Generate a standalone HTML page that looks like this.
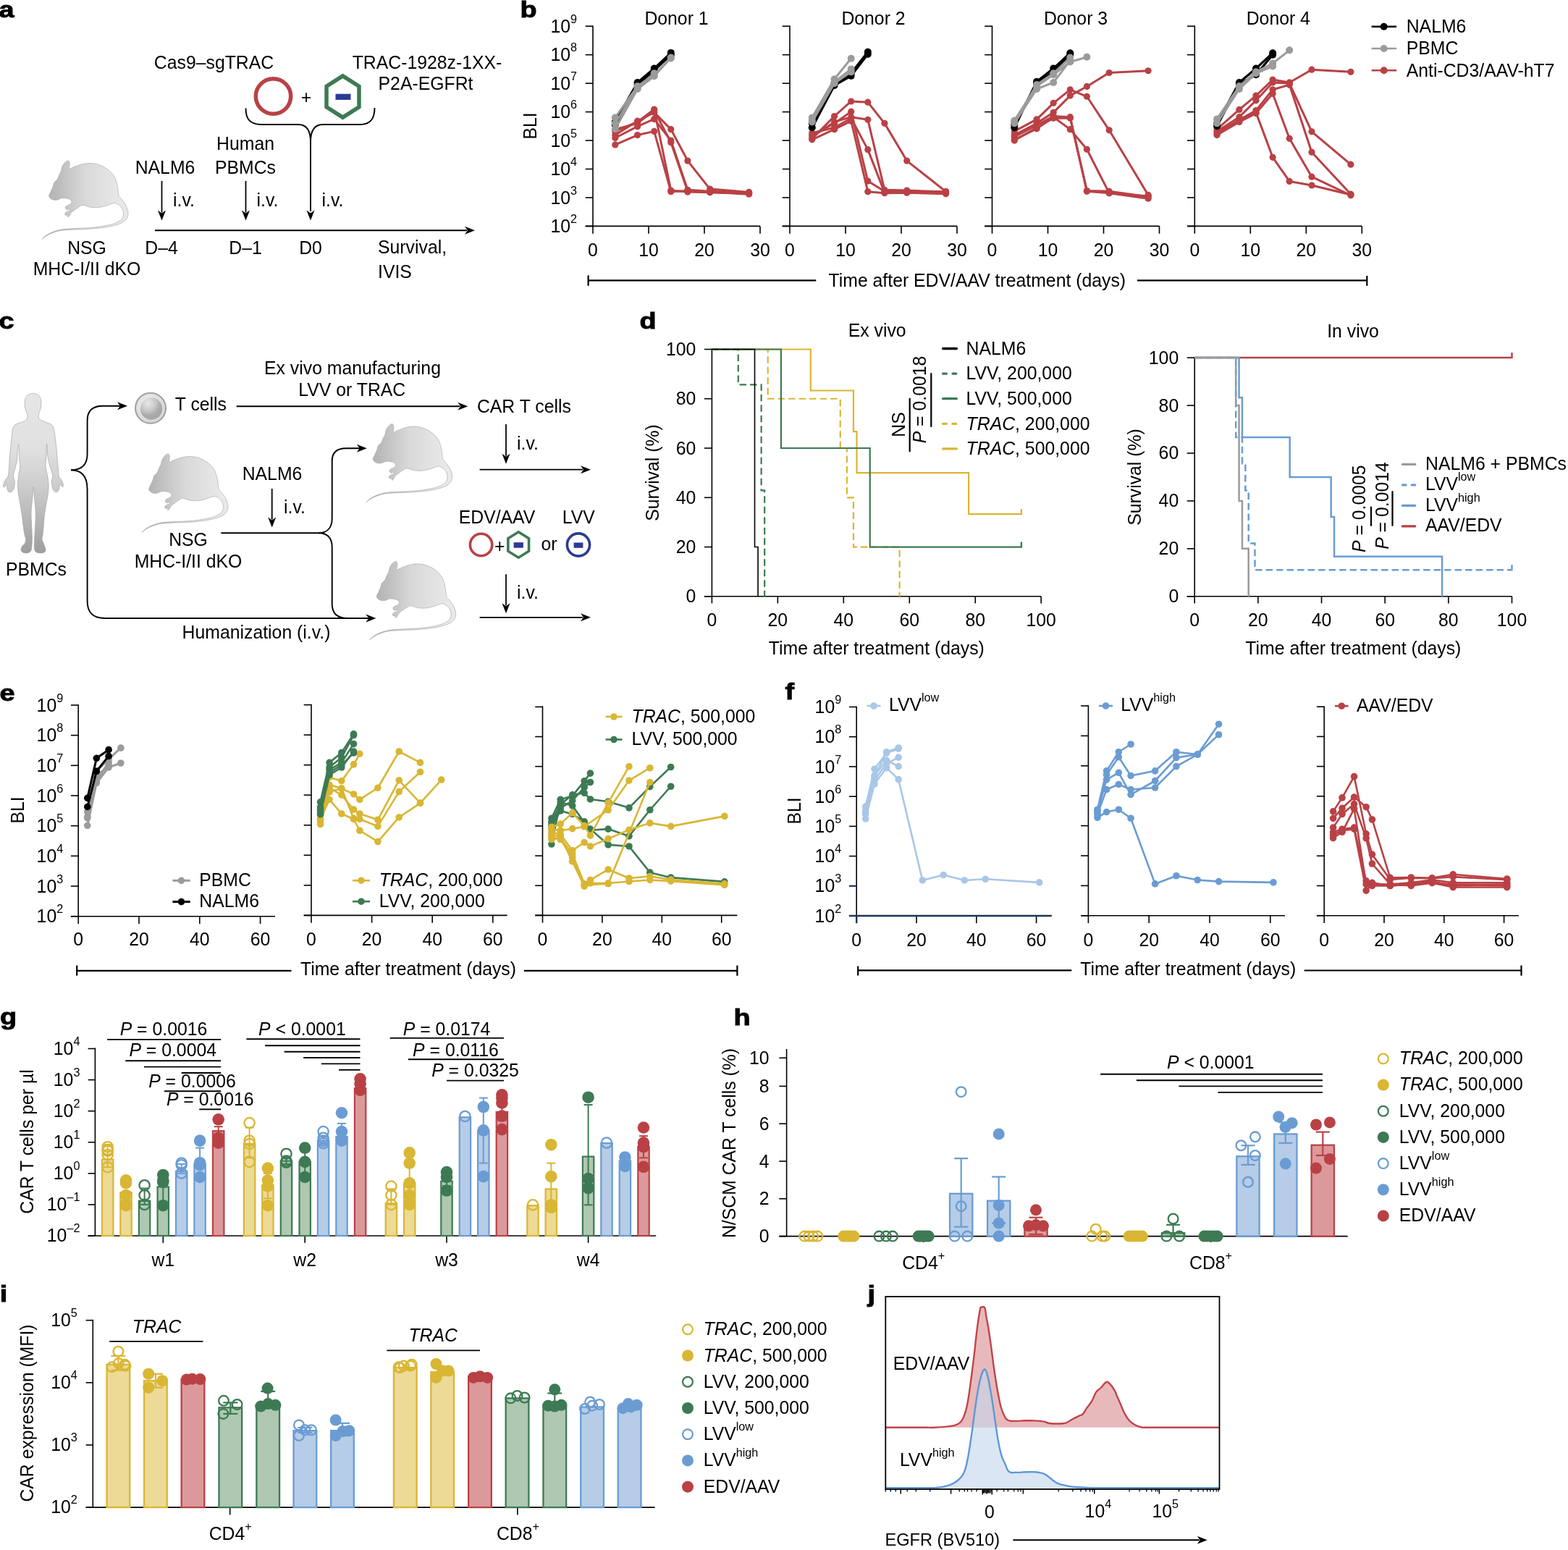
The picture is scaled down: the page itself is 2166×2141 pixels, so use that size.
<!DOCTYPE html><html><head><meta charset="utf-8"><title>Figure</title><style>html,body{margin:0;padding:0;background:#fff;}svg{display:block;}</style></head><body>
<svg width="2166" height="2141" viewBox="0 0 2166 2141" font-family='"Liberation Sans", Arial, Helvetica, sans-serif' font-size="25.84" fill="#000000">
<defs><linearGradient id="gm" x1="0" y1="0" x2="1" y2="0"><stop offset="0.1" stop-color="#b4b4b4"/><stop offset="0.5" stop-color="#d9d9d9"/><stop offset="0.9" stop-color="#e8e8e8"/></linearGradient><linearGradient id="gh" x1="0" y1="0" x2="0" y2="1"><stop offset="0" stop-color="#e6e6e6"/><stop offset="0.35" stop-color="#e0e0e0"/><stop offset="0.6" stop-color="#cbcbcb"/><stop offset="1" stop-color="#9e9e9e"/></linearGradient><radialGradient id="gt1" cx="0.45" cy="0.4" r="0.6"><stop offset="0" stop-color="#f4f4f4"/><stop offset="1" stop-color="#d6d6d6"/></radialGradient><radialGradient id="gt2" cx="0.35" cy="0.25" r="0.8"><stop offset="0" stop-color="#e8e8e8"/><stop offset="0.45" stop-color="#c6c6c6"/><stop offset="0.7" stop-color="#ababab"/><stop offset="1" stop-color="#a4a4a4"/></radialGradient></defs>
<rect x="0" y="0" width="2166" height="2141" fill="#ffffff"/>
<text x="0" y="0" font-size="31" font-weight="bold" stroke="#000" stroke-width="0.9" transform="translate(-1.5 24) scale(1.22 1)">a</text>
<text transform="translate(295.5 95) scale(0.96 1)" text-anchor="middle">Cas9–sgTRAC</text>
<text transform="translate(590 95) scale(0.96 1)" text-anchor="middle">TRAC-1928z-1XX-</text>
<text transform="translate(588 124) scale(0.96 1)" text-anchor="middle">P2A-EGFRt</text>
<circle cx="377.5" cy="133" r="24.2" fill="none" stroke="#b94145" stroke-width="5.5"/>
<text transform="translate(423 143) scale(0.96 1)" text-anchor="middle">+</text>
<polygon points="473.5,104.88 495.99,119.19 495.99,147.81 473.5,162.12 451.01,147.81 451.01,119.19" fill="none" stroke="#3d7a53" stroke-width="5.5" stroke-linejoin="miter"/>
<rect x="463.5" y="129.7" width="21" height="8.2" fill="#2c3b93"/>
<path d="M339.5,149.5 C339.5,164 345,172 361,172 L412,172 C424,172 429,180 429,196 L429,292" fill="none" stroke="#000000" stroke-width="1.9"/>
<path d="M517.5,149 C517.5,164 512,172 496,172 L446,172 C434,172 429,180 429,196" fill="none" stroke="#000000" stroke-width="1.9"/>
<path d="M423.5,290.5 L429,304.5 L434.5,290.5 L429,294.5 Z" fill="#000000"/>
<line x1="223.5" y1="250" x2="223.5" y2="293.5" stroke="#000000" stroke-width="1.8"/>
<path d="M218,290.5 L223.5,304.5 L229,290.5 L223.5,294.5 Z" fill="#000000"/>
<line x1="339.5" y1="250" x2="339.5" y2="293.5" stroke="#000000" stroke-width="1.8"/>
<path d="M334,290.5 L339.5,304.5 L345,290.5 L339.5,294.5 Z" fill="#000000"/>
<text transform="translate(239 285) scale(0.96 1)">i.v.</text>
<text transform="translate(354.5 285) scale(0.96 1)">i.v.</text>
<text transform="translate(444.5 285) scale(0.96 1)">i.v.</text>
<text transform="translate(228 240) scale(0.96 1)" text-anchor="middle">NALM6</text>
<text transform="translate(339 207) scale(0.96 1)" text-anchor="middle">Human</text>
<text transform="translate(339 240) scale(0.96 1)" text-anchor="middle">PBMCs</text>
<line x1="214" y1="318.2" x2="645" y2="318.2" stroke="#000000" stroke-width="1.9"/>
<path d="M642,312.7 L656,318.2 L642,323.7 L646,318.2 Z" fill="#000000"/>
<text transform="translate(223 351) scale(0.96 1)" text-anchor="middle">D–4</text>
<text transform="translate(339 351) scale(0.96 1)" text-anchor="middle">D–1</text>
<text transform="translate(429 351) scale(0.96 1)" text-anchor="middle">D0</text>
<text transform="translate(522 350) scale(0.96 1)">Survival,</text>
<text transform="translate(522 384) scale(0.96 1)">IVIS</text>
<text transform="translate(120 351) scale(0.96 1)" text-anchor="middle">NSG</text>
<text transform="translate(120 380) scale(0.96 1)" text-anchor="middle">MHC-I/II dKO</text>
<path d="M480,260 C484.17,244.17 490,220 500,200 C510,180 525,156.67 540,140 C555,123.33 575.83,105.83 590,100 C604.17,94.17 616.67,95 625,105 C633.33,115 638.83,135 640,160 C641.17,185 622,244.17 632,255 C642,265.83 663.67,239.17 700,225 C736.33,210.83 800,183.33 850,170 C900,156.67 950,146.67 1000,145 C1050,143.33 1100,147.5 1150,160 C1200,172.5 1255,195 1300,220 C1345,245 1386.67,276.67 1420,310 C1453.33,343.33 1480,381.67 1500,420 C1520,458.33 1529.67,500 1540,540 C1550.33,580 1556.67,623.33 1562,660 C1567.33,696.67 1562.33,733.33 1572,760 C1581.67,786.67 1598.67,791.67 1620,820 C1641.33,848.33 1679.17,893.33 1700,930 C1720.83,966.67 1736.33,1006.67 1745,1040 C1753.67,1073.33 1756.5,1101.67 1752,1130 C1747.5,1158.33 1736.67,1185.83 1718,1210 C1699.33,1234.17 1676.33,1255.33 1640,1275 C1603.67,1294.67 1556.67,1312.5 1500,1328 C1443.33,1343.5 1383.33,1356.33 1300,1368 C1216.67,1379.67 1100,1391 1000,1398 C900,1405 788.33,1405 700,1410 C611.67,1415 533.33,1418 470,1428 C406.67,1438 365,1453.83 320,1470 C275,1486.17 235,1504.17 200,1525 C165,1545.83 110,1597.17 110,1595 C110,1592.83 160,1537.5 200,1512 C240,1486.5 296.67,1460.33 350,1442 C403.33,1423.67 445,1411.5 520,1402 C595,1392.5 703.33,1390.67 800,1385 C896.67,1379.33 1000,1379.17 1100,1368 C1200,1356.83 1323.33,1336 1400,1318 C1476.67,1300 1520,1280.5 1560,1260 C1600,1239.5 1623,1221.67 1640,1195 C1657,1168.33 1662,1130.5 1662,1100 C1662,1069.5 1653.67,1038.33 1640,1012 C1626.33,985.67 1601.67,959.83 1580,942 C1558.33,924.17 1530,910.67 1510,905 C1490,899.33 1478.33,903.83 1460,908 C1441.67,912.17 1426.67,920.5 1400,930 C1373.33,939.5 1333.33,955.83 1300,965 C1266.67,974.17 1233.33,980.83 1200,985 C1166.67,989.17 1133.33,991.67 1100,990 C1066.67,988.33 1030,982 1000,975 C970,968 941.67,952.83 920,948 C898.33,943.17 888.33,940.67 870,946 C851.67,951.33 831.67,966 810,980 C788.33,994 763.33,1012.5 740,1030 C716.67,1047.5 689.17,1063.33 670,1085 C650.83,1106.67 636.67,1146.67 625,1160 C613.33,1173.33 602.83,1170 600,1165 C597.17,1160 613,1134.17 608,1130 C603,1125.83 580.5,1143.33 570,1140 C559.5,1136.67 544.67,1120.83 545,1110 C545.33,1099.17 557.83,1085 572,1075 C586.17,1065 617.83,1060 630,1050 C642.17,1040 650,1018.33 645,1015 C640,1011.67 612.5,1029.17 600,1030 C587.5,1030.83 577,1028.33 570,1020 C563,1011.67 553.83,991.67 558,980 C562.17,968.33 579.67,959.17 595,950 C610.33,940.83 637.17,934.17 650,925 C662.83,915.83 668.67,905.83 672,895 C675.33,884.17 677,871.17 670,860 C663,848.83 648.33,836 630,828 C611.67,820 585,814.67 560,812 C535,809.33 503.33,807.67 480,812 C456.67,816.33 440,832 420,838 C400,844 380.83,849.33 360,848 C339.17,846.67 313,839.33 295,830 C277,820.67 260.33,804.5 252,792 C243.67,779.5 241.17,772 245,755 C248.83,738 262.17,718.33 275,690 C287.83,661.67 310.83,614.67 322,585 C333.17,555.33 329.33,533.17 342,512 C354.67,490.83 381.67,483 398,458 C414.33,433 427.17,389.17 440,362 C452.83,334.83 468.33,312 475,295 C481.67,278 475.83,275.83 480,260 Z" transform="translate(50 215) scale(0.07246)" fill="url(#gm)" stroke="#a9a9a9" stroke-width="9"/>
<text x="0" y="0" font-size="31" font-weight="bold" stroke="#000" stroke-width="0.9" transform="translate(718.5 24) scale(1.22 1)">b</text>
<line x1="819" y1="35.4" x2="819" y2="313.22" stroke="#000000" stroke-width="1.6"/>
<line x1="808.7" y1="312.42" x2="1050" y2="312.42" stroke="#000000" stroke-width="1.6"/>
<line x1="808.7" y1="312.42" x2="819" y2="312.42" stroke="#000000" stroke-width="1.6"/>
<line x1="808.7" y1="272.96" x2="819" y2="272.96" stroke="#000000" stroke-width="1.6"/>
<line x1="808.7" y1="233.5" x2="819" y2="233.5" stroke="#000000" stroke-width="1.6"/>
<line x1="808.7" y1="194.04" x2="819" y2="194.04" stroke="#000000" stroke-width="1.6"/>
<line x1="808.7" y1="154.58" x2="819" y2="154.58" stroke="#000000" stroke-width="1.6"/>
<line x1="808.7" y1="115.12" x2="819" y2="115.12" stroke="#000000" stroke-width="1.6"/>
<line x1="808.7" y1="75.66" x2="819" y2="75.66" stroke="#000000" stroke-width="1.6"/>
<line x1="808.7" y1="36.2" x2="819" y2="36.2" stroke="#000000" stroke-width="1.6"/>
<line x1="819" y1="312.42" x2="819" y2="322.72" stroke="#000000" stroke-width="1.6"/>
<text transform="translate(819 354) scale(0.96 1)" text-anchor="middle">0</text>
<line x1="896" y1="312.42" x2="896" y2="322.72" stroke="#000000" stroke-width="1.6"/>
<text transform="translate(896 354) scale(0.96 1)" text-anchor="middle">10</text>
<line x1="973" y1="312.42" x2="973" y2="322.72" stroke="#000000" stroke-width="1.6"/>
<text transform="translate(973 354) scale(0.96 1)" text-anchor="middle">20</text>
<line x1="1050" y1="312.42" x2="1050" y2="322.72" stroke="#000000" stroke-width="1.6"/>
<text transform="translate(1050 354) scale(0.96 1)" text-anchor="middle">30</text>
<text transform="translate(934.5 33.6) scale(0.96 1)" text-anchor="middle">Donor 1</text>
<polyline points="849.8,199.96 880.6,186.54 903.7,181.41 926.8,264.67 949.9,263.49 980.7,265.46 1034.6,268.22" fill="none" stroke="#b94145" stroke-width="3" stroke-linejoin="round"/>
<circle cx="849.8" cy="199.96" r="4.6" fill="#b94145"/>
<circle cx="880.6" cy="186.54" r="4.6" fill="#b94145"/>
<circle cx="903.7" cy="181.41" r="4.6" fill="#b94145"/>
<circle cx="926.8" cy="264.67" r="4.6" fill="#b94145"/>
<circle cx="949.9" cy="263.49" r="4.6" fill="#b94145"/>
<circle cx="980.7" cy="265.46" r="4.6" fill="#b94145"/>
<circle cx="1034.6" cy="268.22" r="4.6" fill="#b94145"/>
<polyline points="849.8,190.49 880.6,174.7 903.7,164.44 926.8,194.04 949.9,262.31 980.7,264.28 1034.6,266.25" fill="none" stroke="#b94145" stroke-width="3" stroke-linejoin="round"/>
<circle cx="849.8" cy="190.49" r="4.6" fill="#b94145"/>
<circle cx="880.6" cy="174.7" r="4.6" fill="#b94145"/>
<circle cx="903.7" cy="164.44" r="4.6" fill="#b94145"/>
<circle cx="926.8" cy="194.04" r="4.6" fill="#b94145"/>
<circle cx="949.9" cy="262.31" r="4.6" fill="#b94145"/>
<circle cx="980.7" cy="264.28" r="4.6" fill="#b94145"/>
<circle cx="1034.6" cy="266.25" r="4.6" fill="#b94145"/>
<polyline points="849.8,186.54 880.6,167.21 903.7,155.37 926.8,178.65 949.9,222.06 980.7,261.12 1034.6,265.46" fill="none" stroke="#b94145" stroke-width="3" stroke-linejoin="round"/>
<circle cx="849.8" cy="186.54" r="4.6" fill="#b94145"/>
<circle cx="880.6" cy="167.21" r="4.6" fill="#b94145"/>
<circle cx="903.7" cy="155.37" r="4.6" fill="#b94145"/>
<circle cx="926.8" cy="178.65" r="4.6" fill="#b94145"/>
<circle cx="949.9" cy="222.06" r="4.6" fill="#b94145"/>
<circle cx="980.7" cy="261.12" r="4.6" fill="#b94145"/>
<circle cx="1034.6" cy="265.46" r="4.6" fill="#b94145"/>
<polyline points="849.8,181.41 880.6,168.39 903.7,151.03 926.8,263.1 949.9,265.07 980.7,265.86 1034.6,267.04" fill="none" stroke="#b94145" stroke-width="3" stroke-linejoin="round"/>
<circle cx="849.8" cy="181.41" r="4.6" fill="#b94145"/>
<circle cx="880.6" cy="168.39" r="4.6" fill="#b94145"/>
<circle cx="903.7" cy="151.03" r="4.6" fill="#b94145"/>
<circle cx="926.8" cy="263.1" r="4.6" fill="#b94145"/>
<circle cx="949.9" cy="265.07" r="4.6" fill="#b94145"/>
<circle cx="980.7" cy="265.86" r="4.6" fill="#b94145"/>
<circle cx="1034.6" cy="267.04" r="4.6" fill="#b94145"/>
<polyline points="849.8,178.65 880.6,170.36 903.7,152.61 926.8,196.8 949.9,264.28 980.7,265.07 1034.6,267.44" fill="none" stroke="#b94145" stroke-width="3" stroke-linejoin="round"/>
<circle cx="849.8" cy="178.65" r="4.6" fill="#b94145"/>
<circle cx="880.6" cy="170.36" r="4.6" fill="#b94145"/>
<circle cx="903.7" cy="152.61" r="4.6" fill="#b94145"/>
<circle cx="926.8" cy="196.8" r="4.6" fill="#b94145"/>
<circle cx="949.9" cy="264.28" r="4.6" fill="#b94145"/>
<circle cx="980.7" cy="265.07" r="4.6" fill="#b94145"/>
<circle cx="1034.6" cy="267.44" r="4.6" fill="#b94145"/>
<polyline points="849.8,168.39 880.6,113.94 903.7,94.6 926.8,72.9" fill="none" stroke="#000000" stroke-width="3.2" stroke-linejoin="round"/>
<circle cx="849.8" cy="168.39" r="5" fill="#000000"/>
<circle cx="880.6" cy="113.94" r="5" fill="#000000"/>
<circle cx="903.7" cy="94.6" r="5" fill="#000000"/>
<circle cx="926.8" cy="72.9" r="5" fill="#000000"/>
<polyline points="849.8,172.34 880.6,117.09 903.7,97.36 926.8,75.66" fill="none" stroke="#000000" stroke-width="3.2" stroke-linejoin="round"/>
<circle cx="849.8" cy="172.34" r="5" fill="#000000"/>
<circle cx="880.6" cy="117.09" r="5" fill="#000000"/>
<circle cx="903.7" cy="97.36" r="5" fill="#000000"/>
<circle cx="926.8" cy="75.66" r="5" fill="#000000"/>
<polyline points="849.8,162.47 880.6,119.07 903.7,103.28 926.8,80.4" fill="none" stroke="#9b9b9b" stroke-width="3" stroke-linejoin="round"/>
<circle cx="849.8" cy="162.47" r="5" fill="#9b9b9b"/>
<circle cx="880.6" cy="119.07" r="5" fill="#9b9b9b"/>
<circle cx="903.7" cy="103.28" r="5" fill="#9b9b9b"/>
<circle cx="926.8" cy="80.4" r="5" fill="#9b9b9b"/>
<polyline points="849.8,178.26 880.6,123.01 903.7,105.26 926.8,79.61" fill="none" stroke="#9b9b9b" stroke-width="3" stroke-linejoin="round"/>
<circle cx="849.8" cy="178.26" r="5" fill="#9b9b9b"/>
<circle cx="880.6" cy="123.01" r="5" fill="#9b9b9b"/>
<circle cx="903.7" cy="105.26" r="5" fill="#9b9b9b"/>
<circle cx="926.8" cy="79.61" r="5" fill="#9b9b9b"/>
<polyline points="849.8,170.36 880.6,121.04 903.7,101.31" fill="none" stroke="#9b9b9b" stroke-width="3" stroke-linejoin="round"/>
<circle cx="849.8" cy="170.36" r="5" fill="#9b9b9b"/>
<circle cx="880.6" cy="121.04" r="5" fill="#9b9b9b"/>
<circle cx="903.7" cy="101.31" r="5" fill="#9b9b9b"/>
<line x1="1091" y1="35.4" x2="1091" y2="313.22" stroke="#000000" stroke-width="1.6"/>
<line x1="1080.7" y1="312.42" x2="1322" y2="312.42" stroke="#000000" stroke-width="1.6"/>
<line x1="1080.7" y1="312.42" x2="1091" y2="312.42" stroke="#000000" stroke-width="1.6"/>
<line x1="1080.7" y1="272.96" x2="1091" y2="272.96" stroke="#000000" stroke-width="1.6"/>
<line x1="1080.7" y1="233.5" x2="1091" y2="233.5" stroke="#000000" stroke-width="1.6"/>
<line x1="1080.7" y1="194.04" x2="1091" y2="194.04" stroke="#000000" stroke-width="1.6"/>
<line x1="1080.7" y1="154.58" x2="1091" y2="154.58" stroke="#000000" stroke-width="1.6"/>
<line x1="1080.7" y1="115.12" x2="1091" y2="115.12" stroke="#000000" stroke-width="1.6"/>
<line x1="1080.7" y1="75.66" x2="1091" y2="75.66" stroke="#000000" stroke-width="1.6"/>
<line x1="1080.7" y1="36.2" x2="1091" y2="36.2" stroke="#000000" stroke-width="1.6"/>
<line x1="1091" y1="312.42" x2="1091" y2="322.72" stroke="#000000" stroke-width="1.6"/>
<text transform="translate(1091 354) scale(0.96 1)" text-anchor="middle">0</text>
<line x1="1168" y1="312.42" x2="1168" y2="322.72" stroke="#000000" stroke-width="1.6"/>
<text transform="translate(1168 354) scale(0.96 1)" text-anchor="middle">10</text>
<line x1="1245" y1="312.42" x2="1245" y2="322.72" stroke="#000000" stroke-width="1.6"/>
<text transform="translate(1245 354) scale(0.96 1)" text-anchor="middle">20</text>
<line x1="1322" y1="312.42" x2="1322" y2="322.72" stroke="#000000" stroke-width="1.6"/>
<text transform="translate(1322 354) scale(0.96 1)" text-anchor="middle">30</text>
<text transform="translate(1206.5 33.6) scale(0.96 1)" text-anchor="middle">Donor 2</text>
<polyline points="1121.8,191.67 1152.6,160.5 1175.7,139.98 1198.8,141.16 1221.9,170.36 1252.7,222.06 1306.6,264.67" fill="none" stroke="#b94145" stroke-width="3" stroke-linejoin="round"/>
<circle cx="1121.8" cy="191.67" r="4.6" fill="#b94145"/>
<circle cx="1152.6" cy="160.5" r="4.6" fill="#b94145"/>
<circle cx="1175.7" cy="139.98" r="4.6" fill="#b94145"/>
<circle cx="1198.8" cy="141.16" r="4.6" fill="#b94145"/>
<circle cx="1221.9" cy="170.36" r="4.6" fill="#b94145"/>
<circle cx="1252.7" cy="222.06" r="4.6" fill="#b94145"/>
<circle cx="1306.6" cy="264.67" r="4.6" fill="#b94145"/>
<polyline points="1121.8,186.54 1152.6,170.36 1175.7,154.19 1198.8,250.07 1221.9,264.28 1252.7,264.28 1306.6,266.65" fill="none" stroke="#b94145" stroke-width="3" stroke-linejoin="round"/>
<circle cx="1121.8" cy="186.54" r="4.6" fill="#b94145"/>
<circle cx="1152.6" cy="170.36" r="4.6" fill="#b94145"/>
<circle cx="1175.7" cy="154.19" r="4.6" fill="#b94145"/>
<circle cx="1198.8" cy="250.07" r="4.6" fill="#b94145"/>
<circle cx="1221.9" cy="264.28" r="4.6" fill="#b94145"/>
<circle cx="1252.7" cy="264.28" r="4.6" fill="#b94145"/>
<circle cx="1306.6" cy="266.65" r="4.6" fill="#b94145"/>
<polyline points="1121.8,188.91 1152.6,168.39 1175.7,161.68 1198.8,165.23 1221.9,262.31 1252.7,263.1 1306.6,265.07" fill="none" stroke="#b94145" stroke-width="3" stroke-linejoin="round"/>
<circle cx="1121.8" cy="188.91" r="4.6" fill="#b94145"/>
<circle cx="1152.6" cy="168.39" r="4.6" fill="#b94145"/>
<circle cx="1175.7" cy="161.68" r="4.6" fill="#b94145"/>
<circle cx="1198.8" cy="165.23" r="4.6" fill="#b94145"/>
<circle cx="1221.9" cy="262.31" r="4.6" fill="#b94145"/>
<circle cx="1252.7" cy="263.1" r="4.6" fill="#b94145"/>
<circle cx="1306.6" cy="265.07" r="4.6" fill="#b94145"/>
<polyline points="1121.8,192.86 1152.6,178.65 1175.7,167.21 1198.8,264.67 1221.9,266.65 1252.7,266.25 1306.6,267.83" fill="none" stroke="#b94145" stroke-width="3" stroke-linejoin="round"/>
<circle cx="1121.8" cy="192.86" r="4.6" fill="#b94145"/>
<circle cx="1152.6" cy="178.65" r="4.6" fill="#b94145"/>
<circle cx="1175.7" cy="167.21" r="4.6" fill="#b94145"/>
<circle cx="1198.8" cy="264.67" r="4.6" fill="#b94145"/>
<circle cx="1221.9" cy="266.65" r="4.6" fill="#b94145"/>
<circle cx="1252.7" cy="266.25" r="4.6" fill="#b94145"/>
<circle cx="1306.6" cy="267.83" r="4.6" fill="#b94145"/>
<polyline points="1121.8,183.78 1152.6,176.28 1175.7,163.26 1198.8,206.67 1221.9,265.86 1252.7,265.86 1306.6,264.67" fill="none" stroke="#b94145" stroke-width="3" stroke-linejoin="round"/>
<circle cx="1121.8" cy="183.78" r="4.6" fill="#b94145"/>
<circle cx="1152.6" cy="176.28" r="4.6" fill="#b94145"/>
<circle cx="1175.7" cy="163.26" r="4.6" fill="#b94145"/>
<circle cx="1198.8" cy="206.67" r="4.6" fill="#b94145"/>
<circle cx="1221.9" cy="265.86" r="4.6" fill="#b94145"/>
<circle cx="1252.7" cy="265.86" r="4.6" fill="#b94145"/>
<circle cx="1306.6" cy="264.67" r="4.6" fill="#b94145"/>
<polyline points="1121.8,176.28 1152.6,117.88 1175.7,104.86 1198.8,74.87" fill="none" stroke="#000000" stroke-width="3.2" stroke-linejoin="round"/>
<circle cx="1121.8" cy="176.28" r="5" fill="#000000"/>
<circle cx="1152.6" cy="117.88" r="5" fill="#000000"/>
<circle cx="1175.7" cy="104.86" r="5" fill="#000000"/>
<circle cx="1198.8" cy="74.87" r="5" fill="#000000"/>
<polyline points="1121.8,170.36 1152.6,115.12 1175.7,101.31 1198.8,71.71" fill="none" stroke="#000000" stroke-width="3.2" stroke-linejoin="round"/>
<circle cx="1121.8" cy="170.36" r="5" fill="#000000"/>
<circle cx="1152.6" cy="115.12" r="5" fill="#000000"/>
<circle cx="1175.7" cy="101.31" r="5" fill="#000000"/>
<circle cx="1198.8" cy="71.71" r="5" fill="#000000"/>
<polyline points="1121.8,162.47 1152.6,109.2 1175.7,80.79" fill="none" stroke="#9b9b9b" stroke-width="3" stroke-linejoin="round"/>
<circle cx="1121.8" cy="162.47" r="5" fill="#9b9b9b"/>
<circle cx="1152.6" cy="109.2" r="5" fill="#9b9b9b"/>
<circle cx="1175.7" cy="80.79" r="5" fill="#9b9b9b"/>
<polyline points="1121.8,166.42 1152.6,113.15 1175.7,95.39" fill="none" stroke="#9b9b9b" stroke-width="3" stroke-linejoin="round"/>
<circle cx="1121.8" cy="166.42" r="5" fill="#9b9b9b"/>
<circle cx="1152.6" cy="113.15" r="5" fill="#9b9b9b"/>
<circle cx="1175.7" cy="95.39" r="5" fill="#9b9b9b"/>
<polyline points="1121.8,168.39 1152.6,115.12 1175.7,99.34" fill="none" stroke="#9b9b9b" stroke-width="3" stroke-linejoin="round"/>
<circle cx="1121.8" cy="168.39" r="5" fill="#9b9b9b"/>
<circle cx="1152.6" cy="115.12" r="5" fill="#9b9b9b"/>
<circle cx="1175.7" cy="99.34" r="5" fill="#9b9b9b"/>
<line x1="1370.5" y1="35.4" x2="1370.5" y2="313.22" stroke="#000000" stroke-width="1.6"/>
<line x1="1360.2" y1="312.42" x2="1601.5" y2="312.42" stroke="#000000" stroke-width="1.6"/>
<line x1="1360.2" y1="312.42" x2="1370.5" y2="312.42" stroke="#000000" stroke-width="1.6"/>
<line x1="1360.2" y1="272.96" x2="1370.5" y2="272.96" stroke="#000000" stroke-width="1.6"/>
<line x1="1360.2" y1="233.5" x2="1370.5" y2="233.5" stroke="#000000" stroke-width="1.6"/>
<line x1="1360.2" y1="194.04" x2="1370.5" y2="194.04" stroke="#000000" stroke-width="1.6"/>
<line x1="1360.2" y1="154.58" x2="1370.5" y2="154.58" stroke="#000000" stroke-width="1.6"/>
<line x1="1360.2" y1="115.12" x2="1370.5" y2="115.12" stroke="#000000" stroke-width="1.6"/>
<line x1="1360.2" y1="75.66" x2="1370.5" y2="75.66" stroke="#000000" stroke-width="1.6"/>
<line x1="1360.2" y1="36.2" x2="1370.5" y2="36.2" stroke="#000000" stroke-width="1.6"/>
<line x1="1370.5" y1="312.42" x2="1370.5" y2="322.72" stroke="#000000" stroke-width="1.6"/>
<text transform="translate(1370.5 354) scale(0.96 1)" text-anchor="middle">0</text>
<line x1="1447.5" y1="312.42" x2="1447.5" y2="322.72" stroke="#000000" stroke-width="1.6"/>
<text transform="translate(1447.5 354) scale(0.96 1)" text-anchor="middle">10</text>
<line x1="1524.5" y1="312.42" x2="1524.5" y2="322.72" stroke="#000000" stroke-width="1.6"/>
<text transform="translate(1524.5 354) scale(0.96 1)" text-anchor="middle">20</text>
<line x1="1601.5" y1="312.42" x2="1601.5" y2="322.72" stroke="#000000" stroke-width="1.6"/>
<text transform="translate(1601.5 354) scale(0.96 1)" text-anchor="middle">30</text>
<text transform="translate(1486 33.6) scale(0.96 1)" text-anchor="middle">Donor 3</text>
<polyline points="1401.3,181.41 1432.1,164.84 1455.2,142.35 1478.3,123.8 1501.4,133.27 1532.2,179.83 1586.1,269.41" fill="none" stroke="#b94145" stroke-width="3" stroke-linejoin="round"/>
<circle cx="1401.3" cy="181.41" r="4.6" fill="#b94145"/>
<circle cx="1432.1" cy="164.84" r="4.6" fill="#b94145"/>
<circle cx="1455.2" cy="142.35" r="4.6" fill="#b94145"/>
<circle cx="1478.3" cy="123.8" r="4.6" fill="#b94145"/>
<circle cx="1501.4" cy="133.27" r="4.6" fill="#b94145"/>
<circle cx="1532.2" cy="179.83" r="4.6" fill="#b94145"/>
<circle cx="1586.1" cy="269.41" r="4.6" fill="#b94145"/>
<polyline points="1401.3,186.54 1432.1,170.36 1455.2,155.37 1478.3,132.09 1501.4,119.46 1532.2,100.52 1586.1,97.76" fill="none" stroke="#b94145" stroke-width="3" stroke-linejoin="round"/>
<circle cx="1401.3" cy="186.54" r="4.6" fill="#b94145"/>
<circle cx="1432.1" cy="170.36" r="4.6" fill="#b94145"/>
<circle cx="1455.2" cy="155.37" r="4.6" fill="#b94145"/>
<circle cx="1478.3" cy="132.09" r="4.6" fill="#b94145"/>
<circle cx="1501.4" cy="119.46" r="4.6" fill="#b94145"/>
<circle cx="1532.2" cy="100.52" r="4.6" fill="#b94145"/>
<circle cx="1586.1" cy="97.76" r="4.6" fill="#b94145"/>
<polyline points="1401.3,188.91 1432.1,173.13 1455.2,160.5 1478.3,161.68 1501.4,263.49 1532.2,264.28 1586.1,271.78" fill="none" stroke="#b94145" stroke-width="3" stroke-linejoin="round"/>
<circle cx="1401.3" cy="188.91" r="4.6" fill="#b94145"/>
<circle cx="1432.1" cy="173.13" r="4.6" fill="#b94145"/>
<circle cx="1455.2" cy="160.5" r="4.6" fill="#b94145"/>
<circle cx="1478.3" cy="161.68" r="4.6" fill="#b94145"/>
<circle cx="1501.4" cy="263.49" r="4.6" fill="#b94145"/>
<circle cx="1532.2" cy="264.28" r="4.6" fill="#b94145"/>
<circle cx="1586.1" cy="271.78" r="4.6" fill="#b94145"/>
<polyline points="1401.3,192.86 1432.1,177.86 1455.2,161.68 1478.3,178.65 1501.4,206.27 1532.2,266.65 1586.1,274.14" fill="none" stroke="#b94145" stroke-width="3" stroke-linejoin="round"/>
<circle cx="1401.3" cy="192.86" r="4.6" fill="#b94145"/>
<circle cx="1432.1" cy="177.86" r="4.6" fill="#b94145"/>
<circle cx="1455.2" cy="161.68" r="4.6" fill="#b94145"/>
<circle cx="1478.3" cy="178.65" r="4.6" fill="#b94145"/>
<circle cx="1501.4" cy="206.27" r="4.6" fill="#b94145"/>
<circle cx="1532.2" cy="266.65" r="4.6" fill="#b94145"/>
<circle cx="1586.1" cy="274.14" r="4.6" fill="#b94145"/>
<polyline points="1401.3,194.04 1432.1,176.28 1455.2,163.26 1478.3,163.26 1501.4,264.28 1532.2,266.65 1586.1,270.99" fill="none" stroke="#b94145" stroke-width="3" stroke-linejoin="round"/>
<circle cx="1401.3" cy="194.04" r="4.6" fill="#b94145"/>
<circle cx="1432.1" cy="176.28" r="4.6" fill="#b94145"/>
<circle cx="1455.2" cy="163.26" r="4.6" fill="#b94145"/>
<circle cx="1478.3" cy="163.26" r="4.6" fill="#b94145"/>
<circle cx="1501.4" cy="264.28" r="4.6" fill="#b94145"/>
<circle cx="1532.2" cy="266.65" r="4.6" fill="#b94145"/>
<circle cx="1586.1" cy="270.99" r="4.6" fill="#b94145"/>
<polyline points="1401.3,176.28 1432.1,112.75 1455.2,94.6 1478.3,73.29" fill="none" stroke="#000000" stroke-width="3.2" stroke-linejoin="round"/>
<circle cx="1401.3" cy="176.28" r="5" fill="#000000"/>
<circle cx="1432.1" cy="112.75" r="5" fill="#000000"/>
<circle cx="1455.2" cy="94.6" r="5" fill="#000000"/>
<circle cx="1478.3" cy="73.29" r="5" fill="#000000"/>
<polyline points="1401.3,172.34 1432.1,115.12 1455.2,99.34 1478.3,75.66" fill="none" stroke="#000000" stroke-width="3.2" stroke-linejoin="round"/>
<circle cx="1401.3" cy="172.34" r="5" fill="#000000"/>
<circle cx="1432.1" cy="115.12" r="5" fill="#000000"/>
<circle cx="1455.2" cy="99.34" r="5" fill="#000000"/>
<circle cx="1478.3" cy="75.66" r="5" fill="#000000"/>
<polyline points="1401.3,166.42 1432.1,119.07 1455.2,103.28 1478.3,85.53 1501.4,78.82" fill="none" stroke="#9b9b9b" stroke-width="3" stroke-linejoin="round"/>
<circle cx="1401.3" cy="166.42" r="5" fill="#9b9b9b"/>
<circle cx="1432.1" cy="119.07" r="5" fill="#9b9b9b"/>
<circle cx="1455.2" cy="103.28" r="5" fill="#9b9b9b"/>
<circle cx="1478.3" cy="85.53" r="5" fill="#9b9b9b"/>
<circle cx="1501.4" cy="78.82" r="5" fill="#9b9b9b"/>
<polyline points="1401.3,170.36 1432.1,123.01 1455.2,113.94 1478.3,83.55" fill="none" stroke="#9b9b9b" stroke-width="3" stroke-linejoin="round"/>
<circle cx="1401.3" cy="170.36" r="5" fill="#9b9b9b"/>
<circle cx="1432.1" cy="123.01" r="5" fill="#9b9b9b"/>
<circle cx="1455.2" cy="113.94" r="5" fill="#9b9b9b"/>
<circle cx="1478.3" cy="83.55" r="5" fill="#9b9b9b"/>
<polyline points="1401.3,168.39 1432.1,117.09 1455.2,101.31 1478.3,79.61" fill="none" stroke="#9b9b9b" stroke-width="3" stroke-linejoin="round"/>
<circle cx="1401.3" cy="168.39" r="5" fill="#9b9b9b"/>
<circle cx="1432.1" cy="117.09" r="5" fill="#9b9b9b"/>
<circle cx="1455.2" cy="101.31" r="5" fill="#9b9b9b"/>
<circle cx="1478.3" cy="79.61" r="5" fill="#9b9b9b"/>
<line x1="1650.3" y1="35.4" x2="1650.3" y2="313.22" stroke="#000000" stroke-width="1.6"/>
<line x1="1640" y1="312.42" x2="1881.3" y2="312.42" stroke="#000000" stroke-width="1.6"/>
<line x1="1640" y1="312.42" x2="1650.3" y2="312.42" stroke="#000000" stroke-width="1.6"/>
<line x1="1640" y1="272.96" x2="1650.3" y2="272.96" stroke="#000000" stroke-width="1.6"/>
<line x1="1640" y1="233.5" x2="1650.3" y2="233.5" stroke="#000000" stroke-width="1.6"/>
<line x1="1640" y1="194.04" x2="1650.3" y2="194.04" stroke="#000000" stroke-width="1.6"/>
<line x1="1640" y1="154.58" x2="1650.3" y2="154.58" stroke="#000000" stroke-width="1.6"/>
<line x1="1640" y1="115.12" x2="1650.3" y2="115.12" stroke="#000000" stroke-width="1.6"/>
<line x1="1640" y1="75.66" x2="1650.3" y2="75.66" stroke="#000000" stroke-width="1.6"/>
<line x1="1640" y1="36.2" x2="1650.3" y2="36.2" stroke="#000000" stroke-width="1.6"/>
<line x1="1650.3" y1="312.42" x2="1650.3" y2="322.72" stroke="#000000" stroke-width="1.6"/>
<text transform="translate(1650.3 354) scale(0.96 1)" text-anchor="middle">0</text>
<line x1="1727.3" y1="312.42" x2="1727.3" y2="322.72" stroke="#000000" stroke-width="1.6"/>
<text transform="translate(1727.3 354) scale(0.96 1)" text-anchor="middle">10</text>
<line x1="1804.3" y1="312.42" x2="1804.3" y2="322.72" stroke="#000000" stroke-width="1.6"/>
<text transform="translate(1804.3 354) scale(0.96 1)" text-anchor="middle">20</text>
<line x1="1881.3" y1="312.42" x2="1881.3" y2="322.72" stroke="#000000" stroke-width="1.6"/>
<text transform="translate(1881.3 354) scale(0.96 1)" text-anchor="middle">30</text>
<text transform="translate(1765.8 33.6) scale(0.96 1)" text-anchor="middle">Donor 4</text>
<polyline points="1681.1,178.65 1711.9,151.42 1735,132.09 1758.1,109.99 1781.2,113.94 1812,96.18 1865.9,99.34" fill="none" stroke="#b94145" stroke-width="3" stroke-linejoin="round"/>
<circle cx="1681.1" cy="178.65" r="4.6" fill="#b94145"/>
<circle cx="1711.9" cy="151.42" r="4.6" fill="#b94145"/>
<circle cx="1735" cy="132.09" r="4.6" fill="#b94145"/>
<circle cx="1758.1" cy="109.99" r="4.6" fill="#b94145"/>
<circle cx="1781.2" cy="113.94" r="4.6" fill="#b94145"/>
<circle cx="1812" cy="96.18" r="4.6" fill="#b94145"/>
<circle cx="1865.9" cy="99.34" r="4.6" fill="#b94145"/>
<polyline points="1681.1,181.41 1711.9,161.68 1735,138.8 1758.1,113.94 1781.2,115.12 1812,181.81 1865.9,227.19" fill="none" stroke="#b94145" stroke-width="3" stroke-linejoin="round"/>
<circle cx="1681.1" cy="181.41" r="4.6" fill="#b94145"/>
<circle cx="1711.9" cy="161.68" r="4.6" fill="#b94145"/>
<circle cx="1735" cy="138.8" r="4.6" fill="#b94145"/>
<circle cx="1758.1" cy="113.94" r="4.6" fill="#b94145"/>
<circle cx="1781.2" cy="115.12" r="4.6" fill="#b94145"/>
<circle cx="1812" cy="181.81" r="4.6" fill="#b94145"/>
<circle cx="1865.9" cy="227.19" r="4.6" fill="#b94145"/>
<polyline points="1681.1,183.78 1711.9,165.63 1735,152.61 1758.1,123.8 1781.2,117.09 1812,210.22 1865.9,268.22" fill="none" stroke="#b94145" stroke-width="3" stroke-linejoin="round"/>
<circle cx="1681.1" cy="183.78" r="4.6" fill="#b94145"/>
<circle cx="1711.9" cy="165.63" r="4.6" fill="#b94145"/>
<circle cx="1735" cy="152.61" r="4.6" fill="#b94145"/>
<circle cx="1758.1" cy="123.8" r="4.6" fill="#b94145"/>
<circle cx="1781.2" cy="117.09" r="4.6" fill="#b94145"/>
<circle cx="1812" cy="210.22" r="4.6" fill="#b94145"/>
<circle cx="1865.9" cy="268.22" r="4.6" fill="#b94145"/>
<polyline points="1681.1,186.54 1711.9,168.39 1735,156.55 1758.1,129.33 1781.2,191.28 1812,244.15 1865.9,269.8" fill="none" stroke="#b94145" stroke-width="3" stroke-linejoin="round"/>
<circle cx="1681.1" cy="186.54" r="4.6" fill="#b94145"/>
<circle cx="1711.9" cy="168.39" r="4.6" fill="#b94145"/>
<circle cx="1735" cy="156.55" r="4.6" fill="#b94145"/>
<circle cx="1758.1" cy="129.33" r="4.6" fill="#b94145"/>
<circle cx="1781.2" cy="191.28" r="4.6" fill="#b94145"/>
<circle cx="1812" cy="244.15" r="4.6" fill="#b94145"/>
<circle cx="1865.9" cy="269.8" r="4.6" fill="#b94145"/>
<polyline points="1681.1,185.36 1711.9,167.21 1735,155.37 1758.1,217.32 1781.2,250.47 1812,255.99 1865.9,269.01" fill="none" stroke="#b94145" stroke-width="3" stroke-linejoin="round"/>
<circle cx="1681.1" cy="185.36" r="4.6" fill="#b94145"/>
<circle cx="1711.9" cy="167.21" r="4.6" fill="#b94145"/>
<circle cx="1735" cy="155.37" r="4.6" fill="#b94145"/>
<circle cx="1758.1" cy="217.32" r="4.6" fill="#b94145"/>
<circle cx="1781.2" cy="250.47" r="4.6" fill="#b94145"/>
<circle cx="1812" cy="255.99" r="4.6" fill="#b94145"/>
<circle cx="1865.9" cy="269.01" r="4.6" fill="#b94145"/>
<polyline points="1681.1,170.36 1711.9,113.94 1735,94.6 1758.1,73.29" fill="none" stroke="#000000" stroke-width="3.2" stroke-linejoin="round"/>
<circle cx="1681.1" cy="170.36" r="5" fill="#000000"/>
<circle cx="1711.9" cy="113.94" r="5" fill="#000000"/>
<circle cx="1735" cy="94.6" r="5" fill="#000000"/>
<circle cx="1758.1" cy="73.29" r="5" fill="#000000"/>
<polyline points="1681.1,174.31 1711.9,115.91 1735,103.28 1758.1,75.66" fill="none" stroke="#000000" stroke-width="3.2" stroke-linejoin="round"/>
<circle cx="1681.1" cy="174.31" r="5" fill="#000000"/>
<circle cx="1711.9" cy="115.91" r="5" fill="#000000"/>
<circle cx="1735" cy="103.28" r="5" fill="#000000"/>
<circle cx="1758.1" cy="75.66" r="5" fill="#000000"/>
<polyline points="1681.1,164.44 1711.9,119.07 1735,99.34 1758.1,87.5 1781.2,69.35" fill="none" stroke="#9b9b9b" stroke-width="3" stroke-linejoin="round"/>
<circle cx="1681.1" cy="164.44" r="5" fill="#9b9b9b"/>
<circle cx="1711.9" cy="119.07" r="5" fill="#9b9b9b"/>
<circle cx="1735" cy="99.34" r="5" fill="#9b9b9b"/>
<circle cx="1758.1" cy="87.5" r="5" fill="#9b9b9b"/>
<circle cx="1781.2" cy="69.35" r="5" fill="#9b9b9b"/>
<polyline points="1681.1,170.36 1711.9,123.01 1735,101.31 1758.1,91.44" fill="none" stroke="#9b9b9b" stroke-width="3" stroke-linejoin="round"/>
<circle cx="1681.1" cy="170.36" r="5" fill="#9b9b9b"/>
<circle cx="1711.9" cy="123.01" r="5" fill="#9b9b9b"/>
<circle cx="1735" cy="101.31" r="5" fill="#9b9b9b"/>
<circle cx="1758.1" cy="91.44" r="5" fill="#9b9b9b"/>
<text transform="translate(797 321.22) scale(0.96 1)" text-anchor="end">10<tspan dy="-13" font-size="16.88">2</tspan></text>
<text transform="translate(797 281.76) scale(0.96 1)" text-anchor="end">10<tspan dy="-13" font-size="16.88">3</tspan></text>
<text transform="translate(797 242.3) scale(0.96 1)" text-anchor="end">10<tspan dy="-13" font-size="16.88">4</tspan></text>
<text transform="translate(797 202.84) scale(0.96 1)" text-anchor="end">10<tspan dy="-13" font-size="16.88">5</tspan></text>
<text transform="translate(797 163.38) scale(0.96 1)" text-anchor="end">10<tspan dy="-13" font-size="16.88">6</tspan></text>
<text transform="translate(797 123.92) scale(0.96 1)" text-anchor="end">10<tspan dy="-13" font-size="16.88">7</tspan></text>
<text transform="translate(797 84.46) scale(0.96 1)" text-anchor="end">10<tspan dy="-13" font-size="16.88">8</tspan></text>
<text transform="translate(797 45) scale(0.96 1)" text-anchor="end">10<tspan dy="-13" font-size="16.88">9</tspan></text>
<text transform="translate(741 174) rotate(-90) scale(0.96 1)" text-anchor="middle">BLI</text>
<line x1="812.6" y1="387.4" x2="1127.3" y2="387.4" stroke="#000000" stroke-width="2.2"/>
<line x1="812.6" y1="380.4" x2="812.6" y2="394.7" stroke="#000000" stroke-width="2.2"/>
<text transform="translate(1349.8 396) scale(0.96 1)" text-anchor="middle">Time after EDV/AAV treatment (days)</text>
<line x1="1571" y1="387.4" x2="1888.3" y2="387.4" stroke="#000000" stroke-width="2.2"/>
<line x1="1888.3" y1="381" x2="1888.3" y2="394.8" stroke="#000000" stroke-width="2.2"/>
<line x1="1894.6" y1="36.8" x2="1929.1" y2="36.8" stroke="#000000" stroke-width="2.6"/>
<circle cx="1911.7" cy="36.8" r="5" fill="#000000"/>
<text transform="translate(1942.7 45.1) scale(0.96 1)">NALM6</text>
<line x1="1894.6" y1="67" x2="1929.1" y2="67" stroke="#9b9b9b" stroke-width="2.6"/>
<circle cx="1911.7" cy="67" r="5" fill="#9b9b9b"/>
<text transform="translate(1942.7 75.3) scale(0.96 1)">PBMC</text>
<line x1="1894.6" y1="97.2" x2="1929.1" y2="97.2" stroke="#b94145" stroke-width="2.6"/>
<circle cx="1911.7" cy="97.2" r="5" fill="#b94145"/>
<text transform="translate(1942.7 105.5) scale(0.96 1)">Anti-CD3/AAV-hT7</text>
<text x="0" y="0" font-size="31" font-weight="bold" stroke="#000" stroke-width="0.9" transform="translate(-1.5 454) scale(1.22 1)">c</text>
<path d="M370,70 C390.33,70 417,78.33 432,90 C447,101.67 455,121.67 460,140 C465,158.33 463.67,181.67 462,200 C460.33,218.33 454.5,234.67 450,250 C445.5,265.33 437.17,277 435,292 C432.83,307 432.5,328.67 437,340 C441.5,351.33 448.17,352.5 462,360 C475.83,367.5 503.33,378.33 520,385 C536.67,391.67 550,393.33 562,400 C574,406.67 584,412.5 592,425 C600,437.5 605.33,452.5 610,475 C614.67,497.5 615.83,525.83 620,560 C624.17,594.17 630.83,640 635,680 C639.17,720 641.67,763.33 645,800 C648.33,836.67 652.5,872 655,900 C657.5,928 653.83,949.67 660,968 C666.17,986.33 683.67,995 692,1010 C700.33,1025 707.67,1046.33 710,1058 C712.33,1069.67 709.33,1077 706,1080 C702.67,1083 696,1080.17 690,1076 C684,1071.83 674.17,1051 670,1055 C665.83,1059 668.33,1087.5 665,1100 C661.67,1112.5 656.67,1123.33 650,1130 C643.33,1136.67 633.33,1141.67 625,1140 C616.67,1138.33 606.67,1130 600,1120 C593.33,1110 588.33,1096.67 585,1080 C581.67,1063.33 579.17,1039.67 580,1020 C580.83,1000.33 590.83,982 590,962 C589.17,942 582.5,927 575,900 C567.5,873 552.5,833.33 545,800 C537.5,766.67 533.33,729.67 530,700 C526.67,670.33 526.67,613.67 525,622 C523.33,630.33 522.17,710.33 520,750 C517.83,789.67 510.33,826.67 512,860 C513.67,893.33 524.5,918.33 530,950 C535.5,981.67 543.33,1016.67 545,1050 C546.67,1083.33 544.17,1114.67 540,1150 C535.83,1185.33 526.67,1223.67 520,1262 C513.33,1300.33 505,1340.33 500,1380 C495,1419.67 493.33,1463.33 490,1500 C486.67,1536.67 483,1575 480,1600 C477,1625 470,1633 472,1650 C474,1667 485.33,1683.67 492,1702 C498.67,1720.33 510.67,1745.33 512,1760 C513.33,1774.67 508.67,1783.33 500,1790 C491.33,1796.67 473.33,1799 460,1800 C446.67,1801 430.83,1799.33 420,1796 C409.17,1792.67 400.83,1789.33 395,1780 C389.17,1770.67 386.5,1756.67 385,1740 C383.5,1723.33 385.17,1703.33 386,1680 C386.83,1656.67 388.33,1630 390,1600 C391.67,1570 394.33,1541.67 396,1500 C397.67,1458.33 401.67,1400 400,1350 C398.33,1300 390.17,1245 386,1200 C381.83,1155 378.5,1080 375,1080 C371.5,1080 369.17,1155 365,1200 C360.83,1245 351.67,1300 350,1350 C348.33,1400 353.33,1458.33 355,1500 C356.67,1541.67 359.17,1570 360,1600 C360.83,1630 360.83,1656.67 360,1680 C359.17,1703.33 357.5,1723.33 355,1740 C352.5,1756.67 352.5,1770 345,1780 C337.5,1790 323.83,1797.33 310,1800 C296.17,1802.67 274.33,1800.67 262,1796 C249.67,1791.33 238.67,1783 236,1772 C233.33,1761 238.67,1743.33 246,1730 C253.33,1716.67 272.67,1705.33 280,1692 C287.33,1678.67 290.67,1665.33 290,1650 C289.33,1634.67 281,1625 276,1600 C271,1575 265.17,1536.67 260,1500 C254.83,1463.33 250.83,1419.67 245,1380 C239.17,1340.33 231.67,1300.33 225,1262 C218.33,1223.67 209.17,1185.33 205,1150 C200.83,1114.67 199.17,1083.33 200,1050 C200.83,1016.67 205.83,981.67 210,950 C214.17,918.33 224.17,893.33 225,860 C225.83,826.67 217.5,789.67 215,750 C212.5,710.33 213.17,630.33 210,622 C206.83,613.67 199.33,670.33 196,700 C192.67,729.67 194.33,770 190,800 C185.67,830 176.67,853 170,880 C163.33,907 150.83,938.67 150,962 C149.17,985.33 163.33,1000.33 165,1020 C166.67,1039.67 163.33,1063.33 160,1080 C156.67,1096.67 152.5,1110 145,1120 C137.5,1130 124.17,1138.33 115,1140 C105.83,1141.67 95.83,1136.67 90,1130 C84.17,1123.33 82.5,1112 80,1100 C77.5,1088 79.17,1061.33 75,1058 C70.83,1054.67 61.5,1076.33 55,1080 C48.5,1083.67 38.5,1084.67 36,1080 C33.5,1075.33 36,1063.67 40,1052 C44,1040.33 51.67,1024 60,1010 C68.33,996 83.33,986.33 90,968 C96.67,949.67 97.33,928 100,900 C102.67,872 103.33,836.67 106,800 C108.67,763.33 112,720 116,680 C120,640 125.67,596.33 130,560 C134.33,523.67 136.67,486 142,462 C147.33,438 153.67,426.33 162,416 C170.33,405.67 180.33,405.17 192,400 C203.67,394.83 217,391 232,385 C247,379 269.83,371.17 282,364 C294.17,356.83 301,354 305,342 C309,330 308.83,307.33 306,292 C303.17,276.67 292.67,265.33 288,250 C283.33,234.67 279.33,218.33 278,200 C276.67,181.67 274.67,158.33 280,140 C285.33,121.67 295,101.67 310,90 C325,78.33 349.67,70 370,70 Z" transform="translate(0 534.48) scale(0.12306 0.12746)" fill="url(#gh)" stroke="#a3a3a3" stroke-width="5.5"/>
<text transform="translate(50 794.5) scale(0.96 1)" text-anchor="middle">PBMCs</text>
<path d="M98,649.2 C113,649.2 120.6,642 120.6,627 L120.6,581 C120.6,567 128,560.8 142,560.8 L166,560.8" fill="none" stroke="#000000" stroke-width="1.9"/>
<path d="M162,555.3 L176,560.8 L162,566.3 L166,560.8 Z" fill="#000000"/>
<path d="M98,649.2 C113,649.2 120.6,658 120.6,676 L120.6,830 C120.6,846 128,854 145,854 L509,854" fill="none" stroke="#000000" stroke-width="1.9"/>
<path d="M505.4,848.5 L519.4,854 L505.4,859.5 L509.4,854 Z" fill="#000000"/>
<circle cx="208" cy="563.8" r="21" fill="url(#gt1)" stroke="#9d9fa3" stroke-width="2"/>
<circle cx="209" cy="564.5" r="15.2" fill="url(#gt2)"/>
<text transform="translate(241.8 567) scale(0.96 1)">T cells</text>
<text transform="translate(487 516.8) scale(0.96 1)" text-anchor="middle">Ex vivo manufacturing</text>
<text transform="translate(486.3 547) scale(0.96 1)" text-anchor="middle">LVV or TRAC</text>
<line x1="326.7" y1="561.2" x2="635.3" y2="561.2" stroke="#000000" stroke-width="1.9"/>
<path d="M632.3,555.7 L646.3,561.2 L632.3,566.7 L636.3,561.2 Z" fill="#000000"/>
<text transform="translate(658.9 569.5) scale(0.96 1)">CAR T cells</text>
<path d="M480,260 C484.17,244.17 490,220 500,200 C510,180 525,156.67 540,140 C555,123.33 575.83,105.83 590,100 C604.17,94.17 616.67,95 625,105 C633.33,115 638.83,135 640,160 C641.17,185 622,244.17 632,255 C642,265.83 663.67,239.17 700,225 C736.33,210.83 800,183.33 850,170 C900,156.67 950,146.67 1000,145 C1050,143.33 1100,147.5 1150,160 C1200,172.5 1255,195 1300,220 C1345,245 1386.67,276.67 1420,310 C1453.33,343.33 1480,381.67 1500,420 C1520,458.33 1529.67,500 1540,540 C1550.33,580 1556.67,623.33 1562,660 C1567.33,696.67 1562.33,733.33 1572,760 C1581.67,786.67 1598.67,791.67 1620,820 C1641.33,848.33 1679.17,893.33 1700,930 C1720.83,966.67 1736.33,1006.67 1745,1040 C1753.67,1073.33 1756.5,1101.67 1752,1130 C1747.5,1158.33 1736.67,1185.83 1718,1210 C1699.33,1234.17 1676.33,1255.33 1640,1275 C1603.67,1294.67 1556.67,1312.5 1500,1328 C1443.33,1343.5 1383.33,1356.33 1300,1368 C1216.67,1379.67 1100,1391 1000,1398 C900,1405 788.33,1405 700,1410 C611.67,1415 533.33,1418 470,1428 C406.67,1438 365,1453.83 320,1470 C275,1486.17 235,1504.17 200,1525 C165,1545.83 110,1597.17 110,1595 C110,1592.83 160,1537.5 200,1512 C240,1486.5 296.67,1460.33 350,1442 C403.33,1423.67 445,1411.5 520,1402 C595,1392.5 703.33,1390.67 800,1385 C896.67,1379.33 1000,1379.17 1100,1368 C1200,1356.83 1323.33,1336 1400,1318 C1476.67,1300 1520,1280.5 1560,1260 C1600,1239.5 1623,1221.67 1640,1195 C1657,1168.33 1662,1130.5 1662,1100 C1662,1069.5 1653.67,1038.33 1640,1012 C1626.33,985.67 1601.67,959.83 1580,942 C1558.33,924.17 1530,910.67 1510,905 C1490,899.33 1478.33,903.83 1460,908 C1441.67,912.17 1426.67,920.5 1400,930 C1373.33,939.5 1333.33,955.83 1300,965 C1266.67,974.17 1233.33,980.83 1200,985 C1166.67,989.17 1133.33,991.67 1100,990 C1066.67,988.33 1030,982 1000,975 C970,968 941.67,952.83 920,948 C898.33,943.17 888.33,940.67 870,946 C851.67,951.33 831.67,966 810,980 C788.33,994 763.33,1012.5 740,1030 C716.67,1047.5 689.17,1063.33 670,1085 C650.83,1106.67 636.67,1146.67 625,1160 C613.33,1173.33 602.83,1170 600,1165 C597.17,1160 613,1134.17 608,1130 C603,1125.83 580.5,1143.33 570,1140 C559.5,1136.67 544.67,1120.83 545,1110 C545.33,1099.17 557.83,1085 572,1075 C586.17,1065 617.83,1060 630,1050 C642.17,1040 650,1018.33 645,1015 C640,1011.67 612.5,1029.17 600,1030 C587.5,1030.83 577,1028.33 570,1020 C563,1011.67 553.83,991.67 558,980 C562.17,968.33 579.67,959.17 595,950 C610.33,940.83 637.17,934.17 650,925 C662.83,915.83 668.67,905.83 672,895 C675.33,884.17 677,871.17 670,860 C663,848.83 648.33,836 630,828 C611.67,820 585,814.67 560,812 C535,809.33 503.33,807.67 480,812 C456.67,816.33 440,832 420,838 C400,844 380.83,849.33 360,848 C339.17,846.67 313,839.33 295,830 C277,820.67 260.33,804.5 252,792 C243.67,779.5 241.17,772 245,755 C248.83,738 262.17,718.33 275,690 C287.83,661.67 310.83,614.67 322,585 C333.17,555.33 329.33,533.17 342,512 C354.67,490.83 381.67,483 398,458 C414.33,433 427.17,389.17 440,362 C452.83,334.83 468.33,312 475,295 C481.67,278 475.83,275.83 480,260 Z" transform="translate(188 620) scale(0.07246)" fill="url(#gm)" stroke="#a9a9a9" stroke-width="9"/>
<text transform="translate(260 754.3) scale(0.96 1)" text-anchor="middle">NSG</text>
<text transform="translate(260 784.4) scale(0.96 1)" text-anchor="middle">MHC-I/II dKO</text>
<text transform="translate(376 662.5) scale(0.96 1)" text-anchor="middle">NALM6</text>
<line x1="375.7" y1="675" x2="375.7" y2="717.6" stroke="#000000" stroke-width="1.8"/>
<path d="M370.2,714.6 L375.7,728.6 L381.2,714.6 L375.7,718.6 Z" fill="#000000"/>
<text transform="translate(392 709) scale(0.96 1)">i.v.</text>
<path d="M305.4,736.2 L440,736.2 C452,736.2 458.7,729 458.7,716 L458.7,637 C458.7,625 465,619.3 478,619.3 L497,619.3" fill="none" stroke="#000000" stroke-width="1.9"/>
<path d="M492.8,613.8 L506.8,619.3 L492.8,624.8 L496.8,619.3 Z" fill="#000000"/>
<path d="M440,736.2 C452,736.2 458.7,743 458.7,756 L458.7,834 C458.7,847 466,854 480,854" fill="none" stroke="#000000" stroke-width="1.9"/>
<text transform="translate(354 882.4) scale(0.96 1)" text-anchor="middle">Humanization (i.v.)</text>
<path d="M480,260 C484.17,244.17 490,220 500,200 C510,180 525,156.67 540,140 C555,123.33 575.83,105.83 590,100 C604.17,94.17 616.67,95 625,105 C633.33,115 638.83,135 640,160 C641.17,185 622,244.17 632,255 C642,265.83 663.67,239.17 700,225 C736.33,210.83 800,183.33 850,170 C900,156.67 950,146.67 1000,145 C1050,143.33 1100,147.5 1150,160 C1200,172.5 1255,195 1300,220 C1345,245 1386.67,276.67 1420,310 C1453.33,343.33 1480,381.67 1500,420 C1520,458.33 1529.67,500 1540,540 C1550.33,580 1556.67,623.33 1562,660 C1567.33,696.67 1562.33,733.33 1572,760 C1581.67,786.67 1598.67,791.67 1620,820 C1641.33,848.33 1679.17,893.33 1700,930 C1720.83,966.67 1736.33,1006.67 1745,1040 C1753.67,1073.33 1756.5,1101.67 1752,1130 C1747.5,1158.33 1736.67,1185.83 1718,1210 C1699.33,1234.17 1676.33,1255.33 1640,1275 C1603.67,1294.67 1556.67,1312.5 1500,1328 C1443.33,1343.5 1383.33,1356.33 1300,1368 C1216.67,1379.67 1100,1391 1000,1398 C900,1405 788.33,1405 700,1410 C611.67,1415 533.33,1418 470,1428 C406.67,1438 365,1453.83 320,1470 C275,1486.17 235,1504.17 200,1525 C165,1545.83 110,1597.17 110,1595 C110,1592.83 160,1537.5 200,1512 C240,1486.5 296.67,1460.33 350,1442 C403.33,1423.67 445,1411.5 520,1402 C595,1392.5 703.33,1390.67 800,1385 C896.67,1379.33 1000,1379.17 1100,1368 C1200,1356.83 1323.33,1336 1400,1318 C1476.67,1300 1520,1280.5 1560,1260 C1600,1239.5 1623,1221.67 1640,1195 C1657,1168.33 1662,1130.5 1662,1100 C1662,1069.5 1653.67,1038.33 1640,1012 C1626.33,985.67 1601.67,959.83 1580,942 C1558.33,924.17 1530,910.67 1510,905 C1490,899.33 1478.33,903.83 1460,908 C1441.67,912.17 1426.67,920.5 1400,930 C1373.33,939.5 1333.33,955.83 1300,965 C1266.67,974.17 1233.33,980.83 1200,985 C1166.67,989.17 1133.33,991.67 1100,990 C1066.67,988.33 1030,982 1000,975 C970,968 941.67,952.83 920,948 C898.33,943.17 888.33,940.67 870,946 C851.67,951.33 831.67,966 810,980 C788.33,994 763.33,1012.5 740,1030 C716.67,1047.5 689.17,1063.33 670,1085 C650.83,1106.67 636.67,1146.67 625,1160 C613.33,1173.33 602.83,1170 600,1165 C597.17,1160 613,1134.17 608,1130 C603,1125.83 580.5,1143.33 570,1140 C559.5,1136.67 544.67,1120.83 545,1110 C545.33,1099.17 557.83,1085 572,1075 C586.17,1065 617.83,1060 630,1050 C642.17,1040 650,1018.33 645,1015 C640,1011.67 612.5,1029.17 600,1030 C587.5,1030.83 577,1028.33 570,1020 C563,1011.67 553.83,991.67 558,980 C562.17,968.33 579.67,959.17 595,950 C610.33,940.83 637.17,934.17 650,925 C662.83,915.83 668.67,905.83 672,895 C675.33,884.17 677,871.17 670,860 C663,848.83 648.33,836 630,828 C611.67,820 585,814.67 560,812 C535,809.33 503.33,807.67 480,812 C456.67,816.33 440,832 420,838 C400,844 380.83,849.33 360,848 C339.17,846.67 313,839.33 295,830 C277,820.67 260.33,804.5 252,792 C243.67,779.5 241.17,772 245,755 C248.83,738 262.17,718.33 275,690 C287.83,661.67 310.83,614.67 322,585 C333.17,555.33 329.33,533.17 342,512 C354.67,490.83 381.67,483 398,458 C414.33,433 427.17,389.17 440,362 C452.83,334.83 468.33,312 475,295 C481.67,278 475.83,275.83 480,260 Z" transform="translate(497.6 578.6) scale(0.07246)" fill="url(#gm)" stroke="#a9a9a9" stroke-width="9"/>
<path d="M480,260 C484.17,244.17 490,220 500,200 C510,180 525,156.67 540,140 C555,123.33 575.83,105.83 590,100 C604.17,94.17 616.67,95 625,105 C633.33,115 638.83,135 640,160 C641.17,185 622,244.17 632,255 C642,265.83 663.67,239.17 700,225 C736.33,210.83 800,183.33 850,170 C900,156.67 950,146.67 1000,145 C1050,143.33 1100,147.5 1150,160 C1200,172.5 1255,195 1300,220 C1345,245 1386.67,276.67 1420,310 C1453.33,343.33 1480,381.67 1500,420 C1520,458.33 1529.67,500 1540,540 C1550.33,580 1556.67,623.33 1562,660 C1567.33,696.67 1562.33,733.33 1572,760 C1581.67,786.67 1598.67,791.67 1620,820 C1641.33,848.33 1679.17,893.33 1700,930 C1720.83,966.67 1736.33,1006.67 1745,1040 C1753.67,1073.33 1756.5,1101.67 1752,1130 C1747.5,1158.33 1736.67,1185.83 1718,1210 C1699.33,1234.17 1676.33,1255.33 1640,1275 C1603.67,1294.67 1556.67,1312.5 1500,1328 C1443.33,1343.5 1383.33,1356.33 1300,1368 C1216.67,1379.67 1100,1391 1000,1398 C900,1405 788.33,1405 700,1410 C611.67,1415 533.33,1418 470,1428 C406.67,1438 365,1453.83 320,1470 C275,1486.17 235,1504.17 200,1525 C165,1545.83 110,1597.17 110,1595 C110,1592.83 160,1537.5 200,1512 C240,1486.5 296.67,1460.33 350,1442 C403.33,1423.67 445,1411.5 520,1402 C595,1392.5 703.33,1390.67 800,1385 C896.67,1379.33 1000,1379.17 1100,1368 C1200,1356.83 1323.33,1336 1400,1318 C1476.67,1300 1520,1280.5 1560,1260 C1600,1239.5 1623,1221.67 1640,1195 C1657,1168.33 1662,1130.5 1662,1100 C1662,1069.5 1653.67,1038.33 1640,1012 C1626.33,985.67 1601.67,959.83 1580,942 C1558.33,924.17 1530,910.67 1510,905 C1490,899.33 1478.33,903.83 1460,908 C1441.67,912.17 1426.67,920.5 1400,930 C1373.33,939.5 1333.33,955.83 1300,965 C1266.67,974.17 1233.33,980.83 1200,985 C1166.67,989.17 1133.33,991.67 1100,990 C1066.67,988.33 1030,982 1000,975 C970,968 941.67,952.83 920,948 C898.33,943.17 888.33,940.67 870,946 C851.67,951.33 831.67,966 810,980 C788.33,994 763.33,1012.5 740,1030 C716.67,1047.5 689.17,1063.33 670,1085 C650.83,1106.67 636.67,1146.67 625,1160 C613.33,1173.33 602.83,1170 600,1165 C597.17,1160 613,1134.17 608,1130 C603,1125.83 580.5,1143.33 570,1140 C559.5,1136.67 544.67,1120.83 545,1110 C545.33,1099.17 557.83,1085 572,1075 C586.17,1065 617.83,1060 630,1050 C642.17,1040 650,1018.33 645,1015 C640,1011.67 612.5,1029.17 600,1030 C587.5,1030.83 577,1028.33 570,1020 C563,1011.67 553.83,991.67 558,980 C562.17,968.33 579.67,959.17 595,950 C610.33,940.83 637.17,934.17 650,925 C662.83,915.83 668.67,905.83 672,895 C675.33,884.17 677,871.17 670,860 C663,848.83 648.33,836 630,828 C611.67,820 585,814.67 560,812 C535,809.33 503.33,807.67 480,812 C456.67,816.33 440,832 420,838 C400,844 380.83,849.33 360,848 C339.17,846.67 313,839.33 295,830 C277,820.67 260.33,804.5 252,792 C243.67,779.5 241.17,772 245,755 C248.83,738 262.17,718.33 275,690 C287.83,661.67 310.83,614.67 322,585 C333.17,555.33 329.33,533.17 342,512 C354.67,490.83 381.67,483 398,458 C414.33,433 427.17,389.17 440,362 C452.83,334.83 468.33,312 475,295 C481.67,278 475.83,275.83 480,260 Z" transform="translate(502.6 768.4) scale(0.07246)" fill="url(#gm)" stroke="#a9a9a9" stroke-width="9"/>
<line x1="699" y1="585.9" x2="699" y2="629.7" stroke="#000000" stroke-width="1.8"/>
<path d="M693.5,626.7 L699,640.7 L704.5,626.7 L699,630.7 Z" fill="#000000"/>
<text transform="translate(714 621) scale(0.96 1)">i.v.</text>
<line x1="662.6" y1="648.7" x2="805" y2="648.7" stroke="#000000" stroke-width="1.8"/>
<path d="M802,643.2 L816,648.7 L802,654.2 L806,648.7 Z" fill="#000000"/>
<line x1="699" y1="793.2" x2="699" y2="836.2" stroke="#000000" stroke-width="1.8"/>
<path d="M693.5,833.2 L699,847.2 L704.5,833.2 L699,837.2 Z" fill="#000000"/>
<text transform="translate(714 827) scale(0.96 1)">i.v.</text>
<line x1="662.6" y1="852.8" x2="805" y2="852.8" stroke="#000000" stroke-width="1.8"/>
<path d="M802,847.3 L816,852.8 L802,858.3 L806,852.8 Z" fill="#000000"/>
<text transform="translate(686.5 722.8) scale(0.96 1)" text-anchor="middle">EDV/AAV</text>
<text transform="translate(799.2 722.8) scale(0.96 1)" text-anchor="middle">LVV</text>
<circle cx="664.6" cy="752.5" r="15.2" fill="none" stroke="#b94145" stroke-width="3.6"/>
<text transform="translate(690.3 762.5) scale(0.96 1)" text-anchor="middle">+</text>
<polygon points="716.2,734.75 730.54,743.63 730.54,761.37 716.2,770.25 701.86,761.37 701.86,743.63" fill="none" stroke="#3d7a53" stroke-width="3.6"/>
<rect x="709.6" y="749.2" width="13.3" height="7.5" fill="#2c3b93"/>
<text transform="translate(758.5 759.8) scale(0.96 1)" text-anchor="middle">or</text>
<circle cx="799" cy="752.5" r="15.6" fill="none" stroke="#2c3b93" stroke-width="3.6"/>
<rect x="792.6" y="749.5" width="12.8" height="7.3" fill="#2c3b93"/>
<text x="0" y="0" font-size="31" font-weight="bold" stroke="#000" stroke-width="0.9" transform="translate(883.5 454) scale(1.22 1)">d</text>
<text transform="translate(1211.7 465.4) scale(0.96 1)" text-anchor="middle">Ex vivo</text>
<line x1="983.4" y1="481.5" x2="983.4" y2="823.8" stroke="#000000" stroke-width="1.6"/>
<line x1="972.9" y1="823.8" x2="1438.2" y2="823.8" stroke="#000000" stroke-width="1.6"/>
<line x1="972.9" y1="823.8" x2="983.4" y2="823.8" stroke="#000000" stroke-width="1.6"/>
<text transform="translate(961.4 832.3) scale(0.96 1)" text-anchor="end">0</text>
<line x1="972.9" y1="755.54" x2="983.4" y2="755.54" stroke="#000000" stroke-width="1.6"/>
<text transform="translate(961.4 764.04) scale(0.96 1)" text-anchor="end">20</text>
<line x1="972.9" y1="687.28" x2="983.4" y2="687.28" stroke="#000000" stroke-width="1.6"/>
<text transform="translate(961.4 695.78) scale(0.96 1)" text-anchor="end">40</text>
<line x1="972.9" y1="619.02" x2="983.4" y2="619.02" stroke="#000000" stroke-width="1.6"/>
<text transform="translate(961.4 627.52) scale(0.96 1)" text-anchor="end">60</text>
<line x1="972.9" y1="550.76" x2="983.4" y2="550.76" stroke="#000000" stroke-width="1.6"/>
<text transform="translate(961.4 559.26) scale(0.96 1)" text-anchor="end">80</text>
<line x1="972.9" y1="482.5" x2="983.4" y2="482.5" stroke="#000000" stroke-width="1.6"/>
<text transform="translate(961.4 491) scale(0.96 1)" text-anchor="end">100</text>
<line x1="983.4" y1="823.8" x2="983.4" y2="833.4" stroke="#000000" stroke-width="1.6"/>
<text transform="translate(983.4 865.4) scale(0.96 1)" text-anchor="middle">0</text>
<line x1="1074.36" y1="823.8" x2="1074.36" y2="833.4" stroke="#000000" stroke-width="1.6"/>
<text transform="translate(1074.36 865.4) scale(0.96 1)" text-anchor="middle">20</text>
<line x1="1165.32" y1="823.8" x2="1165.32" y2="833.4" stroke="#000000" stroke-width="1.6"/>
<text transform="translate(1165.32 865.4) scale(0.96 1)" text-anchor="middle">40</text>
<line x1="1256.28" y1="823.8" x2="1256.28" y2="833.4" stroke="#000000" stroke-width="1.6"/>
<text transform="translate(1256.28 865.4) scale(0.96 1)" text-anchor="middle">60</text>
<line x1="1347.24" y1="823.8" x2="1347.24" y2="833.4" stroke="#000000" stroke-width="1.6"/>
<text transform="translate(1347.24 865.4) scale(0.96 1)" text-anchor="middle">80</text>
<line x1="1438.2" y1="823.8" x2="1438.2" y2="833.4" stroke="#000000" stroke-width="1.6"/>
<text transform="translate(1438.2 865.4) scale(0.96 1)" text-anchor="middle">100</text>
<text transform="translate(1210.8 904.3) scale(0.96 1)" text-anchor="middle">Time after treatment (days)</text>
<text transform="translate(909.5 653) rotate(-90) scale(0.96 1)" text-anchor="middle">Survival (%)</text>
<path d="M983.4,482.5 H1119.84 V539.5 H1178.96 V596.15 H1183.51 V653.15 H1338.14 V710.15 H1410.91 V710.15" fill="none" stroke="#d9b633" stroke-width="2.2"/>
<path d="M983.4,482.5 H1060.72 V550.76 H1160.77 V619.02 H1169.87 V687.28 H1178.96 V755.54 H1242.64 V823.8" fill="none" stroke="#d9b633" stroke-width="2.2" stroke-dasharray="9.5,5"/>
<path d="M983.4,482.5 H1078.91 V619.02 H1201.7 V755.54 H1410.91 V755.54" fill="none" stroke="#3d7a53" stroke-width="2.2"/>
<path d="M983.4,482.5 H1019.78 V531.31 H1051.62 V677.38 H1056.17 V823.8" fill="none" stroke="#3d7a53" stroke-width="2.2" stroke-dasharray="9.5,5"/>
<path d="M983.4,482.5 H1042.52 V755.54 H1047.07 V823.8" fill="none" stroke="#000000" stroke-width="1.6"/>
<line x1="1410.91" y1="711.15" x2="1410.91" y2="703.15" stroke="#d9b633" stroke-width="2.4"/>
<line x1="1410.91" y1="756.54" x2="1410.91" y2="748.54" stroke="#3d7a53" stroke-width="2.4"/>
<line x1="1302.6" y1="481.5" x2="1321.4" y2="481.5" stroke="#000000" stroke-width="3.3" stroke-linecap="round"/>
<text transform="translate(1334.6 489.7) scale(0.96 1)">NALM6</text>
<line x1="1302.6" y1="516.1" x2="1321.4" y2="516.1" stroke="#3d7a53" stroke-width="3.3" stroke-linecap="round" stroke-dasharray="4.8,8.6"/>
<text transform="translate(1334.6 524.3) scale(0.96 1)">LVV, 200,000</text>
<line x1="1302.6" y1="550.7" x2="1321.4" y2="550.7" stroke="#3d7a53" stroke-width="3.3" stroke-linecap="round"/>
<text transform="translate(1334.6 558.9) scale(0.96 1)">LVV, 500,000</text>
<line x1="1302.6" y1="585.3" x2="1321.4" y2="585.3" stroke="#d9b633" stroke-width="3.3" stroke-linecap="round" stroke-dasharray="4.8,8.6"/>
<text transform="translate(1334.6 593.5) scale(0.96 1)"><tspan font-style="italic">TRAC</tspan>, 200,000</text>
<line x1="1302.6" y1="619.9" x2="1321.4" y2="619.9" stroke="#d9b633" stroke-width="3.3" stroke-linecap="round"/>
<text transform="translate(1334.6 628.1) scale(0.96 1)"><tspan font-style="italic">TRAC</tspan>, 500,000</text>
<text transform="translate(1249.5 586.5) rotate(-90) scale(0.96 1)" text-anchor="middle">NS</text>
<line x1="1256.7" y1="550.8" x2="1256.7" y2="623.3" stroke="#000000" stroke-width="2.2" stroke-linecap="round"/>
<text transform="translate(1278.5 552) rotate(-90) scale(0.96 1)" text-anchor="middle"><tspan font-style="italic">P</tspan> = 0.0018</text>
<line x1="1286.3" y1="516" x2="1286.3" y2="589" stroke="#000000" stroke-width="2.2" stroke-linecap="round"/>
<text transform="translate(1869 466) scale(0.96 1)" text-anchor="middle">In vivo</text>
<line x1="1650.2" y1="493.1" x2="1650.2" y2="823.8" stroke="#000000" stroke-width="1.6"/>
<line x1="1639.7" y1="823.8" x2="2088.5" y2="823.8" stroke="#000000" stroke-width="1.6"/>
<line x1="1639.7" y1="823.8" x2="1650.2" y2="823.8" stroke="#000000" stroke-width="1.6"/>
<text transform="translate(1628.2 832.3) scale(0.96 1)" text-anchor="end">0</text>
<line x1="1639.7" y1="757.86" x2="1650.2" y2="757.86" stroke="#000000" stroke-width="1.6"/>
<text transform="translate(1628.2 766.36) scale(0.96 1)" text-anchor="end">20</text>
<line x1="1639.7" y1="691.92" x2="1650.2" y2="691.92" stroke="#000000" stroke-width="1.6"/>
<text transform="translate(1628.2 700.42) scale(0.96 1)" text-anchor="end">40</text>
<line x1="1639.7" y1="625.98" x2="1650.2" y2="625.98" stroke="#000000" stroke-width="1.6"/>
<text transform="translate(1628.2 634.48) scale(0.96 1)" text-anchor="end">60</text>
<line x1="1639.7" y1="560.04" x2="1650.2" y2="560.04" stroke="#000000" stroke-width="1.6"/>
<text transform="translate(1628.2 568.54) scale(0.96 1)" text-anchor="end">80</text>
<line x1="1639.7" y1="494.1" x2="1650.2" y2="494.1" stroke="#000000" stroke-width="1.6"/>
<text transform="translate(1628.2 502.6) scale(0.96 1)" text-anchor="end">100</text>
<line x1="1650.2" y1="823.8" x2="1650.2" y2="833.4" stroke="#000000" stroke-width="1.6"/>
<text transform="translate(1650.2 865.4) scale(0.96 1)" text-anchor="middle">0</text>
<line x1="1737.86" y1="823.8" x2="1737.86" y2="833.4" stroke="#000000" stroke-width="1.6"/>
<text transform="translate(1737.86 865.4) scale(0.96 1)" text-anchor="middle">20</text>
<line x1="1825.52" y1="823.8" x2="1825.52" y2="833.4" stroke="#000000" stroke-width="1.6"/>
<text transform="translate(1825.52 865.4) scale(0.96 1)" text-anchor="middle">40</text>
<line x1="1913.18" y1="823.8" x2="1913.18" y2="833.4" stroke="#000000" stroke-width="1.6"/>
<text transform="translate(1913.18 865.4) scale(0.96 1)" text-anchor="middle">60</text>
<line x1="2000.84" y1="823.8" x2="2000.84" y2="833.4" stroke="#000000" stroke-width="1.6"/>
<text transform="translate(2000.84 865.4) scale(0.96 1)" text-anchor="middle">80</text>
<line x1="2088.5" y1="823.8" x2="2088.5" y2="833.4" stroke="#000000" stroke-width="1.6"/>
<text transform="translate(2088.5 865.4) scale(0.96 1)" text-anchor="middle">100</text>
<text transform="translate(1869.35 904.3) scale(0.96 1)" text-anchor="middle">Time after treatment (days)</text>
<text transform="translate(1575.5 659) rotate(-90) scale(0.96 1)" text-anchor="middle">Survival (%)</text>
<path d="M1650.2,494.1 H2088.5 V494.1" fill="none" stroke="#b94145" stroke-width="2.5"/>
<path d="M1650.2,494.1 H1711.56 V549.16 H1715.94 V603.89 H1781.69 V658.95 H1838.67 V714.01 H1843.05 V768.74 H1992.07 V823.8" fill="none" stroke="#6a9cd3" stroke-width="2.5"/>
<path d="M1650.2,494.1 H1707.18 V603.89 H1715.94 V640.49 H1720.33 V677.41 H1724.71 V750.61 H1733.48 V787.2 H2088.5 V787.2" fill="none" stroke="#6a9cd3" stroke-width="2.5" stroke-dasharray="9.5,5"/>
<path d="M1650.2,494.1 H1707.18 V560.04 H1711.56 V691.92 H1715.94 V757.86 H1724.71 V823.8" fill="none" stroke="#9b9b9b" stroke-width="2.5"/>
<line x1="2088.5" y1="495.1" x2="2088.5" y2="487.1" stroke="#b94145" stroke-width="2.4"/>
<line x1="2088.5" y1="788.2" x2="2088.5" y2="780.2" stroke="#6a9cd3" stroke-width="2.4"/>
<line x1="1937.4" y1="641.4" x2="1954.7" y2="641.4" stroke="#9b9b9b" stroke-width="3.3" stroke-linecap="round"/>
<text transform="translate(1969 648.6) scale(0.96 1)">NALM6 + PBMCs</text>
<line x1="1937.4" y1="669.9" x2="1954.7" y2="669.9" stroke="#6a9cd3" stroke-width="3.3" stroke-linecap="round" stroke-dasharray="4.6,8.2"/>
<text transform="translate(1969 677.1) scale(0.96 1)">LVV<tspan dy="-13" font-size="16.88">low</tspan></text>
<line x1="1937.4" y1="698.4" x2="1954.7" y2="698.4" stroke="#6a9cd3" stroke-width="3.3" stroke-linecap="round"/>
<text transform="translate(1969 705.6) scale(0.96 1)">LVV<tspan dy="-13" font-size="16.88">high</tspan></text>
<line x1="1937.4" y1="726.9" x2="1954.7" y2="726.9" stroke="#b94145" stroke-width="3.3" stroke-linecap="round"/>
<text transform="translate(1969 734.1) scale(0.96 1)">AAV/EDV</text>
<text transform="translate(1886 702.7) rotate(-90) scale(0.96 1)" text-anchor="middle"><tspan font-style="italic">P</tspan> = 0.0005</text>
<line x1="1894" y1="700.5" x2="1894" y2="725.8" stroke="#000000" stroke-width="2.2" stroke-linecap="round"/>
<text transform="translate(1918 698.5) rotate(-90) scale(0.96 1)" text-anchor="middle"><tspan font-style="italic">P</tspan> = 0.0014</text>
<line x1="1923.5" y1="679" x2="1923.5" y2="725.8" stroke="#000000" stroke-width="2.2" stroke-linecap="round"/>
<text x="0" y="0" font-size="31" font-weight="bold" stroke="#000" stroke-width="0.9" transform="translate(-0.5 967.5) scale(1.22 1)">e</text>
<line x1="108.2" y1="973.2" x2="108.2" y2="1266.5" stroke="#000000" stroke-width="1.6"/>
<line x1="97.9" y1="1265.7" x2="380" y2="1265.7" stroke="#000000" stroke-width="1.6"/>
<line x1="97.9" y1="1265.7" x2="108.2" y2="1265.7" stroke="#000000" stroke-width="1.6"/>
<line x1="97.9" y1="1224.03" x2="108.2" y2="1224.03" stroke="#000000" stroke-width="1.6"/>
<line x1="97.9" y1="1182.36" x2="108.2" y2="1182.36" stroke="#000000" stroke-width="1.6"/>
<line x1="97.9" y1="1140.69" x2="108.2" y2="1140.69" stroke="#000000" stroke-width="1.6"/>
<line x1="97.9" y1="1099.01" x2="108.2" y2="1099.01" stroke="#000000" stroke-width="1.6"/>
<line x1="97.9" y1="1057.34" x2="108.2" y2="1057.34" stroke="#000000" stroke-width="1.6"/>
<line x1="97.9" y1="1015.67" x2="108.2" y2="1015.67" stroke="#000000" stroke-width="1.6"/>
<line x1="97.9" y1="974" x2="108.2" y2="974" stroke="#000000" stroke-width="1.6"/>
<line x1="108.2" y1="1265.7" x2="108.2" y2="1276" stroke="#000000" stroke-width="1.6"/>
<line x1="192" y1="1265.7" x2="192" y2="1276" stroke="#000000" stroke-width="1.6"/>
<line x1="275.8" y1="1265.7" x2="275.8" y2="1276" stroke="#000000" stroke-width="1.6"/>
<line x1="359.6" y1="1265.7" x2="359.6" y2="1276" stroke="#000000" stroke-width="1.6"/>
<text transform="translate(87.2 1274.4) scale(0.96 1)" text-anchor="end">10<tspan dy="-13" font-size="16.88">2</tspan></text>
<text transform="translate(87.2 1232.73) scale(0.96 1)" text-anchor="end">10<tspan dy="-13" font-size="16.88">3</tspan></text>
<text transform="translate(87.2 1191.06) scale(0.96 1)" text-anchor="end">10<tspan dy="-13" font-size="16.88">4</tspan></text>
<text transform="translate(87.2 1149.39) scale(0.96 1)" text-anchor="end">10<tspan dy="-13" font-size="16.88">5</tspan></text>
<text transform="translate(87.2 1107.71) scale(0.96 1)" text-anchor="end">10<tspan dy="-13" font-size="16.88">6</tspan></text>
<text transform="translate(87.2 1066.04) scale(0.96 1)" text-anchor="end">10<tspan dy="-13" font-size="16.88">7</tspan></text>
<text transform="translate(87.2 1024.37) scale(0.96 1)" text-anchor="end">10<tspan dy="-13" font-size="16.88">8</tspan></text>
<text transform="translate(87.2 982.7) scale(0.96 1)" text-anchor="end">10<tspan dy="-13" font-size="16.88">9</tspan></text>
<text transform="translate(108.2 1305.7) scale(0.96 1)" text-anchor="middle">0</text>
<text transform="translate(192 1305.7) scale(0.96 1)" text-anchor="middle">20</text>
<text transform="translate(275.8 1305.7) scale(0.96 1)" text-anchor="middle">40</text>
<text transform="translate(359.6 1305.7) scale(0.96 1)" text-anchor="middle">60</text>
<polyline points="120.77,1140.27 133.34,1081.51 150.1,1059.84 166.86,1054.01" fill="none" stroke="#9b9b9b" stroke-width="3" stroke-linejoin="round"/>
<circle cx="120.77" cy="1140.27" r="4.8" fill="#9b9b9b"/>
<circle cx="133.34" cy="1081.51" r="4.8" fill="#9b9b9b"/>
<circle cx="150.1" cy="1059.84" r="4.8" fill="#9b9b9b"/>
<circle cx="166.86" cy="1054.01" r="4.8" fill="#9b9b9b"/>
<polyline points="120.77,1129.85 133.34,1065.26 150.1,1048.59 166.86,1033.17" fill="none" stroke="#9b9b9b" stroke-width="3" stroke-linejoin="round"/>
<circle cx="120.77" cy="1129.85" r="4.8" fill="#9b9b9b"/>
<circle cx="133.34" cy="1065.26" r="4.8" fill="#9b9b9b"/>
<circle cx="150.1" cy="1048.59" r="4.8" fill="#9b9b9b"/>
<circle cx="166.86" cy="1033.17" r="4.8" fill="#9b9b9b"/>
<polyline points="120.77,1121.1 133.34,1072.34 150.1,1057.34" fill="none" stroke="#9b9b9b" stroke-width="3" stroke-linejoin="round"/>
<circle cx="120.77" cy="1121.1" r="4.8" fill="#9b9b9b"/>
<circle cx="133.34" cy="1072.34" r="4.8" fill="#9b9b9b"/>
<circle cx="150.1" cy="1057.34" r="4.8" fill="#9b9b9b"/>
<polyline points="120.77,1128.18 133.34,1078.18 150.1,1053.18" fill="none" stroke="#9b9b9b" stroke-width="3" stroke-linejoin="round"/>
<circle cx="120.77" cy="1128.18" r="4.8" fill="#9b9b9b"/>
<circle cx="133.34" cy="1078.18" r="4.8" fill="#9b9b9b"/>
<circle cx="150.1" cy="1053.18" r="4.8" fill="#9b9b9b"/>
<polyline points="120.77,1102.35 133.34,1047.34 150.1,1035.67" fill="none" stroke="#000000" stroke-width="3" stroke-linejoin="round"/>
<circle cx="120.77" cy="1102.35" r="4.8" fill="#000000"/>
<circle cx="133.34" cy="1047.34" r="4.8" fill="#000000"/>
<circle cx="150.1" cy="1035.67" r="4.8" fill="#000000"/>
<polyline points="120.77,1114.43 133.34,1065.26 150.1,1044.42" fill="none" stroke="#000000" stroke-width="3" stroke-linejoin="round"/>
<circle cx="120.77" cy="1114.43" r="4.8" fill="#000000"/>
<circle cx="133.34" cy="1065.26" r="4.8" fill="#000000"/>
<circle cx="150.1" cy="1044.42" r="4.8" fill="#000000"/>
<text transform="translate(33 1119) rotate(-90) scale(0.96 1)" text-anchor="middle">BLI</text>
<line x1="238.4" y1="1216.3" x2="262.7" y2="1216.3" stroke="#9b9b9b" stroke-width="3"/>
<circle cx="250.5" cy="1216.3" r="4.8" fill="#9b9b9b"/>
<text transform="translate(275.3 1223.8) scale(0.96 1)">PBMC</text>
<line x1="238.4" y1="1245.6" x2="262.7" y2="1245.6" stroke="#000000" stroke-width="3"/>
<circle cx="250.5" cy="1245.6" r="4.8" fill="#000000"/>
<text transform="translate(275.3 1253.1) scale(0.96 1)">NALM6</text>
<line x1="430" y1="972.8" x2="430" y2="1265.2" stroke="#000000" stroke-width="1.6"/>
<line x1="419.7" y1="1264.4" x2="700.6" y2="1264.4" stroke="#000000" stroke-width="1.6"/>
<line x1="419.7" y1="1264.4" x2="430" y2="1264.4" stroke="#000000" stroke-width="1.6"/>
<line x1="419.7" y1="1222.86" x2="430" y2="1222.86" stroke="#000000" stroke-width="1.6"/>
<line x1="419.7" y1="1181.31" x2="430" y2="1181.31" stroke="#000000" stroke-width="1.6"/>
<line x1="419.7" y1="1139.77" x2="430" y2="1139.77" stroke="#000000" stroke-width="1.6"/>
<line x1="419.7" y1="1098.23" x2="430" y2="1098.23" stroke="#000000" stroke-width="1.6"/>
<line x1="419.7" y1="1056.69" x2="430" y2="1056.69" stroke="#000000" stroke-width="1.6"/>
<line x1="419.7" y1="1015.14" x2="430" y2="1015.14" stroke="#000000" stroke-width="1.6"/>
<line x1="419.7" y1="973.6" x2="430" y2="973.6" stroke="#000000" stroke-width="1.6"/>
<line x1="430" y1="1264.4" x2="430" y2="1274.7" stroke="#000000" stroke-width="1.6"/>
<line x1="513.6" y1="1264.4" x2="513.6" y2="1274.7" stroke="#000000" stroke-width="1.6"/>
<line x1="597.2" y1="1264.4" x2="597.2" y2="1274.7" stroke="#000000" stroke-width="1.6"/>
<line x1="680.8" y1="1264.4" x2="680.8" y2="1274.7" stroke="#000000" stroke-width="1.6"/>
<text transform="translate(430 1305.7) scale(0.96 1)" text-anchor="middle">0</text>
<text transform="translate(513.6 1305.7) scale(0.96 1)" text-anchor="middle">20</text>
<text transform="translate(597.2 1305.7) scale(0.96 1)" text-anchor="middle">40</text>
<text transform="translate(680.8 1305.7) scale(0.96 1)" text-anchor="middle">60</text>
<polyline points="442.54,1124.82 455.08,1073.72 471.8,1078.7 488.52,1055.85 496.88,1041.31" fill="none" stroke="#d9b633" stroke-width="2.6" stroke-linejoin="round"/>
<circle cx="442.54" cy="1124.82" r="4.8" fill="#d9b633"/>
<circle cx="455.08" cy="1073.72" r="4.8" fill="#d9b633"/>
<circle cx="471.8" cy="1078.7" r="4.8" fill="#d9b633"/>
<circle cx="488.52" cy="1055.85" r="4.8" fill="#d9b633"/>
<circle cx="496.88" cy="1041.31" r="4.8" fill="#d9b633"/>
<polyline points="442.54,1131.46 455.08,1084.1 471.8,1089.09 488.52,1096.98 496.88,1104.46 521.96,1088.26 551.22,1037.99 580.48,1053.36" fill="none" stroke="#d9b633" stroke-width="2.6" stroke-linejoin="round"/>
<circle cx="442.54" cy="1131.46" r="4.8" fill="#d9b633"/>
<circle cx="455.08" cy="1084.1" r="4.8" fill="#d9b633"/>
<circle cx="471.8" cy="1089.09" r="4.8" fill="#d9b633"/>
<circle cx="488.52" cy="1096.98" r="4.8" fill="#d9b633"/>
<circle cx="496.88" cy="1104.46" r="4.8" fill="#d9b633"/>
<circle cx="521.96" cy="1088.26" r="4.8" fill="#d9b633"/>
<circle cx="551.22" cy="1037.99" r="4.8" fill="#d9b633"/>
<circle cx="580.48" cy="1053.36" r="4.8" fill="#d9b633"/>
<polyline points="442.54,1134.79 455.08,1087.84 471.8,1098.23 488.52,1118.17 496.88,1123.99 521.96,1132.29 551.22,1077.87 580.48,1109.03" fill="none" stroke="#d9b633" stroke-width="2.6" stroke-linejoin="round"/>
<circle cx="442.54" cy="1134.79" r="4.8" fill="#d9b633"/>
<circle cx="455.08" cy="1087.84" r="4.8" fill="#d9b633"/>
<circle cx="471.8" cy="1098.23" r="4.8" fill="#d9b633"/>
<circle cx="488.52" cy="1118.17" r="4.8" fill="#d9b633"/>
<circle cx="496.88" cy="1123.99" r="4.8" fill="#d9b633"/>
<circle cx="521.96" cy="1132.29" r="4.8" fill="#d9b633"/>
<circle cx="551.22" cy="1077.87" r="4.8" fill="#d9b633"/>
<circle cx="580.48" cy="1109.03" r="4.8" fill="#d9b633"/>
<polyline points="442.54,1138.53 455.08,1094.07 471.8,1089.09 488.52,1130.22 496.88,1131.46 521.96,1141.43 551.22,1093.66 580.48,1066.24" fill="none" stroke="#d9b633" stroke-width="2.6" stroke-linejoin="round"/>
<circle cx="442.54" cy="1138.53" r="4.8" fill="#d9b633"/>
<circle cx="455.08" cy="1094.07" r="4.8" fill="#d9b633"/>
<circle cx="471.8" cy="1089.09" r="4.8" fill="#d9b633"/>
<circle cx="488.52" cy="1130.22" r="4.8" fill="#d9b633"/>
<circle cx="496.88" cy="1131.46" r="4.8" fill="#d9b633"/>
<circle cx="521.96" cy="1141.43" r="4.8" fill="#d9b633"/>
<circle cx="551.22" cy="1093.66" r="4.8" fill="#d9b633"/>
<circle cx="580.48" cy="1066.24" r="4.8" fill="#d9b633"/>
<polyline points="442.54,1131.46 455.08,1104.46 471.8,1123.99 488.52,1131.46 496.88,1147.25 521.96,1162.62 551.22,1128.97 580.48,1109.45 609.74,1077.04" fill="none" stroke="#d9b633" stroke-width="2.6" stroke-linejoin="round"/>
<circle cx="442.54" cy="1131.46" r="4.8" fill="#d9b633"/>
<circle cx="455.08" cy="1104.46" r="4.8" fill="#d9b633"/>
<circle cx="471.8" cy="1123.99" r="4.8" fill="#d9b633"/>
<circle cx="488.52" cy="1131.46" r="4.8" fill="#d9b633"/>
<circle cx="496.88" cy="1147.25" r="4.8" fill="#d9b633"/>
<circle cx="521.96" cy="1162.62" r="4.8" fill="#d9b633"/>
<circle cx="551.22" cy="1128.97" r="4.8" fill="#d9b633"/>
<circle cx="580.48" cy="1109.45" r="4.8" fill="#d9b633"/>
<circle cx="609.74" cy="1077.04" r="4.8" fill="#d9b633"/>
<polyline points="442.54,1107.78 455.08,1053.36 471.8,1039.65 488.52,1013.9" fill="none" stroke="#3d7a53" stroke-width="2.6" stroke-linejoin="round"/>
<circle cx="442.54" cy="1107.78" r="4.8" fill="#3d7a53"/>
<circle cx="455.08" cy="1053.36" r="4.8" fill="#3d7a53"/>
<circle cx="471.8" cy="1039.65" r="4.8" fill="#3d7a53"/>
<circle cx="488.52" cy="1013.9" r="4.8" fill="#3d7a53"/>
<polyline points="442.54,1114.85 455.08,1060.01 471.8,1046.3 488.52,1015.56" fill="none" stroke="#3d7a53" stroke-width="2.6" stroke-linejoin="round"/>
<circle cx="442.54" cy="1114.85" r="4.8" fill="#3d7a53"/>
<circle cx="455.08" cy="1060.01" r="4.8" fill="#3d7a53"/>
<circle cx="471.8" cy="1046.3" r="4.8" fill="#3d7a53"/>
<circle cx="488.52" cy="1015.56" r="4.8" fill="#3d7a53"/>
<polyline points="442.54,1118.17 455.08,1063.33 471.8,1053.36 488.52,1027.61" fill="none" stroke="#3d7a53" stroke-width="2.6" stroke-linejoin="round"/>
<circle cx="442.54" cy="1118.17" r="4.8" fill="#3d7a53"/>
<circle cx="455.08" cy="1063.33" r="4.8" fill="#3d7a53"/>
<circle cx="471.8" cy="1053.36" r="4.8" fill="#3d7a53"/>
<circle cx="488.52" cy="1027.61" r="4.8" fill="#3d7a53"/>
<polyline points="442.54,1124.82 455.08,1070.39 471.8,1060.01 488.52,1037.99" fill="none" stroke="#3d7a53" stroke-width="2.6" stroke-linejoin="round"/>
<circle cx="442.54" cy="1124.82" r="4.8" fill="#3d7a53"/>
<circle cx="455.08" cy="1070.39" r="4.8" fill="#3d7a53"/>
<circle cx="471.8" cy="1060.01" r="4.8" fill="#3d7a53"/>
<circle cx="488.52" cy="1037.99" r="4.8" fill="#3d7a53"/>
<polyline points="442.54,1121.08 455.08,1067.07 471.8,1056.69 488.52,1040.07" fill="none" stroke="#3d7a53" stroke-width="2.6" stroke-linejoin="round"/>
<circle cx="442.54" cy="1121.08" r="4.8" fill="#3d7a53"/>
<circle cx="455.08" cy="1067.07" r="4.8" fill="#3d7a53"/>
<circle cx="471.8" cy="1056.69" r="4.8" fill="#3d7a53"/>
<circle cx="488.52" cy="1040.07" r="4.8" fill="#3d7a53"/>
<line x1="487" y1="1216.2" x2="511" y2="1216.2" stroke="#d9b633" stroke-width="2.6"/>
<circle cx="499" cy="1216.2" r="4.8" fill="#d9b633"/>
<text transform="translate(523.7 1223.5) scale(0.96 1)"><tspan font-style="italic">TRAC</tspan>, 200,000</text>
<line x1="487" y1="1245.2" x2="511" y2="1245.2" stroke="#3d7a53" stroke-width="2.6"/>
<circle cx="499" cy="1245.2" r="4.8" fill="#3d7a53"/>
<text transform="translate(523.7 1252.5) scale(0.96 1)">LVV, 200,000</text>
<line x1="749.5" y1="975.6" x2="749.5" y2="1265.2" stroke="#000000" stroke-width="1.6"/>
<line x1="739.2" y1="1264.4" x2="1018.4" y2="1264.4" stroke="#000000" stroke-width="1.6"/>
<line x1="739.2" y1="1264.4" x2="749.5" y2="1264.4" stroke="#000000" stroke-width="1.6"/>
<line x1="739.2" y1="1223.26" x2="749.5" y2="1223.26" stroke="#000000" stroke-width="1.6"/>
<line x1="739.2" y1="1182.11" x2="749.5" y2="1182.11" stroke="#000000" stroke-width="1.6"/>
<line x1="739.2" y1="1140.97" x2="749.5" y2="1140.97" stroke="#000000" stroke-width="1.6"/>
<line x1="739.2" y1="1099.83" x2="749.5" y2="1099.83" stroke="#000000" stroke-width="1.6"/>
<line x1="739.2" y1="1058.69" x2="749.5" y2="1058.69" stroke="#000000" stroke-width="1.6"/>
<line x1="739.2" y1="1017.54" x2="749.5" y2="1017.54" stroke="#000000" stroke-width="1.6"/>
<line x1="739.2" y1="976.4" x2="749.5" y2="976.4" stroke="#000000" stroke-width="1.6"/>
<line x1="749.5" y1="1264.4" x2="749.5" y2="1274.7" stroke="#000000" stroke-width="1.6"/>
<line x1="831.9" y1="1264.4" x2="831.9" y2="1274.7" stroke="#000000" stroke-width="1.6"/>
<line x1="914.3" y1="1264.4" x2="914.3" y2="1274.7" stroke="#000000" stroke-width="1.6"/>
<line x1="996.7" y1="1264.4" x2="996.7" y2="1274.7" stroke="#000000" stroke-width="1.6"/>
<text transform="translate(749.5 1305.7) scale(0.96 1)" text-anchor="middle">0</text>
<text transform="translate(831.9 1305.7) scale(0.96 1)" text-anchor="middle">20</text>
<text transform="translate(914.3 1305.7) scale(0.96 1)" text-anchor="middle">40</text>
<text transform="translate(996.7 1305.7) scale(0.96 1)" text-anchor="middle">60</text>
<polyline points="761.86,1130.27 774.22,1104.35 790.7,1099.42 807.18,1078.85 815.42,1068.15" fill="none" stroke="#3d7a53" stroke-width="2.6" stroke-linejoin="round"/>
<circle cx="761.86" cy="1130.27" r="4.8" fill="#3d7a53"/>
<circle cx="774.22" cy="1104.35" r="4.8" fill="#3d7a53"/>
<circle cx="790.7" cy="1099.42" r="4.8" fill="#3d7a53"/>
<circle cx="807.18" cy="1078.85" r="4.8" fill="#3d7a53"/>
<circle cx="815.42" cy="1068.15" r="4.8" fill="#3d7a53"/>
<polyline points="761.86,1135.21 774.22,1111.35 790.7,1097.77 807.18,1095.3 815.42,1103.94 840.14,1107.23 868.98,1115.87 897.82,1086.66 926.66,1059.51" fill="none" stroke="#3d7a53" stroke-width="2.6" stroke-linejoin="round"/>
<circle cx="761.86" cy="1135.21" r="4.8" fill="#3d7a53"/>
<circle cx="774.22" cy="1111.35" r="4.8" fill="#3d7a53"/>
<circle cx="790.7" cy="1097.77" r="4.8" fill="#3d7a53"/>
<circle cx="807.18" cy="1095.3" r="4.8" fill="#3d7a53"/>
<circle cx="815.42" cy="1103.94" r="4.8" fill="#3d7a53"/>
<circle cx="840.14" cy="1107.23" r="4.8" fill="#3d7a53"/>
<circle cx="868.98" cy="1115.87" r="4.8" fill="#3d7a53"/>
<circle cx="897.82" cy="1086.66" r="4.8" fill="#3d7a53"/>
<circle cx="926.66" cy="1059.51" r="4.8" fill="#3d7a53"/>
<polyline points="761.86,1138.91 774.22,1116.29 790.7,1106 807.18,1087.49 815.42,1080.49" fill="none" stroke="#3d7a53" stroke-width="2.6" stroke-linejoin="round"/>
<circle cx="761.86" cy="1138.91" r="4.8" fill="#3d7a53"/>
<circle cx="774.22" cy="1116.29" r="4.8" fill="#3d7a53"/>
<circle cx="790.7" cy="1106" r="4.8" fill="#3d7a53"/>
<circle cx="807.18" cy="1087.49" r="4.8" fill="#3d7a53"/>
<circle cx="815.42" cy="1080.49" r="4.8" fill="#3d7a53"/>
<polyline points="761.86,1142.21 774.22,1119.99 790.7,1124.51 807.18,1134.8 815.42,1146.73 840.14,1145.09 868.98,1154.96 897.82,1118.75 926.66,1086.25" fill="none" stroke="#3d7a53" stroke-width="2.6" stroke-linejoin="round"/>
<circle cx="761.86" cy="1142.21" r="4.8" fill="#3d7a53"/>
<circle cx="774.22" cy="1119.99" r="4.8" fill="#3d7a53"/>
<circle cx="790.7" cy="1124.51" r="4.8" fill="#3d7a53"/>
<circle cx="807.18" cy="1134.8" r="4.8" fill="#3d7a53"/>
<circle cx="815.42" cy="1146.73" r="4.8" fill="#3d7a53"/>
<circle cx="840.14" cy="1145.09" r="4.8" fill="#3d7a53"/>
<circle cx="868.98" cy="1154.96" r="4.8" fill="#3d7a53"/>
<circle cx="897.82" cy="1118.75" r="4.8" fill="#3d7a53"/>
<circle cx="926.66" cy="1086.25" r="4.8" fill="#3d7a53"/>
<polyline points="761.86,1166.07 774.22,1108.06 790.7,1112.99 807.18,1136.03 815.42,1145.09 840.14,1166.89 868.98,1168.95 897.82,1205.15 926.66,1212.15 1000.82,1217.91" fill="none" stroke="#3d7a53" stroke-width="2.6" stroke-linejoin="round"/>
<circle cx="761.86" cy="1166.07" r="4.8" fill="#3d7a53"/>
<circle cx="774.22" cy="1108.06" r="4.8" fill="#3d7a53"/>
<circle cx="790.7" cy="1112.99" r="4.8" fill="#3d7a53"/>
<circle cx="807.18" cy="1136.03" r="4.8" fill="#3d7a53"/>
<circle cx="815.42" cy="1145.09" r="4.8" fill="#3d7a53"/>
<circle cx="840.14" cy="1166.89" r="4.8" fill="#3d7a53"/>
<circle cx="868.98" cy="1168.95" r="4.8" fill="#3d7a53"/>
<circle cx="897.82" cy="1205.15" r="4.8" fill="#3d7a53"/>
<circle cx="926.66" cy="1212.15" r="4.8" fill="#3d7a53"/>
<circle cx="1000.82" cy="1217.91" r="4.8" fill="#3d7a53"/>
<polyline points="761.86,1142.21 774.22,1138.09 790.7,1122.87 807.18,1140.56 815.42,1154.14 840.14,1108.88 868.98,1058.69" fill="none" stroke="#d9b633" stroke-width="2.6" stroke-linejoin="round"/>
<circle cx="761.86" cy="1142.21" r="4.8" fill="#d9b633"/>
<circle cx="774.22" cy="1138.09" r="4.8" fill="#d9b633"/>
<circle cx="790.7" cy="1122.87" r="4.8" fill="#d9b633"/>
<circle cx="807.18" cy="1140.56" r="4.8" fill="#d9b633"/>
<circle cx="815.42" cy="1154.14" r="4.8" fill="#d9b633"/>
<circle cx="840.14" cy="1108.88" r="4.8" fill="#d9b633"/>
<circle cx="868.98" cy="1058.69" r="4.8" fill="#d9b633"/>
<polyline points="761.86,1145.5 774.22,1147.14 790.7,1144.67 807.18,1141.79 840.14,1118.75 868.98,1078.02 897.82,1060.74" fill="none" stroke="#d9b633" stroke-width="2.6" stroke-linejoin="round"/>
<circle cx="761.86" cy="1145.5" r="4.8" fill="#d9b633"/>
<circle cx="774.22" cy="1147.14" r="4.8" fill="#d9b633"/>
<circle cx="790.7" cy="1144.67" r="4.8" fill="#d9b633"/>
<circle cx="807.18" cy="1141.79" r="4.8" fill="#d9b633"/>
<circle cx="840.14" cy="1118.75" r="4.8" fill="#d9b633"/>
<circle cx="868.98" cy="1078.02" r="4.8" fill="#d9b633"/>
<circle cx="897.82" cy="1060.74" r="4.8" fill="#d9b633"/>
<polyline points="761.86,1149.2 774.22,1152.49 790.7,1174.71 807.18,1163.6 815.42,1168.95 840.14,1158.66 868.98,1146.32 897.82,1136.86 926.66,1141.38 1000.82,1127.39" fill="none" stroke="#d9b633" stroke-width="2.6" stroke-linejoin="round"/>
<circle cx="761.86" cy="1149.2" r="4.8" fill="#d9b633"/>
<circle cx="774.22" cy="1152.49" r="4.8" fill="#d9b633"/>
<circle cx="790.7" cy="1174.71" r="4.8" fill="#d9b633"/>
<circle cx="807.18" cy="1163.6" r="4.8" fill="#d9b633"/>
<circle cx="815.42" cy="1168.95" r="4.8" fill="#d9b633"/>
<circle cx="840.14" cy="1158.66" r="4.8" fill="#d9b633"/>
<circle cx="868.98" cy="1146.32" r="4.8" fill="#d9b633"/>
<circle cx="897.82" cy="1136.86" r="4.8" fill="#d9b633"/>
<circle cx="926.66" cy="1141.38" r="4.8" fill="#d9b633"/>
<circle cx="1000.82" cy="1127.39" r="4.8" fill="#d9b633"/>
<polyline points="761.86,1152.49 774.22,1155.78 790.7,1189.93 807.18,1224.08 815.42,1219.97 840.14,1219.97 868.98,1217.5 897.82,1215.44 926.66,1217.09 1000.82,1222.43" fill="none" stroke="#d9b633" stroke-width="2.6" stroke-linejoin="round"/>
<circle cx="761.86" cy="1152.49" r="4.8" fill="#d9b633"/>
<circle cx="774.22" cy="1155.78" r="4.8" fill="#d9b633"/>
<circle cx="790.7" cy="1189.93" r="4.8" fill="#d9b633"/>
<circle cx="807.18" cy="1224.08" r="4.8" fill="#d9b633"/>
<circle cx="815.42" cy="1219.97" r="4.8" fill="#d9b633"/>
<circle cx="840.14" cy="1219.97" r="4.8" fill="#d9b633"/>
<circle cx="868.98" cy="1217.5" r="4.8" fill="#d9b633"/>
<circle cx="897.82" cy="1215.44" r="4.8" fill="#d9b633"/>
<circle cx="926.66" cy="1217.09" r="4.8" fill="#d9b633"/>
<circle cx="1000.82" cy="1222.43" r="4.8" fill="#d9b633"/>
<polyline points="761.86,1159.49 774.22,1157.43 790.7,1179.65 807.18,1220.79 815.42,1215.44 840.14,1201.04 868.98,1212.97 897.82,1210.5 926.66,1215.03 1000.82,1220.79" fill="none" stroke="#d9b633" stroke-width="2.6" stroke-linejoin="round"/>
<circle cx="761.86" cy="1159.49" r="4.8" fill="#d9b633"/>
<circle cx="774.22" cy="1157.43" r="4.8" fill="#d9b633"/>
<circle cx="790.7" cy="1179.65" r="4.8" fill="#d9b633"/>
<circle cx="807.18" cy="1220.79" r="4.8" fill="#d9b633"/>
<circle cx="815.42" cy="1215.44" r="4.8" fill="#d9b633"/>
<circle cx="840.14" cy="1201.04" r="4.8" fill="#d9b633"/>
<circle cx="868.98" cy="1212.97" r="4.8" fill="#d9b633"/>
<circle cx="897.82" cy="1210.5" r="4.8" fill="#d9b633"/>
<circle cx="926.66" cy="1215.03" r="4.8" fill="#d9b633"/>
<circle cx="1000.82" cy="1220.79" r="4.8" fill="#d9b633"/>
<polyline points="761.86,1155.37 774.22,1159.49 790.7,1184.17 807.18,1222.43 840.14,1220.79 897.82,1080.49" fill="none" stroke="#d9b633" stroke-width="2.6" stroke-linejoin="round"/>
<circle cx="761.86" cy="1155.37" r="4.8" fill="#d9b633"/>
<circle cx="774.22" cy="1159.49" r="4.8" fill="#d9b633"/>
<circle cx="790.7" cy="1184.17" r="4.8" fill="#d9b633"/>
<circle cx="807.18" cy="1222.43" r="4.8" fill="#d9b633"/>
<circle cx="840.14" cy="1220.79" r="4.8" fill="#d9b633"/>
<circle cx="897.82" cy="1080.49" r="4.8" fill="#d9b633"/>
<line x1="836.6" y1="990" x2="859.5" y2="990" stroke="#d9b633" stroke-width="2.6"/>
<circle cx="848" cy="990" r="4.8" fill="#d9b633"/>
<text transform="translate(872.5 997.6) scale(0.96 1)"><tspan font-style="italic">TRAC</tspan>, 500,000</text>
<line x1="836.6" y1="1021.5" x2="859.5" y2="1021.5" stroke="#3d7a53" stroke-width="2.6"/>
<circle cx="848" cy="1021.5" r="4.8" fill="#3d7a53"/>
<text transform="translate(872.5 1029.1) scale(0.96 1)">LVV, 500,000</text>
<line x1="106.2" y1="1340.8" x2="402.5" y2="1340.8" stroke="#000000" stroke-width="2.2"/>
<line x1="106.2" y1="1333.6" x2="106.2" y2="1347.6" stroke="#000000" stroke-width="2.2"/>
<text transform="translate(564 1347) scale(0.96 1)" text-anchor="middle">Time after treatment (days)</text>
<line x1="723.9" y1="1340.8" x2="1018.4" y2="1340.8" stroke="#000000" stroke-width="2.2"/>
<line x1="1018.4" y1="1333.6" x2="1018.4" y2="1347.8" stroke="#000000" stroke-width="2.2"/>
<text x="0" y="0" font-size="31" font-weight="bold" stroke="#000" stroke-width="0.9" transform="translate(1084.5 966.4) scale(1.22 1)">f</text>
<line x1="1183.2" y1="975.7" x2="1183.2" y2="1265" stroke="#000000" stroke-width="1.6"/>
<line x1="1172.9" y1="1265" x2="1183.2" y2="1265" stroke="#000000" stroke-width="1.6"/>
<text transform="translate(1162.2 1273.7) scale(0.96 1)" text-anchor="end">10<tspan dy="-13" font-size="16.88">2</tspan></text>
<line x1="1172.9" y1="1223.79" x2="1183.2" y2="1223.79" stroke="#1c3557" stroke-width="2.2"/>
<text transform="translate(1162.2 1232.49) scale(0.96 1)" text-anchor="end">10<tspan dy="-13" font-size="16.88">3</tspan></text>
<line x1="1172.9" y1="1182.57" x2="1183.2" y2="1182.57" stroke="#000000" stroke-width="1.6"/>
<text transform="translate(1162.2 1191.27) scale(0.96 1)" text-anchor="end">10<tspan dy="-13" font-size="16.88">4</tspan></text>
<line x1="1172.9" y1="1141.36" x2="1183.2" y2="1141.36" stroke="#000000" stroke-width="1.6"/>
<text transform="translate(1162.2 1150.06) scale(0.96 1)" text-anchor="end">10<tspan dy="-13" font-size="16.88">5</tspan></text>
<line x1="1172.9" y1="1100.14" x2="1183.2" y2="1100.14" stroke="#000000" stroke-width="1.6"/>
<text transform="translate(1162.2 1108.84) scale(0.96 1)" text-anchor="end">10<tspan dy="-13" font-size="16.88">6</tspan></text>
<line x1="1172.9" y1="1058.93" x2="1183.2" y2="1058.93" stroke="#000000" stroke-width="1.6"/>
<text transform="translate(1162.2 1067.63) scale(0.96 1)" text-anchor="end">10<tspan dy="-13" font-size="16.88">7</tspan></text>
<line x1="1172.9" y1="1017.71" x2="1183.2" y2="1017.71" stroke="#000000" stroke-width="1.6"/>
<text transform="translate(1162.2 1026.41) scale(0.96 1)" text-anchor="end">10<tspan dy="-13" font-size="16.88">8</tspan></text>
<line x1="1172.9" y1="976.5" x2="1183.2" y2="976.5" stroke="#000000" stroke-width="1.6"/>
<text transform="translate(1162.2 985.2) scale(0.96 1)" text-anchor="end">10<tspan dy="-13" font-size="16.88">9</tspan></text>
<line x1="1183.2" y1="1265" x2="1183.2" y2="1275.3" stroke="#1c3557" stroke-width="2.4"/>
<text transform="translate(1183.2 1307) scale(0.96 1)" text-anchor="middle">0</text>
<line x1="1266" y1="1265" x2="1266" y2="1275.3" stroke="#000000" stroke-width="1.6"/>
<text transform="translate(1266 1307) scale(0.96 1)" text-anchor="middle">20</text>
<line x1="1348.8" y1="1265" x2="1348.8" y2="1275.3" stroke="#000000" stroke-width="1.6"/>
<text transform="translate(1348.8 1307) scale(0.96 1)" text-anchor="middle">40</text>
<line x1="1431.6" y1="1265" x2="1431.6" y2="1275.3" stroke="#000000" stroke-width="1.6"/>
<text transform="translate(1431.6 1307) scale(0.96 1)" text-anchor="middle">60</text>
<line x1="1172.9" y1="1265" x2="1452.8" y2="1265" stroke="#1c3557" stroke-width="2.6"/>
<polyline points="1195.62,1131.05 1208.04,1082.83 1224.6,1060.58 1241.16,1076.65 1274.28,1215.95 1303.26,1208.54 1332.24,1215.95 1361.22,1214.31 1435.74,1218.84" fill="none" stroke="#a9c7e6" stroke-width="2.6" stroke-linejoin="round"/>
<circle cx="1195.62" cy="1131.05" r="4.8" fill="#a9c7e6"/>
<circle cx="1208.04" cy="1082.83" r="4.8" fill="#a9c7e6"/>
<circle cx="1224.6" cy="1060.58" r="4.8" fill="#a9c7e6"/>
<circle cx="1241.16" cy="1076.65" r="4.8" fill="#a9c7e6"/>
<circle cx="1274.28" cy="1215.95" r="4.8" fill="#a9c7e6"/>
<circle cx="1303.26" cy="1208.54" r="4.8" fill="#a9c7e6"/>
<circle cx="1332.24" cy="1215.95" r="4.8" fill="#a9c7e6"/>
<circle cx="1361.22" cy="1214.31" r="4.8" fill="#a9c7e6"/>
<circle cx="1435.74" cy="1218.84" r="4.8" fill="#a9c7e6"/>
<polyline points="1195.62,1122.81 1208.04,1073.35 1224.6,1038.73 1241.16,1032.96" fill="none" stroke="#a9c7e6" stroke-width="2.6" stroke-linejoin="round"/>
<circle cx="1195.62" cy="1122.81" r="4.8" fill="#a9c7e6"/>
<circle cx="1208.04" cy="1073.35" r="4.8" fill="#a9c7e6"/>
<circle cx="1224.6" cy="1038.73" r="4.8" fill="#a9c7e6"/>
<circle cx="1241.16" cy="1032.96" r="4.8" fill="#a9c7e6"/>
<polyline points="1195.62,1114.16 1208.04,1062.23 1224.6,1040.38 1241.16,1034.2" fill="none" stroke="#a9c7e6" stroke-width="2.6" stroke-linejoin="round"/>
<circle cx="1195.62" cy="1114.16" r="4.8" fill="#a9c7e6"/>
<circle cx="1208.04" cy="1062.23" r="4.8" fill="#a9c7e6"/>
<circle cx="1224.6" cy="1040.38" r="4.8" fill="#a9c7e6"/>
<circle cx="1241.16" cy="1034.2" r="4.8" fill="#a9c7e6"/>
<polyline points="1195.62,1119.93 1208.04,1071.29 1224.6,1050.27 1241.16,1058.52" fill="none" stroke="#a9c7e6" stroke-width="2.6" stroke-linejoin="round"/>
<circle cx="1195.62" cy="1119.93" r="4.8" fill="#a9c7e6"/>
<circle cx="1208.04" cy="1071.29" r="4.8" fill="#a9c7e6"/>
<circle cx="1224.6" cy="1050.27" r="4.8" fill="#a9c7e6"/>
<circle cx="1241.16" cy="1058.52" r="4.8" fill="#a9c7e6"/>
<polyline points="1195.62,1124.87 1208.04,1077.47 1224.6,1054.81 1241.16,1046.15" fill="none" stroke="#a9c7e6" stroke-width="2.6" stroke-linejoin="round"/>
<circle cx="1195.62" cy="1124.87" r="4.8" fill="#a9c7e6"/>
<circle cx="1208.04" cy="1077.47" r="4.8" fill="#a9c7e6"/>
<circle cx="1224.6" cy="1054.81" r="4.8" fill="#a9c7e6"/>
<circle cx="1241.16" cy="1046.15" r="4.8" fill="#a9c7e6"/>
<text transform="translate(1105.5 1120) rotate(-90) scale(0.96 1)" text-anchor="middle">BLI</text>
<line x1="1197.7" y1="975" x2="1216.5" y2="975" stroke="#a9c7e6" stroke-width="2.6"/>
<circle cx="1207" cy="975" r="4.8" fill="#a9c7e6"/>
<text transform="translate(1228 982.3) scale(0.96 1)">LVV<tspan dy="-13" font-size="16.88">low</tspan></text>
<line x1="1503.4" y1="974.2" x2="1503.4" y2="1265.6" stroke="#000000" stroke-width="1.6"/>
<line x1="1493.1" y1="1264.8" x2="1775" y2="1264.8" stroke="#000000" stroke-width="1.6"/>
<line x1="1493.1" y1="1264.8" x2="1503.4" y2="1264.8" stroke="#000000" stroke-width="1.6"/>
<line x1="1493.1" y1="1223.4" x2="1503.4" y2="1223.4" stroke="#000000" stroke-width="1.6"/>
<line x1="1493.1" y1="1182" x2="1503.4" y2="1182" stroke="#000000" stroke-width="1.6"/>
<line x1="1493.1" y1="1140.6" x2="1503.4" y2="1140.6" stroke="#000000" stroke-width="1.6"/>
<line x1="1493.1" y1="1099.2" x2="1503.4" y2="1099.2" stroke="#000000" stroke-width="1.6"/>
<line x1="1493.1" y1="1057.8" x2="1503.4" y2="1057.8" stroke="#000000" stroke-width="1.6"/>
<line x1="1493.1" y1="1016.4" x2="1503.4" y2="1016.4" stroke="#000000" stroke-width="1.6"/>
<line x1="1493.1" y1="975" x2="1503.4" y2="975" stroke="#000000" stroke-width="1.6"/>
<line x1="1503.4" y1="1264.8" x2="1503.4" y2="1275.1" stroke="#000000" stroke-width="1.6"/>
<line x1="1587.2" y1="1264.8" x2="1587.2" y2="1275.1" stroke="#000000" stroke-width="1.6"/>
<line x1="1671" y1="1264.8" x2="1671" y2="1275.1" stroke="#000000" stroke-width="1.6"/>
<line x1="1754.8" y1="1264.8" x2="1754.8" y2="1275.1" stroke="#000000" stroke-width="1.6"/>
<text transform="translate(1503.4 1307) scale(0.96 1)" text-anchor="middle">0</text>
<text transform="translate(1587.2 1307) scale(0.96 1)" text-anchor="middle">20</text>
<text transform="translate(1671 1307) scale(0.96 1)" text-anchor="middle">40</text>
<text transform="translate(1754.8 1307) scale(0.96 1)" text-anchor="middle">60</text>
<polyline points="1515.97,1129.42 1528.54,1121.56 1545.3,1118.24 1562.06,1130.25 1595.58,1220.92 1624.91,1209.74 1654.24,1215.53 1683.57,1217.6 1758.99,1218.85" fill="none" stroke="#6a9cd3" stroke-width="2.6" stroke-linejoin="round"/>
<circle cx="1515.97" cy="1129.42" r="4.8" fill="#6a9cd3"/>
<circle cx="1528.54" cy="1121.56" r="4.8" fill="#6a9cd3"/>
<circle cx="1545.3" cy="1118.24" r="4.8" fill="#6a9cd3"/>
<circle cx="1562.06" cy="1130.25" r="4.8" fill="#6a9cd3"/>
<circle cx="1595.58" cy="1220.92" r="4.8" fill="#6a9cd3"/>
<circle cx="1624.91" cy="1209.74" r="4.8" fill="#6a9cd3"/>
<circle cx="1654.24" cy="1215.53" r="4.8" fill="#6a9cd3"/>
<circle cx="1683.57" cy="1217.6" r="4.8" fill="#6a9cd3"/>
<circle cx="1758.99" cy="1218.85" r="4.8" fill="#6a9cd3"/>
<polyline points="1515.97,1124.87 1528.54,1090.51 1545.3,1083.47 1562.06,1090.51 1595.58,1088.02 1624.91,1058.63 1654.24,1042.07 1683.57,1014.74" fill="none" stroke="#6a9cd3" stroke-width="2.6" stroke-linejoin="round"/>
<circle cx="1515.97" cy="1124.87" r="4.8" fill="#6a9cd3"/>
<circle cx="1528.54" cy="1090.51" r="4.8" fill="#6a9cd3"/>
<circle cx="1545.3" cy="1083.47" r="4.8" fill="#6a9cd3"/>
<circle cx="1562.06" cy="1090.51" r="4.8" fill="#6a9cd3"/>
<circle cx="1595.58" cy="1088.02" r="4.8" fill="#6a9cd3"/>
<circle cx="1624.91" cy="1058.63" r="4.8" fill="#6a9cd3"/>
<circle cx="1654.24" cy="1042.07" r="4.8" fill="#6a9cd3"/>
<circle cx="1683.57" cy="1014.74" r="4.8" fill="#6a9cd3"/>
<polyline points="1515.97,1121.56 1528.54,1076.84 1545.3,1067.32 1562.06,1097.54 1595.58,1078.5 1624.91,1046.62 1654.24,1042.07 1683.57,1000.25" fill="none" stroke="#6a9cd3" stroke-width="2.6" stroke-linejoin="round"/>
<circle cx="1515.97" cy="1121.56" r="4.8" fill="#6a9cd3"/>
<circle cx="1528.54" cy="1076.84" r="4.8" fill="#6a9cd3"/>
<circle cx="1545.3" cy="1067.32" r="4.8" fill="#6a9cd3"/>
<circle cx="1562.06" cy="1097.54" r="4.8" fill="#6a9cd3"/>
<circle cx="1595.58" cy="1078.5" r="4.8" fill="#6a9cd3"/>
<circle cx="1624.91" cy="1046.62" r="4.8" fill="#6a9cd3"/>
<circle cx="1654.24" cy="1042.07" r="4.8" fill="#6a9cd3"/>
<circle cx="1683.57" cy="1000.25" r="4.8" fill="#6a9cd3"/>
<polyline points="1515.97,1118.24 1528.54,1064.84 1545.3,1038.76 1562.06,1027.99" fill="none" stroke="#6a9cd3" stroke-width="2.6" stroke-linejoin="round"/>
<circle cx="1515.97" cy="1118.24" r="4.8" fill="#6a9cd3"/>
<circle cx="1528.54" cy="1064.84" r="4.8" fill="#6a9cd3"/>
<circle cx="1545.3" cy="1038.76" r="4.8" fill="#6a9cd3"/>
<circle cx="1562.06" cy="1027.99" r="4.8" fill="#6a9cd3"/>
<polyline points="1515.97,1119.9 1528.54,1070.22 1545.3,1045.79 1562.06,1071.46 1595.58,1064.84 1624.91,1038.76 1654.24,1042.07" fill="none" stroke="#6a9cd3" stroke-width="2.6" stroke-linejoin="round"/>
<circle cx="1515.97" cy="1119.9" r="4.8" fill="#6a9cd3"/>
<circle cx="1528.54" cy="1070.22" r="4.8" fill="#6a9cd3"/>
<circle cx="1545.3" cy="1045.79" r="4.8" fill="#6a9cd3"/>
<circle cx="1562.06" cy="1071.46" r="4.8" fill="#6a9cd3"/>
<circle cx="1595.58" cy="1064.84" r="4.8" fill="#6a9cd3"/>
<circle cx="1624.91" cy="1038.76" r="4.8" fill="#6a9cd3"/>
<circle cx="1654.24" cy="1042.07" r="4.8" fill="#6a9cd3"/>
<line x1="1518" y1="975" x2="1537" y2="975" stroke="#6a9cd3" stroke-width="2.6"/>
<circle cx="1527.5" cy="975" r="4.8" fill="#6a9cd3"/>
<text transform="translate(1548.3 982.3) scale(0.96 1)">LVV<tspan dy="-13" font-size="16.88">high</tspan></text>
<line x1="1829.2" y1="975.4" x2="1829.2" y2="1265.5" stroke="#000000" stroke-width="1.6"/>
<line x1="1818.9" y1="1264.7" x2="2098" y2="1264.7" stroke="#000000" stroke-width="1.6"/>
<line x1="1818.9" y1="1264.7" x2="1829.2" y2="1264.7" stroke="#000000" stroke-width="1.6"/>
<line x1="1818.9" y1="1223.49" x2="1829.2" y2="1223.49" stroke="#000000" stroke-width="1.6"/>
<line x1="1818.9" y1="1182.27" x2="1829.2" y2="1182.27" stroke="#000000" stroke-width="1.6"/>
<line x1="1818.9" y1="1141.06" x2="1829.2" y2="1141.06" stroke="#000000" stroke-width="1.6"/>
<line x1="1818.9" y1="1099.84" x2="1829.2" y2="1099.84" stroke="#000000" stroke-width="1.6"/>
<line x1="1818.9" y1="1058.63" x2="1829.2" y2="1058.63" stroke="#000000" stroke-width="1.6"/>
<line x1="1818.9" y1="1017.41" x2="1829.2" y2="1017.41" stroke="#000000" stroke-width="1.6"/>
<line x1="1818.9" y1="976.2" x2="1829.2" y2="976.2" stroke="#000000" stroke-width="1.6"/>
<line x1="1829.2" y1="1264.7" x2="1829.2" y2="1275" stroke="#000000" stroke-width="1.6"/>
<line x1="1912" y1="1264.7" x2="1912" y2="1275" stroke="#000000" stroke-width="1.6"/>
<line x1="1994.8" y1="1264.7" x2="1994.8" y2="1275" stroke="#000000" stroke-width="1.6"/>
<line x1="2077.6" y1="1264.7" x2="2077.6" y2="1275" stroke="#000000" stroke-width="1.6"/>
<text transform="translate(1829.2 1307) scale(0.96 1)" text-anchor="middle">0</text>
<text transform="translate(1912 1307) scale(0.96 1)" text-anchor="middle">20</text>
<text transform="translate(1994.8 1307) scale(0.96 1)" text-anchor="middle">40</text>
<text transform="translate(2077.6 1307) scale(0.96 1)" text-anchor="middle">60</text>
<polyline points="1841.62,1120.86 1854.04,1101.9 1870.6,1072.64 1887.16,1151.77 1895.44,1180.21 1920.28,1214.83 1949.26,1212.77 1978.24,1213.18 2007.22,1211.12 2081.74,1215.24" fill="none" stroke="#b94145" stroke-width="2.6" stroke-linejoin="round"/>
<circle cx="1841.62" cy="1120.86" r="4.8" fill="#b94145"/>
<circle cx="1854.04" cy="1101.9" r="4.8" fill="#b94145"/>
<circle cx="1870.6" cy="1072.64" r="4.8" fill="#b94145"/>
<circle cx="1887.16" cy="1151.77" r="4.8" fill="#b94145"/>
<circle cx="1895.44" cy="1180.21" r="4.8" fill="#b94145"/>
<circle cx="1920.28" cy="1214.83" r="4.8" fill="#b94145"/>
<circle cx="1949.26" cy="1212.77" r="4.8" fill="#b94145"/>
<circle cx="1978.24" cy="1213.18" r="4.8" fill="#b94145"/>
<circle cx="2007.22" cy="1211.12" r="4.8" fill="#b94145"/>
<circle cx="2081.74" cy="1215.24" r="4.8" fill="#b94145"/>
<polyline points="1841.62,1130.34 1854.04,1116.33 1870.6,1101.08 1887.16,1114.68 1895.44,1131.99 1920.28,1212.36 1949.26,1211.95 1978.24,1212.77 2007.22,1207.82 2081.74,1214.01" fill="none" stroke="#b94145" stroke-width="2.6" stroke-linejoin="round"/>
<circle cx="1841.62" cy="1130.34" r="4.8" fill="#b94145"/>
<circle cx="1854.04" cy="1116.33" r="4.8" fill="#b94145"/>
<circle cx="1870.6" cy="1101.08" r="4.8" fill="#b94145"/>
<circle cx="1887.16" cy="1114.68" r="4.8" fill="#b94145"/>
<circle cx="1895.44" cy="1131.99" r="4.8" fill="#b94145"/>
<circle cx="1920.28" cy="1212.36" r="4.8" fill="#b94145"/>
<circle cx="1949.26" cy="1211.95" r="4.8" fill="#b94145"/>
<circle cx="1978.24" cy="1212.77" r="4.8" fill="#b94145"/>
<circle cx="2007.22" cy="1207.82" r="4.8" fill="#b94145"/>
<circle cx="2081.74" cy="1214.01" r="4.8" fill="#b94145"/>
<polyline points="1841.62,1143.12 1854.04,1124.57 1870.6,1110.56 1887.16,1157.96 1895.44,1192.99 1920.28,1221.43 1949.26,1219.36 1978.24,1215.24 2007.22,1219.36 2081.74,1219.36" fill="none" stroke="#b94145" stroke-width="2.6" stroke-linejoin="round"/>
<circle cx="1841.62" cy="1143.12" r="4.8" fill="#b94145"/>
<circle cx="1854.04" cy="1124.57" r="4.8" fill="#b94145"/>
<circle cx="1870.6" cy="1110.56" r="4.8" fill="#b94145"/>
<circle cx="1887.16" cy="1157.96" r="4.8" fill="#b94145"/>
<circle cx="1895.44" cy="1192.99" r="4.8" fill="#b94145"/>
<circle cx="1920.28" cy="1221.43" r="4.8" fill="#b94145"/>
<circle cx="1949.26" cy="1219.36" r="4.8" fill="#b94145"/>
<circle cx="1978.24" cy="1215.24" r="4.8" fill="#b94145"/>
<circle cx="2007.22" cy="1219.36" r="4.8" fill="#b94145"/>
<circle cx="2081.74" cy="1219.36" r="4.8" fill="#b94145"/>
<polyline points="1841.62,1149.3 1854.04,1145.18 1870.6,1143.12 1887.16,1216.89 1895.44,1219.36 1920.28,1223.49 1949.26,1221.43 1978.24,1217.3 2007.22,1223.49 2081.74,1221.43" fill="none" stroke="#b94145" stroke-width="2.6" stroke-linejoin="round"/>
<circle cx="1841.62" cy="1149.3" r="4.8" fill="#b94145"/>
<circle cx="1854.04" cy="1145.18" r="4.8" fill="#b94145"/>
<circle cx="1870.6" cy="1143.12" r="4.8" fill="#b94145"/>
<circle cx="1887.16" cy="1216.89" r="4.8" fill="#b94145"/>
<circle cx="1895.44" cy="1219.36" r="4.8" fill="#b94145"/>
<circle cx="1920.28" cy="1223.49" r="4.8" fill="#b94145"/>
<circle cx="1949.26" cy="1221.43" r="4.8" fill="#b94145"/>
<circle cx="1978.24" cy="1217.3" r="4.8" fill="#b94145"/>
<circle cx="2007.22" cy="1223.49" r="4.8" fill="#b94145"/>
<circle cx="2081.74" cy="1221.43" r="4.8" fill="#b94145"/>
<polyline points="1841.62,1153.42 1854.04,1147.24 1870.6,1145.18 1887.16,1230.08 1895.44,1221.43 1920.28,1221.43 1949.26,1223.49 1978.24,1219.36 2007.22,1225.55 2081.74,1225.55" fill="none" stroke="#b94145" stroke-width="2.6" stroke-linejoin="round"/>
<circle cx="1841.62" cy="1153.42" r="4.8" fill="#b94145"/>
<circle cx="1854.04" cy="1147.24" r="4.8" fill="#b94145"/>
<circle cx="1870.6" cy="1145.18" r="4.8" fill="#b94145"/>
<circle cx="1887.16" cy="1230.08" r="4.8" fill="#b94145"/>
<circle cx="1895.44" cy="1221.43" r="4.8" fill="#b94145"/>
<circle cx="1920.28" cy="1221.43" r="4.8" fill="#b94145"/>
<circle cx="1949.26" cy="1223.49" r="4.8" fill="#b94145"/>
<circle cx="1978.24" cy="1219.36" r="4.8" fill="#b94145"/>
<circle cx="2007.22" cy="1225.55" r="4.8" fill="#b94145"/>
<circle cx="2081.74" cy="1225.55" r="4.8" fill="#b94145"/>
<polyline points="1841.62,1157.54 1854.04,1149.3 1870.6,1117.15 1887.16,1221.43 1895.44,1223.49 1920.28,1223.49 1949.26,1221.43 1978.24,1219.36 2007.22,1221.43 2081.74,1223.49" fill="none" stroke="#b94145" stroke-width="2.6" stroke-linejoin="round"/>
<circle cx="1841.62" cy="1157.54" r="4.8" fill="#b94145"/>
<circle cx="1854.04" cy="1149.3" r="4.8" fill="#b94145"/>
<circle cx="1870.6" cy="1117.15" r="4.8" fill="#b94145"/>
<circle cx="1887.16" cy="1221.43" r="4.8" fill="#b94145"/>
<circle cx="1895.44" cy="1223.49" r="4.8" fill="#b94145"/>
<circle cx="1920.28" cy="1223.49" r="4.8" fill="#b94145"/>
<circle cx="1949.26" cy="1221.43" r="4.8" fill="#b94145"/>
<circle cx="1978.24" cy="1219.36" r="4.8" fill="#b94145"/>
<circle cx="2007.22" cy="1221.43" r="4.8" fill="#b94145"/>
<circle cx="2081.74" cy="1223.49" r="4.8" fill="#b94145"/>
<line x1="1844" y1="975.2" x2="1862.6" y2="975.2" stroke="#b94145" stroke-width="2.6"/>
<circle cx="1853.3" cy="975.2" r="4.8" fill="#b94145"/>
<text transform="translate(1874 982.7) scale(0.96 1)">AAV/EDV</text>
<line x1="1185.2" y1="1340.4" x2="1480.3" y2="1340.4" stroke="#000000" stroke-width="2.2"/>
<line x1="1185.2" y1="1334.5" x2="1185.2" y2="1347.5" stroke="#000000" stroke-width="2.2"/>
<text transform="translate(1641.2 1347) scale(0.96 1)" text-anchor="middle">Time after treatment (days)</text>
<line x1="1801.6" y1="1340.5" x2="2101.5" y2="1340.5" stroke="#000000" stroke-width="2.2"/>
<line x1="2101.5" y1="1333.6" x2="2101.5" y2="1347.6" stroke="#000000" stroke-width="2.2"/>
<text x="0" y="0" font-size="31" font-weight="bold" stroke="#000" stroke-width="0.9" transform="translate(0 1415) scale(1.22 1)">g</text>
<line x1="131.4" y1="1447.5" x2="131.4" y2="1707" stroke="#000000" stroke-width="1.6"/>
<line x1="121.6" y1="1707" x2="906.2" y2="1707" stroke="#000000" stroke-width="1.6"/>
<line x1="121.6" y1="1707" x2="131.4" y2="1707" stroke="#000000" stroke-width="1.6"/>
<text transform="translate(110.4 1715.2) scale(0.96 1)" text-anchor="end">10<tspan dy="-13" font-size="16.88">–2</tspan></text>
<line x1="121.6" y1="1663.92" x2="131.4" y2="1663.92" stroke="#000000" stroke-width="1.6"/>
<text transform="translate(110.4 1672.12) scale(0.96 1)" text-anchor="end">10<tspan dy="-13" font-size="16.88">–1</tspan></text>
<line x1="121.6" y1="1620.83" x2="131.4" y2="1620.83" stroke="#000000" stroke-width="1.6"/>
<text transform="translate(110.4 1629.03) scale(0.96 1)" text-anchor="end">10<tspan dy="-13" font-size="16.88">0</tspan></text>
<line x1="121.6" y1="1577.75" x2="131.4" y2="1577.75" stroke="#000000" stroke-width="1.6"/>
<text transform="translate(110.4 1585.95) scale(0.96 1)" text-anchor="end">10<tspan dy="-13" font-size="16.88">1</tspan></text>
<line x1="121.6" y1="1534.67" x2="131.4" y2="1534.67" stroke="#000000" stroke-width="1.6"/>
<text transform="translate(110.4 1542.87) scale(0.96 1)" text-anchor="end">10<tspan dy="-13" font-size="16.88">2</tspan></text>
<line x1="121.6" y1="1491.58" x2="131.4" y2="1491.58" stroke="#000000" stroke-width="1.6"/>
<text transform="translate(110.4 1499.78) scale(0.96 1)" text-anchor="end">10<tspan dy="-13" font-size="16.88">3</tspan></text>
<line x1="121.6" y1="1448.5" x2="131.4" y2="1448.5" stroke="#000000" stroke-width="1.6"/>
<text transform="translate(110.4 1456.7) scale(0.96 1)" text-anchor="end">10<tspan dy="-13" font-size="16.88">4</tspan></text>
<text transform="translate(45.5 1577) rotate(-90) scale(0.96 1)" text-anchor="middle">CAR T cells per µl</text>
<line x1="225.3" y1="1707" x2="225.3" y2="1716.8" stroke="#000000" stroke-width="1.6"/>
<text transform="translate(225.3 1749) scale(0.96 1)" text-anchor="middle">w1</text>
<rect x="141" y="1601.45" width="15.4" height="105.55" fill="#ecda96" stroke="#d9b633" stroke-width="2.2"/>
<rect x="166.3" y="1647.11" width="15.4" height="59.89" fill="#ecda96" stroke="#d9b633" stroke-width="2.2"/>
<rect x="191.9" y="1658.75" width="15.4" height="48.25" fill="#aec8b1" stroke="#3d7a53" stroke-width="2.2"/>
<rect x="217.6" y="1639.36" width="15.4" height="67.64" fill="#aec8b1" stroke="#3d7a53" stroke-width="2.2"/>
<rect x="243" y="1617.82" width="15.4" height="89.18" fill="#b6cce7" stroke="#6a9cd3" stroke-width="2.2"/>
<rect x="268.4" y="1607.91" width="15.4" height="99.09" fill="#b6cce7" stroke="#6a9cd3" stroke-width="2.2"/>
<rect x="294" y="1562.24" width="15.4" height="144.76" fill="#dc999b" stroke="#b94145" stroke-width="2.2"/>
<line x1="148.7" y1="1581.2" x2="148.7" y2="1612.22" stroke="#d9b633" stroke-width="2"/>
<line x1="142.7" y1="1581.2" x2="154.7" y2="1581.2" stroke="#d9b633" stroke-width="2"/>
<line x1="142.7" y1="1612.22" x2="154.7" y2="1612.22" stroke="#d9b633" stroke-width="2"/>
<circle cx="148.7" cy="1584.21" r="7.15" fill="none" stroke="#d9b633" stroke-width="2.3"/>
<circle cx="148.7" cy="1588.09" r="7.15" fill="none" stroke="#d9b633" stroke-width="2.3"/>
<circle cx="148.7" cy="1589.81" r="7.15" fill="none" stroke="#d9b633" stroke-width="2.3"/>
<circle cx="148.7" cy="1594.98" r="7.15" fill="none" stroke="#d9b633" stroke-width="2.3"/>
<circle cx="148.7" cy="1612.22" r="7.15" fill="none" stroke="#d9b633" stroke-width="2.3"/>
<line x1="174" y1="1646.68" x2="174" y2="1663.92" stroke="#d9b633" stroke-width="2"/>
<line x1="168" y1="1646.68" x2="180" y2="1646.68" stroke="#d9b633" stroke-width="2"/>
<line x1="168" y1="1663.92" x2="180" y2="1663.92" stroke="#d9b633" stroke-width="2"/>
<circle cx="174" cy="1630.31" r="8.3" fill="#d9b633"/>
<circle cx="174" cy="1634.19" r="8.3" fill="#d9b633"/>
<circle cx="174" cy="1650.99" r="8.3" fill="#d9b633"/>
<circle cx="174" cy="1663.92" r="8.3" fill="#d9b633"/>
<circle cx="174" cy="1665.21" r="8.3" fill="#d9b633"/>
<line x1="199.6" y1="1641.51" x2="199.6" y2="1663.92" stroke="#3d7a53" stroke-width="2"/>
<line x1="193.6" y1="1641.51" x2="205.6" y2="1641.51" stroke="#3d7a53" stroke-width="2"/>
<line x1="193.6" y1="1663.92" x2="205.6" y2="1663.92" stroke="#3d7a53" stroke-width="2"/>
<circle cx="199.6" cy="1637.2" r="7.15" fill="none" stroke="#3d7a53" stroke-width="2.3"/>
<circle cx="199.6" cy="1650.99" r="7.15" fill="none" stroke="#3d7a53" stroke-width="2.3"/>
<circle cx="199.6" cy="1663.92" r="7.15" fill="none" stroke="#3d7a53" stroke-width="2.3"/>
<line x1="225.3" y1="1622.99" x2="225.3" y2="1659.61" stroke="#3d7a53" stroke-width="2"/>
<line x1="219.3" y1="1622.99" x2="231.3" y2="1622.99" stroke="#3d7a53" stroke-width="2"/>
<line x1="219.3" y1="1659.61" x2="231.3" y2="1659.61" stroke="#3d7a53" stroke-width="2"/>
<circle cx="225.3" cy="1622.99" r="8.3" fill="#3d7a53"/>
<circle cx="225.3" cy="1630.31" r="8.3" fill="#3d7a53"/>
<circle cx="225.3" cy="1632.9" r="8.3" fill="#3d7a53"/>
<circle cx="225.3" cy="1665.21" r="8.3" fill="#3d7a53"/>
<line x1="250.7" y1="1607.91" x2="250.7" y2="1620.83" stroke="#6a9cd3" stroke-width="2"/>
<line x1="244.7" y1="1607.91" x2="256.7" y2="1607.91" stroke="#6a9cd3" stroke-width="2"/>
<line x1="244.7" y1="1620.83" x2="256.7" y2="1620.83" stroke="#6a9cd3" stroke-width="2"/>
<circle cx="250.7" cy="1606.62" r="7.15" fill="none" stroke="#6a9cd3" stroke-width="2.3"/>
<circle cx="250.7" cy="1609.2" r="7.15" fill="none" stroke="#6a9cd3" stroke-width="2.3"/>
<circle cx="250.7" cy="1620.4" r="7.15" fill="none" stroke="#6a9cd3" stroke-width="2.3"/>
<line x1="276.1" y1="1585.51" x2="276.1" y2="1625.14" stroke="#6a9cd3" stroke-width="2"/>
<line x1="270.1" y1="1585.51" x2="282.1" y2="1585.51" stroke="#6a9cd3" stroke-width="2"/>
<line x1="270.1" y1="1625.14" x2="282.1" y2="1625.14" stroke="#6a9cd3" stroke-width="2"/>
<circle cx="276.1" cy="1575.6" r="8.3" fill="#6a9cd3"/>
<circle cx="276.1" cy="1606.18" r="8.3" fill="#6a9cd3"/>
<circle cx="276.1" cy="1609.2" r="8.3" fill="#6a9cd3"/>
<circle cx="276.1" cy="1626" r="8.3" fill="#6a9cd3"/>
<line x1="301.7" y1="1556.21" x2="301.7" y2="1577.75" stroke="#b94145" stroke-width="2"/>
<line x1="295.7" y1="1556.21" x2="307.7" y2="1556.21" stroke="#b94145" stroke-width="2"/>
<line x1="295.7" y1="1577.75" x2="307.7" y2="1577.75" stroke="#b94145" stroke-width="2"/>
<circle cx="301.7" cy="1546.3" r="8.3" fill="#b94145"/>
<circle cx="301.7" cy="1571.72" r="8.3" fill="#b94145"/>
<circle cx="301.7" cy="1578.61" r="8.3" fill="#b94145"/>
<line x1="421.2" y1="1707" x2="421.2" y2="1716.8" stroke="#000000" stroke-width="1.6"/>
<text transform="translate(421.2 1749) scale(0.96 1)" text-anchor="middle">w2</text>
<rect x="336.9" y="1579.9" width="15.4" height="127.1" fill="#ecda96" stroke="#d9b633" stroke-width="2.2"/>
<rect x="362.2" y="1637.2" width="15.4" height="69.8" fill="#ecda96" stroke="#d9b633" stroke-width="2.2"/>
<rect x="387.8" y="1603.6" width="15.4" height="103.4" fill="#aec8b1" stroke="#3d7a53" stroke-width="2.2"/>
<rect x="413.5" y="1604.89" width="15.4" height="102.11" fill="#aec8b1" stroke="#3d7a53" stroke-width="2.2"/>
<rect x="438.9" y="1575.6" width="15.4" height="131.4" fill="#b6cce7" stroke="#6a9cd3" stroke-width="2.2"/>
<rect x="464.3" y="1570" width="15.4" height="137" fill="#b6cce7" stroke="#6a9cd3" stroke-width="2.2"/>
<rect x="489.9" y="1503.22" width="15.4" height="203.78" fill="#dc999b" stroke="#b94145" stroke-width="2.2"/>
<line x1="344.6" y1="1557.5" x2="344.6" y2="1599.29" stroke="#d9b633" stroke-width="2"/>
<line x1="338.6" y1="1557.5" x2="350.6" y2="1557.5" stroke="#d9b633" stroke-width="2"/>
<line x1="338.6" y1="1599.29" x2="350.6" y2="1599.29" stroke="#d9b633" stroke-width="2"/>
<circle cx="344.6" cy="1551.04" r="7.15" fill="none" stroke="#d9b633" stroke-width="2.3"/>
<circle cx="344.6" cy="1575.6" r="7.15" fill="none" stroke="#d9b633" stroke-width="2.3"/>
<circle cx="344.6" cy="1579.9" r="7.15" fill="none" stroke="#d9b633" stroke-width="2.3"/>
<circle cx="344.6" cy="1604.89" r="7.15" fill="none" stroke="#d9b633" stroke-width="2.3"/>
<line x1="369.9" y1="1620.83" x2="369.9" y2="1655.3" stroke="#d9b633" stroke-width="2"/>
<line x1="363.9" y1="1620.83" x2="375.9" y2="1620.83" stroke="#d9b633" stroke-width="2"/>
<line x1="363.9" y1="1655.3" x2="375.9" y2="1655.3" stroke="#d9b633" stroke-width="2"/>
<circle cx="369.9" cy="1613.51" r="8.3" fill="#d9b633"/>
<circle cx="369.9" cy="1630.31" r="8.3" fill="#d9b633"/>
<circle cx="369.9" cy="1638.5" r="8.3" fill="#d9b633"/>
<circle cx="369.9" cy="1665.21" r="8.3" fill="#d9b633"/>
<line x1="395.5" y1="1598.43" x2="395.5" y2="1607.91" stroke="#3d7a53" stroke-width="2"/>
<line x1="389.5" y1="1598.43" x2="401.5" y2="1598.43" stroke="#3d7a53" stroke-width="2"/>
<line x1="389.5" y1="1607.91" x2="401.5" y2="1607.91" stroke="#3d7a53" stroke-width="2"/>
<circle cx="395.5" cy="1593.69" r="7.15" fill="none" stroke="#3d7a53" stroke-width="2.3"/>
<circle cx="395.5" cy="1603.6" r="7.15" fill="none" stroke="#3d7a53" stroke-width="2.3"/>
<circle cx="395.5" cy="1605.75" r="7.15" fill="none" stroke="#3d7a53" stroke-width="2.3"/>
<line x1="421.2" y1="1590.67" x2="421.2" y2="1620.83" stroke="#3d7a53" stroke-width="2"/>
<line x1="415.2" y1="1590.67" x2="427.2" y2="1590.67" stroke="#3d7a53" stroke-width="2"/>
<line x1="415.2" y1="1620.83" x2="427.2" y2="1620.83" stroke="#3d7a53" stroke-width="2"/>
<circle cx="421.2" cy="1585.51" r="8.3" fill="#3d7a53"/>
<circle cx="421.2" cy="1604.89" r="8.3" fill="#3d7a53"/>
<circle cx="421.2" cy="1626" r="8.3" fill="#3d7a53"/>
<line x1="446.6" y1="1569.13" x2="446.6" y2="1579.9" stroke="#6a9cd3" stroke-width="2"/>
<line x1="440.6" y1="1569.13" x2="452.6" y2="1569.13" stroke="#6a9cd3" stroke-width="2"/>
<line x1="440.6" y1="1579.9" x2="452.6" y2="1579.9" stroke="#6a9cd3" stroke-width="2"/>
<circle cx="446.6" cy="1563.1" r="7.15" fill="none" stroke="#6a9cd3" stroke-width="2.3"/>
<circle cx="446.6" cy="1571.72" r="7.15" fill="none" stroke="#6a9cd3" stroke-width="2.3"/>
<circle cx="446.6" cy="1575.6" r="7.15" fill="none" stroke="#6a9cd3" stroke-width="2.3"/>
<circle cx="446.6" cy="1579.04" r="7.15" fill="none" stroke="#6a9cd3" stroke-width="2.3"/>
<line x1="472" y1="1551.9" x2="472" y2="1577.75" stroke="#6a9cd3" stroke-width="2"/>
<line x1="466" y1="1551.9" x2="478" y2="1551.9" stroke="#6a9cd3" stroke-width="2"/>
<line x1="466" y1="1577.75" x2="478" y2="1577.75" stroke="#6a9cd3" stroke-width="2"/>
<circle cx="472" cy="1537.25" r="8.3" fill="#6a9cd3"/>
<circle cx="472" cy="1563.1" r="8.3" fill="#6a9cd3"/>
<circle cx="472" cy="1574.3" r="8.3" fill="#6a9cd3"/>
<circle cx="472" cy="1575.6" r="8.3" fill="#6a9cd3"/>
<line x1="497.6" y1="1495.89" x2="497.6" y2="1506.66" stroke="#b94145" stroke-width="2"/>
<line x1="491.6" y1="1495.89" x2="503.6" y2="1495.89" stroke="#b94145" stroke-width="2"/>
<line x1="491.6" y1="1506.66" x2="503.6" y2="1506.66" stroke="#b94145" stroke-width="2"/>
<circle cx="497.6" cy="1490.29" r="8.3" fill="#b94145"/>
<circle cx="497.6" cy="1497.18" r="8.3" fill="#b94145"/>
<circle cx="497.6" cy="1505.8" r="8.3" fill="#b94145"/>
<line x1="617" y1="1707" x2="617" y2="1716.8" stroke="#000000" stroke-width="1.6"/>
<text transform="translate(617 1749) scale(0.96 1)" text-anchor="middle">w3</text>
<rect x="532.7" y="1662.19" width="15.4" height="44.81" fill="#ecda96" stroke="#d9b633" stroke-width="2.2"/>
<rect x="558" y="1634.19" width="15.4" height="72.81" fill="#ecda96" stroke="#d9b633" stroke-width="2.2"/>
<rect x="609.3" y="1631.6" width="15.4" height="75.4" fill="#aec8b1" stroke="#3d7a53" stroke-width="2.2"/>
<rect x="634.7" y="1543.28" width="15.4" height="163.72" fill="#b6cce7" stroke="#6a9cd3" stroke-width="2.2"/>
<rect x="660.1" y="1561.38" width="15.4" height="145.62" fill="#b6cce7" stroke="#6a9cd3" stroke-width="2.2"/>
<rect x="685.7" y="1535.96" width="15.4" height="171.04" fill="#dc999b" stroke="#b94145" stroke-width="2.2"/>
<line x1="540.4" y1="1642.38" x2="540.4" y2="1663.92" stroke="#d9b633" stroke-width="2"/>
<line x1="534.4" y1="1642.38" x2="546.4" y2="1642.38" stroke="#d9b633" stroke-width="2"/>
<line x1="534.4" y1="1663.92" x2="546.4" y2="1663.92" stroke="#d9b633" stroke-width="2"/>
<circle cx="540.4" cy="1638.5" r="7.15" fill="none" stroke="#d9b633" stroke-width="2.3"/>
<circle cx="540.4" cy="1650.99" r="7.15" fill="none" stroke="#d9b633" stroke-width="2.3"/>
<circle cx="540.4" cy="1663.92" r="7.15" fill="none" stroke="#d9b633" stroke-width="2.3"/>
<line x1="565.7" y1="1606.62" x2="565.7" y2="1650.99" stroke="#d9b633" stroke-width="2"/>
<line x1="559.7" y1="1606.62" x2="571.7" y2="1606.62" stroke="#d9b633" stroke-width="2"/>
<line x1="559.7" y1="1650.99" x2="571.7" y2="1650.99" stroke="#d9b633" stroke-width="2"/>
<circle cx="565.7" cy="1592.4" r="8.3" fill="#d9b633"/>
<circle cx="565.7" cy="1606.62" r="8.3" fill="#d9b633"/>
<circle cx="565.7" cy="1634.19" r="8.3" fill="#d9b633"/>
<circle cx="565.7" cy="1650.99" r="8.3" fill="#d9b633"/>
<circle cx="565.7" cy="1663.92" r="8.3" fill="#d9b633"/>
<line x1="617" y1="1620.83" x2="617" y2="1638.07" stroke="#3d7a53" stroke-width="2"/>
<line x1="611" y1="1620.83" x2="623" y2="1620.83" stroke="#3d7a53" stroke-width="2"/>
<line x1="611" y1="1638.07" x2="623" y2="1638.07" stroke="#3d7a53" stroke-width="2"/>
<circle cx="617" cy="1619.11" r="8.3" fill="#3d7a53"/>
<circle cx="617" cy="1626" r="8.3" fill="#3d7a53"/>
<circle cx="617" cy="1644.53" r="8.3" fill="#3d7a53"/>
<circle cx="642.4" cy="1541.99" r="7.15" fill="none" stroke="#6a9cd3" stroke-width="2.3"/>
<line x1="667.8" y1="1516.57" x2="667.8" y2="1606.62" stroke="#6a9cd3" stroke-width="2"/>
<line x1="661.8" y1="1516.57" x2="673.8" y2="1516.57" stroke="#6a9cd3" stroke-width="2"/>
<line x1="661.8" y1="1606.62" x2="673.8" y2="1606.62" stroke="#6a9cd3" stroke-width="2"/>
<circle cx="667.8" cy="1529.07" r="8.3" fill="#6a9cd3"/>
<circle cx="667.8" cy="1561.38" r="8.3" fill="#6a9cd3"/>
<circle cx="667.8" cy="1625.14" r="8.3" fill="#6a9cd3"/>
<line x1="693.4" y1="1526.05" x2="693.4" y2="1547.59" stroke="#b94145" stroke-width="2"/>
<line x1="687.4" y1="1526.05" x2="699.4" y2="1526.05" stroke="#b94145" stroke-width="2"/>
<line x1="687.4" y1="1547.59" x2="699.4" y2="1547.59" stroke="#b94145" stroke-width="2"/>
<circle cx="693.4" cy="1512.26" r="8.3" fill="#b94145"/>
<circle cx="693.4" cy="1516.57" r="8.3" fill="#b94145"/>
<circle cx="693.4" cy="1523.46" r="8.3" fill="#b94145"/>
<circle cx="693.4" cy="1541.56" r="8.3" fill="#b94145"/>
<circle cx="693.4" cy="1560.09" r="8.3" fill="#b94145"/>
<line x1="812.6" y1="1707" x2="812.6" y2="1716.8" stroke="#000000" stroke-width="1.6"/>
<text transform="translate(812.6 1749) scale(0.96 1)" text-anchor="middle">w4</text>
<rect x="728.3" y="1665.21" width="15.4" height="41.79" fill="#ecda96" stroke="#d9b633" stroke-width="2.2"/>
<rect x="753.6" y="1642.38" width="15.4" height="64.62" fill="#ecda96" stroke="#d9b633" stroke-width="2.2"/>
<rect x="804.9" y="1597.57" width="15.4" height="109.43" fill="#aec8b1" stroke="#3d7a53" stroke-width="2.2"/>
<rect x="830.3" y="1579.04" width="15.4" height="127.96" fill="#b6cce7" stroke="#6a9cd3" stroke-width="2.2"/>
<rect x="855.7" y="1603.6" width="15.4" height="103.4" fill="#b6cce7" stroke="#6a9cd3" stroke-width="2.2"/>
<rect x="881.3" y="1584.21" width="15.4" height="122.79" fill="#dc999b" stroke="#b94145" stroke-width="2.2"/>
<circle cx="736" cy="1664.35" r="7.15" fill="none" stroke="#d9b633" stroke-width="2.3"/>
<line x1="761.3" y1="1606.62" x2="761.3" y2="1672.53" stroke="#d9b633" stroke-width="2"/>
<line x1="755.3" y1="1606.62" x2="767.3" y2="1606.62" stroke="#d9b633" stroke-width="2"/>
<line x1="755.3" y1="1672.53" x2="767.3" y2="1672.53" stroke="#d9b633" stroke-width="2"/>
<circle cx="761.3" cy="1581.2" r="8.3" fill="#d9b633"/>
<circle cx="761.3" cy="1625.14" r="8.3" fill="#d9b633"/>
<circle cx="761.3" cy="1664.35" r="8.3" fill="#d9b633"/>
<circle cx="761.3" cy="1667.79" r="8.3" fill="#d9b633"/>
<line x1="812.6" y1="1526.05" x2="812.6" y2="1664.35" stroke="#3d7a53" stroke-width="2"/>
<line x1="806.6" y1="1526.05" x2="818.6" y2="1526.05" stroke="#3d7a53" stroke-width="2"/>
<line x1="806.6" y1="1664.35" x2="818.6" y2="1664.35" stroke="#3d7a53" stroke-width="2"/>
<circle cx="812.6" cy="1515.71" r="8.3" fill="#3d7a53"/>
<circle cx="812.6" cy="1628.16" r="8.3" fill="#3d7a53"/>
<circle cx="812.6" cy="1641.08" r="8.3" fill="#3d7a53"/>
<circle cx="838" cy="1578.61" r="7.15" fill="none" stroke="#6a9cd3" stroke-width="2.3"/>
<line x1="863.4" y1="1599.29" x2="863.4" y2="1607.91" stroke="#6a9cd3" stroke-width="2"/>
<line x1="857.4" y1="1599.29" x2="869.4" y2="1599.29" stroke="#6a9cd3" stroke-width="2"/>
<line x1="857.4" y1="1607.91" x2="869.4" y2="1607.91" stroke="#6a9cd3" stroke-width="2"/>
<circle cx="863.4" cy="1598.43" r="8.3" fill="#6a9cd3"/>
<circle cx="863.4" cy="1610.92" r="8.3" fill="#6a9cd3"/>
<line x1="889" y1="1569.13" x2="889" y2="1599.29" stroke="#b94145" stroke-width="2"/>
<line x1="883" y1="1569.13" x2="895" y2="1569.13" stroke="#b94145" stroke-width="2"/>
<line x1="883" y1="1599.29" x2="895" y2="1599.29" stroke="#b94145" stroke-width="2"/>
<circle cx="889" cy="1557.5" r="8.3" fill="#b94145"/>
<circle cx="889" cy="1578.61" r="8.3" fill="#b94145"/>
<circle cx="889" cy="1584.21" r="8.3" fill="#b94145"/>
<circle cx="889" cy="1611.79" r="8.3" fill="#b94145"/>
<text transform="translate(226 1429.7) scale(0.96 1)" text-anchor="middle"><tspan font-style="italic">P</tspan> = 0.0016</text>
<line x1="148.1" y1="1435.9" x2="305.2" y2="1435.9" stroke="#000000" stroke-width="1.9"/>
<text transform="translate(238.7 1459.1) scale(0.96 1)" text-anchor="middle"><tspan font-style="italic">P</tspan> = 0.0004</text>
<line x1="173.3" y1="1465.2" x2="305.2" y2="1465.2" stroke="#000000" stroke-width="1.9"/>
<line x1="199" y1="1473.6" x2="305.2" y2="1473.6" stroke="#000000" stroke-width="1.9"/>
<line x1="250.7" y1="1482" x2="305.2" y2="1482" stroke="#000000" stroke-width="1.9"/>
<text transform="translate(265.5 1502.4) scale(0.96 1)" text-anchor="middle"><tspan font-style="italic">P</tspan> = 0.0006</text>
<line x1="227" y1="1507.2" x2="305.2" y2="1507.2" stroke="#000000" stroke-width="1.9"/>
<text transform="translate(290.2 1526.7) scale(0.96 1)" text-anchor="middle"><tspan font-style="italic">P</tspan> = 0.0016</text>
<line x1="275.3" y1="1532.3" x2="305.2" y2="1532.3" stroke="#000000" stroke-width="1.9"/>
<text transform="translate(417.4 1429.7) scale(0.96 1)" text-anchor="middle"><tspan font-style="italic">P</tspan> &lt; 0.0001</text>
<line x1="340.4" y1="1435.3" x2="497.5" y2="1435.3" stroke="#000000" stroke-width="1.9"/>
<line x1="366.1" y1="1444.3" x2="497.5" y2="1444.3" stroke="#000000" stroke-width="1.9"/>
<line x1="392.7" y1="1452.7" x2="497.5" y2="1452.7" stroke="#000000" stroke-width="1.9"/>
<line x1="419.2" y1="1461" x2="497.5" y2="1461" stroke="#000000" stroke-width="1.9"/>
<line x1="443.8" y1="1469.4" x2="497.5" y2="1469.4" stroke="#000000" stroke-width="1.9"/>
<line x1="468.1" y1="1477.8" x2="497.5" y2="1477.8" stroke="#000000" stroke-width="1.9"/>
<text transform="translate(617.1 1430.3) scale(0.96 1)" text-anchor="middle"><tspan font-style="italic">P</tspan> = 0.0174</text>
<line x1="538.7" y1="1433.9" x2="696" y2="1433.9" stroke="#000000" stroke-width="1.9"/>
<text transform="translate(629.5 1459.1) scale(0.96 1)" text-anchor="middle"><tspan font-style="italic">P</tspan> = 0.0116</text>
<line x1="563.8" y1="1463.3" x2="696" y2="1463.3" stroke="#000000" stroke-width="1.9"/>
<text transform="translate(656.5 1487) scale(0.96 1)" text-anchor="middle"><tspan font-style="italic">P</tspan> = 0.0325</text>
<line x1="617" y1="1492.6" x2="696" y2="1492.6" stroke="#000000" stroke-width="1.9"/>
<text x="0" y="0" font-size="31" font-weight="bold" stroke="#000" stroke-width="0.9" transform="translate(1013.5 1415.8) scale(1.22 1)">h</text>
<line x1="1086.6" y1="1449.1" x2="1086.6" y2="1707.6" stroke="#000000" stroke-width="1.6"/>
<line x1="1076.3" y1="1707.6" x2="1861.7" y2="1707.6" stroke="#000000" stroke-width="1.6"/>
<line x1="1076.3" y1="1707.6" x2="1086.6" y2="1707.6" stroke="#000000" stroke-width="1.6"/>
<text transform="translate(1062.6 1716.2) scale(0.96 1)" text-anchor="end">0</text>
<line x1="1076.3" y1="1655.8" x2="1086.6" y2="1655.8" stroke="#000000" stroke-width="1.6"/>
<text transform="translate(1062.6 1664.4) scale(0.96 1)" text-anchor="end">2</text>
<line x1="1076.3" y1="1604" x2="1086.6" y2="1604" stroke="#000000" stroke-width="1.6"/>
<text transform="translate(1062.6 1612.6) scale(0.96 1)" text-anchor="end">4</text>
<line x1="1076.3" y1="1552.2" x2="1086.6" y2="1552.2" stroke="#000000" stroke-width="1.6"/>
<text transform="translate(1062.6 1560.8) scale(0.96 1)" text-anchor="end">6</text>
<line x1="1076.3" y1="1500.4" x2="1086.6" y2="1500.4" stroke="#000000" stroke-width="1.6"/>
<text transform="translate(1062.6 1509) scale(0.96 1)" text-anchor="end">8</text>
<line x1="1076.3" y1="1461.3" x2="1086.6" y2="1461.3" stroke="#000000" stroke-width="1.6"/>
<text transform="translate(1062.6 1469.9) scale(0.96 1)" text-anchor="end">10</text>
<text transform="translate(1016 1579) rotate(-90) scale(0.96 1)" text-anchor="middle">N/SCM CAR T cells (%)</text>
<line x1="1275.7" y1="1707.6" x2="1275.7" y2="1716" stroke="#000000" stroke-width="1.6"/>
<text transform="translate(1275.7 1753.3) scale(0.96 1)" text-anchor="middle">CD4<tspan dy="-13" font-size="16.88">+</tspan></text>
<line x1="1672.5" y1="1707.6" x2="1672.5" y2="1716" stroke="#000000" stroke-width="1.6"/>
<text transform="translate(1672.5 1753.3) scale(0.96 1)" text-anchor="middle">CD8<tspan dy="-13" font-size="16.88">+</tspan></text>
<rect x="1312.05" y="1648.81" width="31.3" height="58.79" fill="#b6cce7" stroke="#6a9cd3" stroke-width="2.3"/>
<rect x="1364.05" y="1658.65" width="31.3" height="48.95" fill="#b6cce7" stroke="#6a9cd3" stroke-width="2.3"/>
<rect x="1415.35" y="1694.65" width="31.3" height="12.95" fill="#dc999b" stroke="#b94145" stroke-width="2.3"/>
<circle cx="1111.3" cy="1707.6" r="6.85" fill="none" stroke="#d9b633" stroke-width="2.3"/>
<circle cx="1117.3" cy="1707.6" r="6.85" fill="none" stroke="#d9b633" stroke-width="2.3"/>
<circle cx="1123.3" cy="1707.6" r="6.85" fill="none" stroke="#d9b633" stroke-width="2.3"/>
<circle cx="1129.3" cy="1707.6" r="6.85" fill="none" stroke="#d9b633" stroke-width="2.3"/>
<circle cx="1165.3" cy="1707.6" r="8" fill="#d9b633"/>
<circle cx="1168.8" cy="1707.6" r="8" fill="#d9b633"/>
<circle cx="1172.3" cy="1707.6" r="8" fill="#d9b633"/>
<circle cx="1175.8" cy="1707.6" r="8" fill="#d9b633"/>
<circle cx="1179.3" cy="1707.6" r="8" fill="#d9b633"/>
<circle cx="1214.5" cy="1707.6" r="6.85" fill="none" stroke="#3d7a53" stroke-width="2.3"/>
<circle cx="1224" cy="1707.6" r="6.85" fill="none" stroke="#3d7a53" stroke-width="2.3"/>
<circle cx="1233" cy="1707.6" r="6.85" fill="none" stroke="#3d7a53" stroke-width="2.3"/>
<circle cx="1268.7" cy="1707.6" r="8" fill="#3d7a53"/>
<circle cx="1272.2" cy="1707.6" r="8" fill="#3d7a53"/>
<circle cx="1275.7" cy="1707.6" r="8" fill="#3d7a53"/>
<circle cx="1279.2" cy="1707.6" r="8" fill="#3d7a53"/>
<circle cx="1282.7" cy="1707.6" r="8" fill="#3d7a53"/>
<line x1="1327.7" y1="1600.12" x2="1327.7" y2="1694.65" stroke="#6a9cd3" stroke-width="2.2"/>
<line x1="1318.2" y1="1600.12" x2="1337.2" y2="1600.12" stroke="#6a9cd3" stroke-width="2.2"/>
<line x1="1318.2" y1="1694.65" x2="1337.2" y2="1694.65" stroke="#6a9cd3" stroke-width="2.2"/>
<circle cx="1327.7" cy="1508.17" r="6.85" fill="none" stroke="#6a9cd3" stroke-width="2.3"/>
<circle cx="1327.7" cy="1666.16" r="6.85" fill="none" stroke="#6a9cd3" stroke-width="2.3"/>
<circle cx="1318.7" cy="1707.6" r="6.85" fill="none" stroke="#6a9cd3" stroke-width="2.3"/>
<circle cx="1336.3" cy="1707.6" r="6.85" fill="none" stroke="#6a9cd3" stroke-width="2.3"/>
<line x1="1379.7" y1="1625.5" x2="1379.7" y2="1689.47" stroke="#6a9cd3" stroke-width="2.2"/>
<line x1="1370.2" y1="1625.5" x2="1389.2" y2="1625.5" stroke="#6a9cd3" stroke-width="2.2"/>
<line x1="1370.2" y1="1689.47" x2="1389.2" y2="1689.47" stroke="#6a9cd3" stroke-width="2.2"/>
<circle cx="1379.7" cy="1566.44" r="8" fill="#6a9cd3"/>
<circle cx="1379.7" cy="1664.87" r="8" fill="#6a9cd3"/>
<circle cx="1379.7" cy="1689.47" r="8" fill="#6a9cd3"/>
<circle cx="1379.7" cy="1707.6" r="8" fill="#6a9cd3"/>
<line x1="1431" y1="1681.7" x2="1431" y2="1705.01" stroke="#b94145" stroke-width="2.2"/>
<line x1="1421.5" y1="1681.7" x2="1440.5" y2="1681.7" stroke="#b94145" stroke-width="2.2"/>
<line x1="1421.5" y1="1705.01" x2="1440.5" y2="1705.01" stroke="#b94145" stroke-width="2.2"/>
<circle cx="1431" cy="1671.34" r="8" fill="#b94145"/>
<circle cx="1421" cy="1693.36" r="8" fill="#b94145"/>
<circle cx="1441" cy="1693.36" r="8" fill="#b94145"/>
<circle cx="1431" cy="1692.06" r="8" fill="#b94145"/>
<rect x="1604.95" y="1703.2" width="31.3" height="4.4" fill="#aec8b1" stroke="#3d7a53" stroke-width="2.3"/>
<rect x="1708.35" y="1597.27" width="31.3" height="110.33" fill="#b6cce7" stroke="#6a9cd3" stroke-width="2.3"/>
<rect x="1760.15" y="1566.44" width="31.3" height="141.15" fill="#b6cce7" stroke="#6a9cd3" stroke-width="2.3"/>
<rect x="1811.65" y="1581.73" width="31.3" height="125.87" fill="#dc999b" stroke="#b94145" stroke-width="2.3"/>
<circle cx="1508.3" cy="1707.6" r="6.85" fill="none" stroke="#d9b633" stroke-width="2.3"/>
<circle cx="1513.7" cy="1697.76" r="6.85" fill="none" stroke="#d9b633" stroke-width="2.3"/>
<circle cx="1522.6" cy="1707.6" r="6.85" fill="none" stroke="#d9b633" stroke-width="2.3"/>
<circle cx="1526.2" cy="1707.6" r="6.85" fill="none" stroke="#d9b633" stroke-width="2.3"/>
<circle cx="1559.8" cy="1707.6" r="8" fill="#d9b633"/>
<circle cx="1564.3" cy="1707.6" r="8" fill="#d9b633"/>
<circle cx="1568.8" cy="1707.6" r="8" fill="#d9b633"/>
<circle cx="1573.3" cy="1707.6" r="8" fill="#d9b633"/>
<circle cx="1577.8" cy="1707.6" r="8" fill="#d9b633"/>
<line x1="1620.6" y1="1691.8" x2="1620.6" y2="1707.6" stroke="#3d7a53" stroke-width="2.2"/>
<line x1="1611.1" y1="1691.8" x2="1630.1" y2="1691.8" stroke="#3d7a53" stroke-width="2.2"/>
<line x1="1611.1" y1="1707.6" x2="1630.1" y2="1707.6" stroke="#3d7a53" stroke-width="2.2"/>
<circle cx="1611.4" cy="1707.6" r="6.85" fill="none" stroke="#3d7a53" stroke-width="2.3"/>
<circle cx="1620.6" cy="1683.51" r="6.85" fill="none" stroke="#3d7a53" stroke-width="2.3"/>
<circle cx="1629.1" cy="1707.6" r="6.85" fill="none" stroke="#3d7a53" stroke-width="2.3"/>
<circle cx="1663.5" cy="1707.6" r="8" fill="#3d7a53"/>
<circle cx="1668" cy="1707.6" r="8" fill="#3d7a53"/>
<circle cx="1672.5" cy="1707.6" r="8" fill="#3d7a53"/>
<circle cx="1677" cy="1707.6" r="8" fill="#3d7a53"/>
<circle cx="1681.5" cy="1707.6" r="8" fill="#3d7a53"/>
<line x1="1724" y1="1582.24" x2="1724" y2="1608.92" stroke="#6a9cd3" stroke-width="2.2"/>
<line x1="1714.5" y1="1582.24" x2="1733.5" y2="1582.24" stroke="#6a9cd3" stroke-width="2.2"/>
<line x1="1714.5" y1="1608.92" x2="1733.5" y2="1608.92" stroke="#6a9cd3" stroke-width="2.2"/>
<circle cx="1733.9" cy="1570.33" r="6.85" fill="none" stroke="#6a9cd3" stroke-width="2.3"/>
<circle cx="1714.4" cy="1582.24" r="6.85" fill="none" stroke="#6a9cd3" stroke-width="2.3"/>
<circle cx="1733.9" cy="1595.97" r="6.85" fill="none" stroke="#6a9cd3" stroke-width="2.3"/>
<circle cx="1724" cy="1632.75" r="6.85" fill="none" stroke="#6a9cd3" stroke-width="2.3"/>
<line x1="1775.8" y1="1550.39" x2="1775.8" y2="1578.88" stroke="#6a9cd3" stroke-width="2.2"/>
<line x1="1766.3" y1="1550.39" x2="1785.3" y2="1550.39" stroke="#6a9cd3" stroke-width="2.2"/>
<line x1="1766.3" y1="1578.88" x2="1785.3" y2="1578.88" stroke="#6a9cd3" stroke-width="2.2"/>
<circle cx="1766.2" cy="1542.62" r="8" fill="#6a9cd3"/>
<circle cx="1784.7" cy="1551.16" r="8" fill="#6a9cd3"/>
<circle cx="1775.5" cy="1556.86" r="8" fill="#6a9cd3"/>
<circle cx="1775.8" cy="1607.37" r="8" fill="#6a9cd3"/>
<line x1="1827.3" y1="1563.6" x2="1827.3" y2="1595.97" stroke="#b94145" stroke-width="2.2"/>
<line x1="1817.8" y1="1563.6" x2="1836.8" y2="1563.6" stroke="#b94145" stroke-width="2.2"/>
<line x1="1817.8" y1="1595.97" x2="1836.8" y2="1595.97" stroke="#b94145" stroke-width="2.2"/>
<circle cx="1818" cy="1553.49" r="8" fill="#b94145"/>
<circle cx="1836.9" cy="1550.39" r="8" fill="#b94145"/>
<circle cx="1836.9" cy="1600.89" r="8" fill="#b94145"/>
<circle cx="1818" cy="1613.58" r="8" fill="#b94145"/>
<text transform="translate(1672.3 1475.9) scale(0.96 1)" text-anchor="middle"><tspan font-style="italic">P</tspan> &lt; 0.0001</text>
<line x1="1520.1" y1="1483.7" x2="1827" y2="1483.7" stroke="#000000" stroke-width="1.9"/>
<line x1="1569.8" y1="1492.2" x2="1827" y2="1492.2" stroke="#000000" stroke-width="1.9"/>
<line x1="1628.4" y1="1500.4" x2="1827" y2="1500.4" stroke="#000000" stroke-width="1.9"/>
<line x1="1682.4" y1="1508.9" x2="1827" y2="1508.9" stroke="#000000" stroke-width="1.9"/>
<circle cx="1910.8" cy="1462.4" r="6.9" fill="none" stroke="#d9b633" stroke-width="2.2"/>
<text transform="translate(1932.8 1470.2) scale(0.96 1)"><tspan font-style="italic">TRAC</tspan>, 200,000</text>
<circle cx="1910.8" cy="1498.57" r="8" fill="#d9b633"/>
<text transform="translate(1932.8 1506.37) scale(0.96 1)"><tspan font-style="italic">TRAC</tspan>, 500,000</text>
<circle cx="1910.8" cy="1534.74" r="6.9" fill="none" stroke="#3d7a53" stroke-width="2.2"/>
<text transform="translate(1932.8 1542.54) scale(0.96 1)">LVV, 200,000</text>
<circle cx="1910.8" cy="1570.91" r="8" fill="#3d7a53"/>
<text transform="translate(1932.8 1578.71) scale(0.96 1)">LVV, 500,000</text>
<circle cx="1910.8" cy="1607.08" r="6.9" fill="none" stroke="#6a9cd3" stroke-width="2.2"/>
<text transform="translate(1932.8 1614.88) scale(0.96 1)">LVV<tspan dy="-13" font-size="16.88">low</tspan></text>
<circle cx="1910.8" cy="1643.25" r="8" fill="#6a9cd3"/>
<text transform="translate(1932.8 1651.05) scale(0.96 1)">LVV<tspan dy="-13" font-size="16.88">high</tspan></text>
<circle cx="1910.8" cy="1679.42" r="8" fill="#b94145"/>
<text transform="translate(1932.8 1687.22) scale(0.96 1)">EDV/AAV</text>
<text x="0" y="0" font-size="31" font-weight="bold" stroke="#000" stroke-width="0.9" transform="translate(-0.2 1798) scale(1.22 1)">i</text>
<line x1="128.3" y1="1822.7" x2="128.3" y2="2082.1" stroke="#000000" stroke-width="1.6"/>
<line x1="118.6" y1="2082.1" x2="904.7" y2="2082.1" stroke="#000000" stroke-width="1.6"/>
<line x1="118.6" y1="2082.1" x2="128.3" y2="2082.1" stroke="#000000" stroke-width="1.6"/>
<text transform="translate(106.8 2090.4) scale(0.96 1)" text-anchor="end">10<tspan dy="-13" font-size="16.88">2</tspan></text>
<line x1="118.6" y1="1995.97" x2="128.3" y2="1995.97" stroke="#000000" stroke-width="1.6"/>
<text transform="translate(106.8 2004.27) scale(0.96 1)" text-anchor="end">10<tspan dy="-13" font-size="16.88">3</tspan></text>
<line x1="118.6" y1="1909.83" x2="128.3" y2="1909.83" stroke="#000000" stroke-width="1.6"/>
<text transform="translate(106.8 1918.13) scale(0.96 1)" text-anchor="end">10<tspan dy="-13" font-size="16.88">4</tspan></text>
<line x1="118.6" y1="1823.7" x2="128.3" y2="1823.7" stroke="#000000" stroke-width="1.6"/>
<text transform="translate(106.8 1832) scale(0.96 1)" text-anchor="end">10<tspan dy="-13" font-size="16.88">5</tspan></text>
<text transform="translate(45.5 1952) rotate(-90) scale(0.96 1)" text-anchor="middle">CAR expression (MFI)</text>
<line x1="317.7" y1="2082.1" x2="317.7" y2="2092.4" stroke="#000000" stroke-width="1.6"/>
<text transform="translate(318.2 2126.6) scale(0.96 1)" text-anchor="middle">CD4<tspan dy="-13" font-size="16.88">+</tspan></text>
<line x1="714.9" y1="2082.1" x2="714.9" y2="2092.4" stroke="#000000" stroke-width="1.6"/>
<text transform="translate(715.4 2126.6) scale(0.96 1)" text-anchor="middle">CD8<tspan dy="-13" font-size="16.88">+</tspan></text>
<rect x="147.55" y="1884.85" width="31.7" height="197.25" fill="#ecda96" stroke="#d9b633" stroke-width="2.3"/>
<rect x="199.05" y="1907.25" width="31.7" height="174.85" fill="#ecda96" stroke="#d9b633" stroke-width="2.3"/>
<rect x="250.65" y="1905.53" width="31.7" height="176.57" fill="#dc999b" stroke="#b94145" stroke-width="2.3"/>
<rect x="302.45" y="1944.29" width="31.7" height="137.81" fill="#aec8b1" stroke="#3d7a53" stroke-width="2.3"/>
<rect x="354.35" y="1940.84" width="31.7" height="141.26" fill="#aec8b1" stroke="#3d7a53" stroke-width="2.3"/>
<rect x="405.55" y="1976.16" width="31.7" height="105.94" fill="#b6cce7" stroke="#6a9cd3" stroke-width="2.3"/>
<rect x="457.15" y="1976.16" width="31.7" height="105.94" fill="#b6cce7" stroke="#6a9cd3" stroke-width="2.3"/>
<line x1="163.4" y1="1872.8" x2="163.4" y2="1892.61" stroke="#d9b633" stroke-width="2.2"/>
<line x1="153.4" y1="1872.8" x2="173.4" y2="1872.8" stroke="#d9b633" stroke-width="2.2"/>
<line x1="153.4" y1="1892.61" x2="173.4" y2="1892.61" stroke="#d9b633" stroke-width="2.2"/>
<circle cx="154.7" cy="1888.3" r="6.85" fill="none" stroke="#d9b633" stroke-width="2.3"/>
<circle cx="163.4" cy="1866.77" r="6.85" fill="none" stroke="#d9b633" stroke-width="2.3"/>
<circle cx="163.9" cy="1883.13" r="6.85" fill="none" stroke="#d9b633" stroke-width="2.3"/>
<circle cx="172.4" cy="1884.85" r="6.85" fill="none" stroke="#d9b633" stroke-width="2.3"/>
<circle cx="173.4" cy="1886.58" r="6.85" fill="none" stroke="#d9b633" stroke-width="2.3"/>
<line x1="214.9" y1="1897.77" x2="214.9" y2="1916.72" stroke="#d9b633" stroke-width="2.2"/>
<line x1="204.9" y1="1897.77" x2="224.9" y2="1897.77" stroke="#d9b633" stroke-width="2.2"/>
<line x1="204.9" y1="1916.72" x2="224.9" y2="1916.72" stroke="#d9b633" stroke-width="2.2"/>
<circle cx="205.2" cy="1897.77" r="8" fill="#d9b633"/>
<circle cx="224.2" cy="1907.25" r="8" fill="#d9b633"/>
<circle cx="205.2" cy="1916.72" r="8" fill="#d9b633"/>
<circle cx="257.8" cy="1905.53" r="8" fill="#b94145"/>
<circle cx="265.5" cy="1904.67" r="8" fill="#b94145"/>
<circle cx="276.4" cy="1905.1" r="8" fill="#b94145"/>
<line x1="318.3" y1="1937.4" x2="318.3" y2="1952.9" stroke="#3d7a53" stroke-width="2.2"/>
<line x1="308.3" y1="1937.4" x2="328.3" y2="1937.4" stroke="#3d7a53" stroke-width="2.2"/>
<line x1="308.3" y1="1952.9" x2="328.3" y2="1952.9" stroke="#3d7a53" stroke-width="2.2"/>
<circle cx="309" cy="1934.81" r="6.85" fill="none" stroke="#3d7a53" stroke-width="2.3"/>
<circle cx="327.6" cy="1939.98" r="6.85" fill="none" stroke="#3d7a53" stroke-width="2.3"/>
<circle cx="308.4" cy="1952.9" r="6.85" fill="none" stroke="#3d7a53" stroke-width="2.3"/>
<line x1="370.2" y1="1921.89" x2="370.2" y2="1944.29" stroke="#3d7a53" stroke-width="2.2"/>
<line x1="360.2" y1="1921.89" x2="380.2" y2="1921.89" stroke="#3d7a53" stroke-width="2.2"/>
<line x1="360.2" y1="1944.29" x2="380.2" y2="1944.29" stroke="#3d7a53" stroke-width="2.2"/>
<circle cx="369.6" cy="1917.59" r="8" fill="#3d7a53"/>
<circle cx="360.2" cy="1942.56" r="8" fill="#3d7a53"/>
<circle cx="380.4" cy="1940.84" r="8" fill="#3d7a53"/>
<circle cx="370.2" cy="1939.12" r="8" fill="#3d7a53"/>
<line x1="421.4" y1="1971.85" x2="421.4" y2="1978.74" stroke="#6a9cd3" stroke-width="2.2"/>
<line x1="411.4" y1="1971.85" x2="431.4" y2="1971.85" stroke="#6a9cd3" stroke-width="2.2"/>
<line x1="411.4" y1="1978.74" x2="431.4" y2="1978.74" stroke="#6a9cd3" stroke-width="2.2"/>
<circle cx="413" cy="1968.4" r="6.85" fill="none" stroke="#6a9cd3" stroke-width="2.3"/>
<circle cx="413" cy="1983.05" r="6.85" fill="none" stroke="#6a9cd3" stroke-width="2.3"/>
<circle cx="430" cy="1975.29" r="6.85" fill="none" stroke="#6a9cd3" stroke-width="2.3"/>
<circle cx="421.4" cy="1975.29" r="6.85" fill="none" stroke="#6a9cd3" stroke-width="2.3"/>
<line x1="473" y1="1965.82" x2="473" y2="1983.05" stroke="#6a9cd3" stroke-width="2.2"/>
<line x1="463" y1="1965.82" x2="483" y2="1965.82" stroke="#6a9cd3" stroke-width="2.2"/>
<line x1="463" y1="1983.05" x2="483" y2="1983.05" stroke="#6a9cd3" stroke-width="2.2"/>
<circle cx="463.7" cy="1961.51" r="8" fill="#6a9cd3"/>
<circle cx="463.7" cy="1983.05" r="8" fill="#6a9cd3"/>
<circle cx="482.3" cy="1976.16" r="8" fill="#6a9cd3"/>
<circle cx="473.5" cy="1977.02" r="8" fill="#6a9cd3"/>
<rect x="543.95" y="1889.16" width="31.7" height="192.94" fill="#ecda96" stroke="#d9b633" stroke-width="2.3"/>
<rect x="595.35" y="1895.19" width="31.7" height="186.91" fill="#ecda96" stroke="#d9b633" stroke-width="2.3"/>
<rect x="647.15" y="1902.08" width="31.7" height="180.02" fill="#dc999b" stroke="#b94145" stroke-width="2.3"/>
<rect x="698.65" y="1931.37" width="31.7" height="150.73" fill="#aec8b1" stroke="#3d7a53" stroke-width="2.3"/>
<rect x="750.45" y="1941.7" width="31.7" height="140.4" fill="#aec8b1" stroke="#3d7a53" stroke-width="2.3"/>
<rect x="802.25" y="1943.43" width="31.7" height="138.67" fill="#b6cce7" stroke="#6a9cd3" stroke-width="2.3"/>
<rect x="853.75" y="1945.15" width="31.7" height="136.95" fill="#b6cce7" stroke="#6a9cd3" stroke-width="2.3"/>
<circle cx="550.7" cy="1888.3" r="6.85" fill="none" stroke="#d9b633" stroke-width="2.3"/>
<circle cx="558" cy="1886.58" r="6.85" fill="none" stroke="#d9b633" stroke-width="2.3"/>
<circle cx="567" cy="1886.58" r="6.85" fill="none" stroke="#d9b633" stroke-width="2.3"/>
<circle cx="552.5" cy="1889.16" r="6.85" fill="none" stroke="#d9b633" stroke-width="2.3"/>
<circle cx="568.8" cy="1884.85" r="6.85" fill="none" stroke="#d9b633" stroke-width="2.3"/>
<circle cx="602.5" cy="1883.99" r="8" fill="#d9b633"/>
<circle cx="602.5" cy="1902.94" r="8" fill="#d9b633"/>
<circle cx="619.6" cy="1893.47" r="8" fill="#d9b633"/>
<circle cx="611.2" cy="1893.47" r="8" fill="#d9b633"/>
<circle cx="654" cy="1902.94" r="8" fill="#b94145"/>
<circle cx="663" cy="1901.22" r="8" fill="#b94145"/>
<circle cx="673.2" cy="1902.94" r="8" fill="#b94145"/>
<circle cx="705.4" cy="1931.37" r="6.85" fill="none" stroke="#3d7a53" stroke-width="2.3"/>
<circle cx="714.5" cy="1927.92" r="6.85" fill="none" stroke="#3d7a53" stroke-width="2.3"/>
<circle cx="724.6" cy="1930.51" r="6.85" fill="none" stroke="#3d7a53" stroke-width="2.3"/>
<line x1="766.3" y1="1924.48" x2="766.3" y2="1944.29" stroke="#3d7a53" stroke-width="2.2"/>
<line x1="756.3" y1="1924.48" x2="776.3" y2="1924.48" stroke="#3d7a53" stroke-width="2.2"/>
<line x1="756.3" y1="1944.29" x2="776.3" y2="1944.29" stroke="#3d7a53" stroke-width="2.2"/>
<circle cx="766.3" cy="1919.31" r="8" fill="#3d7a53"/>
<circle cx="757.2" cy="1941.7" r="8" fill="#3d7a53"/>
<circle cx="775.4" cy="1940.84" r="8" fill="#3d7a53"/>
<circle cx="766.3" cy="1942.56" r="8" fill="#3d7a53"/>
<circle cx="808" cy="1946.01" r="6.85" fill="none" stroke="#6a9cd3" stroke-width="2.3"/>
<circle cx="815.2" cy="1936.53" r="6.85" fill="none" stroke="#6a9cd3" stroke-width="2.3"/>
<circle cx="827.9" cy="1939.98" r="6.85" fill="none" stroke="#6a9cd3" stroke-width="2.3"/>
<circle cx="818.1" cy="1941.7" r="6.85" fill="none" stroke="#6a9cd3" stroke-width="2.3"/>
<circle cx="860.5" cy="1945.15" r="8" fill="#6a9cd3"/>
<circle cx="867.8" cy="1939.12" r="8" fill="#6a9cd3"/>
<circle cx="879.7" cy="1940.84" r="8" fill="#6a9cd3"/>
<circle cx="871.6" cy="1943.43" r="8" fill="#6a9cd3"/>
<text transform="translate(216.6 1841.4) scale(0.96 1)" text-anchor="middle" font-style="italic">TRAC</text>
<line x1="151.2" y1="1852.9" x2="280.4" y2="1852.9" stroke="#000000" stroke-width="1.7"/>
<text transform="translate(598.2 1853.3) scale(0.96 1)" text-anchor="middle" font-style="italic">TRAC</text>
<line x1="534.4" y1="1865.3" x2="663" y2="1865.3" stroke="#000000" stroke-width="1.7"/>
<circle cx="950" cy="1836.3" r="6.9" fill="none" stroke="#d9b633" stroke-width="2.2"/>
<text transform="translate(971.7 1844.3) scale(0.96 1)"><tspan font-style="italic">TRAC</tspan>, 200,000</text>
<circle cx="950" cy="1872.53" r="8" fill="#d9b633"/>
<text transform="translate(971.7 1880.53) scale(0.96 1)"><tspan font-style="italic">TRAC</tspan>, 500,000</text>
<circle cx="950" cy="1908.76" r="6.9" fill="none" stroke="#3d7a53" stroke-width="2.2"/>
<text transform="translate(971.7 1916.76) scale(0.96 1)">LVV, 200,000</text>
<circle cx="950" cy="1944.99" r="8" fill="#3d7a53"/>
<text transform="translate(971.7 1952.99) scale(0.96 1)">LVV, 500,000</text>
<circle cx="950" cy="1981.22" r="6.9" fill="none" stroke="#6a9cd3" stroke-width="2.2"/>
<text transform="translate(971.7 1989.22) scale(0.96 1)">LVV<tspan dy="-13" font-size="16.88">low</tspan></text>
<circle cx="950" cy="2017.45" r="8" fill="#6a9cd3"/>
<text transform="translate(971.7 2025.45) scale(0.96 1)">LVV<tspan dy="-13" font-size="16.88">high</tspan></text>
<circle cx="950" cy="2053.68" r="8" fill="#b94145"/>
<text transform="translate(971.7 2061.68) scale(0.96 1)">EDV/AAV</text>
<text x="0" y="0" font-size="31" font-weight="bold" stroke="#000" stroke-width="0.9" transform="translate(1198.5 1798) scale(1.22 1)">j</text>
<path d="M1223.32,1971.79 C1225.98,1971.79 1229.41,1971.79 1234.73,1971.79 C1240.06,1971.79 1240.82,1971.79 1246.14,1971.79 C1251.47,1971.79 1252.23,1971.79 1257.56,1971.79 C1262.88,1971.79 1263.64,1971.79 1268.97,1971.79 C1274.3,1971.79 1275.06,1971.79 1280.38,1971.79 C1285.71,1971.79 1284.57,1972.18 1291.79,1971.79 C1299.02,1971.4 1304.51,1971.02 1311.36,1970.11 C1318.21,1969.2 1317.23,1969.57 1321.14,1967.88 C1325.05,1966.18 1325.32,1966.63 1328.13,1962.85 C1330.93,1959.06 1331.07,1958.19 1333.16,1951.67 C1335.25,1945.14 1335.11,1945.98 1337.07,1934.9 C1339.03,1923.81 1339.59,1918.5 1341.54,1904.15 C1343.5,1889.81 1343.83,1887.1 1345.46,1873.41 C1347.09,1859.71 1347.23,1856.55 1348.53,1845.46 C1349.83,1834.37 1349.81,1834.37 1351.05,1825.9 C1352.28,1817.42 1352.8,1813.82 1353.84,1809.13 C1354.88,1804.43 1354.02,1806.43 1355.52,1805.77 C1357.02,1805.12 1358.7,1803.59 1360.27,1806.33 C1361.83,1809.07 1361.05,1810.99 1362.22,1817.51 C1363.4,1824.03 1363.8,1825.15 1365.3,1834.28 C1366.8,1843.41 1367.02,1844.9 1368.65,1856.64 C1370.28,1868.38 1370.66,1872.85 1372.29,1884.59 C1373.92,1896.33 1374.07,1897.17 1375.64,1906.95 C1377.21,1916.73 1377.36,1918.03 1378.99,1926.51 C1380.62,1934.99 1380.8,1936.76 1382.63,1943.28 C1384.45,1949.8 1384.54,1950.16 1386.82,1954.46 C1389.1,1958.76 1388.5,1959.77 1392.41,1961.73 C1396.32,1963.68 1398.37,1962.71 1403.59,1962.85 C1408.81,1962.98 1409.55,1962.42 1414.77,1962.29 C1419.99,1962.16 1420.73,1962.16 1425.95,1962.29 C1431.16,1962.42 1432.89,1962.39 1437.13,1962.85 C1441.37,1963.3 1440.85,1963.46 1444.11,1964.24 C1447.37,1965.03 1445.56,1965.74 1451.1,1966.2 C1456.64,1966.66 1462.33,1966.66 1467.87,1966.2 C1473.41,1965.74 1471.6,1965.68 1474.86,1964.24 C1478.12,1962.81 1478.26,1962.01 1481.84,1960.05 C1485.43,1958.09 1486.97,1957.49 1490.23,1955.86 C1493.49,1954.23 1493.21,1955.67 1495.82,1953.06 C1498.43,1950.45 1498.47,1948.92 1501.41,1944.68 C1504.34,1940.44 1505.46,1939.92 1508.4,1934.9 C1511.33,1929.88 1511.05,1927.4 1513.99,1923.16 C1516.92,1918.92 1517.71,1919.99 1520.97,1916.73 C1524.23,1913.47 1525.22,1910.49 1527.96,1909.18 C1530.7,1907.88 1530.1,1908.73 1532.71,1911.14 C1535.32,1913.55 1536.66,1915.29 1539.14,1919.52 C1541.62,1923.76 1541.18,1924.42 1543.33,1929.31 C1545.48,1934.2 1546.08,1935.27 1548.36,1940.49 C1550.64,1945.7 1550.37,1946.58 1553.11,1951.67 C1555.85,1956.75 1556.51,1958.37 1560.1,1962.29 C1563.69,1966.2 1564.57,1966.28 1568.49,1968.43 C1572.4,1970.59 1573.61,1970.73 1576.87,1971.51 C1580.13,1972.29 1578.51,1971.72 1582.46,1971.79 C1586.41,1971.85 1588.5,1971.79 1593.79,1971.79 C1599.08,1971.79 1599.84,1971.79 1605.13,1971.79 C1610.42,1971.79 1611.17,1971.79 1616.46,1971.79 C1621.75,1971.79 1622.51,1971.79 1627.8,1971.79 C1633.09,1971.79 1633.84,1971.79 1639.13,1971.79 C1644.42,1971.79 1645.18,1971.79 1650.47,1971.79 C1655.76,1971.79 1656.51,1971.79 1661.8,1971.79 C1667.09,1971.79 1667.85,1971.79 1673.14,1971.79 C1678.43,1971.79 1681.83,1971.79 1684.47,1971.79 L1684.47,1971.79 L1223.32,1971.79 Z" fill="#e8b9bb"/>
<path d="M1223.32,2055.08 C1225.98,2055.08 1229.41,2055.08 1234.73,2055.08 C1240.06,2055.08 1240.82,2055.08 1246.14,2055.08 C1251.47,2055.08 1252.23,2055.08 1257.56,2055.08 C1262.88,2055.08 1263.64,2055.08 1268.97,2055.08 C1274.3,2055.08 1275.06,2055.08 1280.38,2055.08 C1285.71,2055.08 1286.52,2055.4 1291.79,2055.08 C1297.07,2054.75 1297.76,2054.79 1302.97,2053.68 C1308.19,2052.57 1309.59,2052.28 1314.15,2050.32 C1318.72,2048.37 1319.15,2047.97 1322.54,2045.29 C1325.93,2042.62 1326.21,2042.45 1328.69,2038.87 C1331.16,2035.28 1331.2,2035.92 1333.16,2029.92 C1335.11,2023.92 1335.31,2022.28 1337.07,2013.15 C1338.83,2004.02 1339.01,2001.88 1340.7,1990.79 C1342.4,1979.71 1342.71,1977.38 1344.34,1965.64 C1345.97,1953.9 1345.93,1952.22 1347.69,1940.49 C1349.45,1928.75 1350.06,1924.79 1351.88,1915.33 C1353.71,1905.88 1353.89,1905.37 1355.52,1899.96 C1357.15,1894.55 1357.44,1893.77 1358.87,1892.14 C1360.31,1890.5 1360.36,1890.82 1361.67,1892.97 C1362.97,1895.13 1363.03,1895.49 1364.46,1901.36 C1365.9,1907.23 1366.18,1909 1367.81,1918.13 C1369.44,1927.26 1369.75,1929.4 1371.45,1940.49 C1373.14,1951.57 1373.32,1953.9 1375.08,1965.64 C1376.84,1977.38 1377.04,1980.36 1378.99,1990.79 C1380.95,2001.23 1381.31,2003.18 1383.47,2010.36 C1385.62,2017.53 1385.8,2016.32 1388.22,2021.54 C1390.63,2026.75 1390.22,2029.85 1393.81,2032.72 C1397.39,2035.59 1398.05,2033.7 1403.59,2033.83 C1409.13,2033.96 1411.69,2033.41 1417.56,2033.28 C1423.43,2033.15 1424.18,2033.01 1428.74,2033.28 C1433.31,2033.54 1433.87,2033.74 1437.13,2034.39 C1440.39,2035.05 1440.11,2034.83 1442.72,2036.07 C1445.33,2037.31 1445.37,2037.55 1448.31,2039.7 C1451.24,2041.86 1452.03,2043.01 1455.29,2045.29 C1458.55,2047.58 1457.39,2047.72 1462.28,2049.49 C1467.17,2051.25 1469.73,2051.73 1476.25,2052.84 C1482.78,2053.95 1483.06,2053.72 1490.23,2054.24 C1497.4,2054.76 1500.32,2054.88 1507,2055.08 C1513.67,2055.27 1513.31,2055.08 1518.83,2055.08 C1524.35,2055.08 1525.14,2055.08 1530.66,2055.08 C1536.18,2055.08 1536.97,2055.08 1542.49,2055.08 C1548.01,2055.08 1548.8,2055.08 1554.32,2055.08 C1559.85,2055.08 1560.63,2055.08 1566.16,2055.08 C1571.68,2055.08 1572.47,2055.08 1577.99,2055.08 C1583.51,2055.08 1584.3,2055.08 1589.82,2055.08 C1595.34,2055.08 1596.13,2055.08 1601.65,2055.08 C1607.17,2055.08 1607.96,2055.08 1613.48,2055.08 C1619,2055.08 1619.79,2055.08 1625.31,2055.08 C1630.84,2055.08 1631.62,2055.08 1637.15,2055.08 C1642.67,2055.08 1643.46,2055.08 1648.98,2055.08 C1654.5,2055.08 1655.29,2055.08 1660.81,2055.08 C1666.33,2055.08 1667.12,2055.08 1672.64,2055.08 C1678.16,2055.08 1681.71,2055.08 1684.47,2055.08 L1684.47,2055.63 L1223.32,2055.63 Z" fill="#c3d6ee" fill-opacity="0.62"/>
<path d="M1223.32,1971.79 C1225.98,1971.79 1229.41,1971.79 1234.73,1971.79 C1240.06,1971.79 1240.82,1971.79 1246.14,1971.79 C1251.47,1971.79 1252.23,1971.79 1257.56,1971.79 C1262.88,1971.79 1263.64,1971.79 1268.97,1971.79 C1274.3,1971.79 1275.06,1971.79 1280.38,1971.79 C1285.71,1971.79 1284.57,1972.18 1291.79,1971.79 C1299.02,1971.4 1304.51,1971.02 1311.36,1970.11 C1318.21,1969.2 1317.23,1969.57 1321.14,1967.88 C1325.05,1966.18 1325.32,1966.63 1328.13,1962.85 C1330.93,1959.06 1331.07,1958.19 1333.16,1951.67 C1335.25,1945.14 1335.11,1945.98 1337.07,1934.9 C1339.03,1923.81 1339.59,1918.5 1341.54,1904.15 C1343.5,1889.81 1343.83,1887.1 1345.46,1873.41 C1347.09,1859.71 1347.23,1856.55 1348.53,1845.46 C1349.83,1834.37 1349.81,1834.37 1351.05,1825.9 C1352.28,1817.42 1352.8,1813.82 1353.84,1809.13 C1354.88,1804.43 1354.02,1806.43 1355.52,1805.77 C1357.02,1805.12 1358.7,1803.59 1360.27,1806.33 C1361.83,1809.07 1361.05,1810.99 1362.22,1817.51 C1363.4,1824.03 1363.8,1825.15 1365.3,1834.28 C1366.8,1843.41 1367.02,1844.9 1368.65,1856.64 C1370.28,1868.38 1370.66,1872.85 1372.29,1884.59 C1373.92,1896.33 1374.07,1897.17 1375.64,1906.95 C1377.21,1916.73 1377.36,1918.03 1378.99,1926.51 C1380.62,1934.99 1380.8,1936.76 1382.63,1943.28 C1384.45,1949.8 1384.54,1950.16 1386.82,1954.46 C1389.1,1958.76 1388.5,1959.77 1392.41,1961.73 C1396.32,1963.68 1398.37,1962.71 1403.59,1962.85 C1408.81,1962.98 1409.55,1962.42 1414.77,1962.29 C1419.99,1962.16 1420.73,1962.16 1425.95,1962.29 C1431.16,1962.42 1432.89,1962.39 1437.13,1962.85 C1441.37,1963.3 1440.85,1963.46 1444.11,1964.24 C1447.37,1965.03 1445.56,1965.74 1451.1,1966.2 C1456.64,1966.66 1462.33,1966.66 1467.87,1966.2 C1473.41,1965.74 1471.6,1965.68 1474.86,1964.24 C1478.12,1962.81 1478.26,1962.01 1481.84,1960.05 C1485.43,1958.09 1486.97,1957.49 1490.23,1955.86 C1493.49,1954.23 1493.21,1955.67 1495.82,1953.06 C1498.43,1950.45 1498.47,1948.92 1501.41,1944.68 C1504.34,1940.44 1505.46,1939.92 1508.4,1934.9 C1511.33,1929.88 1511.05,1927.4 1513.99,1923.16 C1516.92,1918.92 1517.71,1919.99 1520.97,1916.73 C1524.23,1913.47 1525.22,1910.49 1527.96,1909.18 C1530.7,1907.88 1530.1,1908.73 1532.71,1911.14 C1535.32,1913.55 1536.66,1915.29 1539.14,1919.52 C1541.62,1923.76 1541.18,1924.42 1543.33,1929.31 C1545.48,1934.2 1546.08,1935.27 1548.36,1940.49 C1550.64,1945.7 1550.37,1946.58 1553.11,1951.67 C1555.85,1956.75 1556.51,1958.37 1560.1,1962.29 C1563.69,1966.2 1564.57,1966.28 1568.49,1968.43 C1572.4,1970.59 1573.61,1970.73 1576.87,1971.51 C1580.13,1972.29 1578.51,1971.72 1582.46,1971.79 C1586.41,1971.85 1588.5,1971.79 1593.79,1971.79 C1599.08,1971.79 1599.84,1971.79 1605.13,1971.79 C1610.42,1971.79 1611.17,1971.79 1616.46,1971.79 C1621.75,1971.79 1622.51,1971.79 1627.8,1971.79 C1633.09,1971.79 1633.84,1971.79 1639.13,1971.79 C1644.42,1971.79 1645.18,1971.79 1650.47,1971.79 C1655.76,1971.79 1656.51,1971.79 1661.8,1971.79 C1667.09,1971.79 1667.85,1971.79 1673.14,1971.79 C1678.43,1971.79 1681.83,1971.79 1684.47,1971.79" fill="none" stroke="#c1444a" stroke-width="2.4"/>
<path d="M1223.32,2055.08 C1225.98,2055.08 1229.41,2055.08 1234.73,2055.08 C1240.06,2055.08 1240.82,2055.08 1246.14,2055.08 C1251.47,2055.08 1252.23,2055.08 1257.56,2055.08 C1262.88,2055.08 1263.64,2055.08 1268.97,2055.08 C1274.3,2055.08 1275.06,2055.08 1280.38,2055.08 C1285.71,2055.08 1286.52,2055.4 1291.79,2055.08 C1297.07,2054.75 1297.76,2054.79 1302.97,2053.68 C1308.19,2052.57 1309.59,2052.28 1314.15,2050.32 C1318.72,2048.37 1319.15,2047.97 1322.54,2045.29 C1325.93,2042.62 1326.21,2042.45 1328.69,2038.87 C1331.16,2035.28 1331.2,2035.92 1333.16,2029.92 C1335.11,2023.92 1335.31,2022.28 1337.07,2013.15 C1338.83,2004.02 1339.01,2001.88 1340.7,1990.79 C1342.4,1979.71 1342.71,1977.38 1344.34,1965.64 C1345.97,1953.9 1345.93,1952.22 1347.69,1940.49 C1349.45,1928.75 1350.06,1924.79 1351.88,1915.33 C1353.71,1905.88 1353.89,1905.37 1355.52,1899.96 C1357.15,1894.55 1357.44,1893.77 1358.87,1892.14 C1360.31,1890.5 1360.36,1890.82 1361.67,1892.97 C1362.97,1895.13 1363.03,1895.49 1364.46,1901.36 C1365.9,1907.23 1366.18,1909 1367.81,1918.13 C1369.44,1927.26 1369.75,1929.4 1371.45,1940.49 C1373.14,1951.57 1373.32,1953.9 1375.08,1965.64 C1376.84,1977.38 1377.04,1980.36 1378.99,1990.79 C1380.95,2001.23 1381.31,2003.18 1383.47,2010.36 C1385.62,2017.53 1385.8,2016.32 1388.22,2021.54 C1390.63,2026.75 1390.22,2029.85 1393.81,2032.72 C1397.39,2035.59 1398.05,2033.7 1403.59,2033.83 C1409.13,2033.96 1411.69,2033.41 1417.56,2033.28 C1423.43,2033.15 1424.18,2033.01 1428.74,2033.28 C1433.31,2033.54 1433.87,2033.74 1437.13,2034.39 C1440.39,2035.05 1440.11,2034.83 1442.72,2036.07 C1445.33,2037.31 1445.37,2037.55 1448.31,2039.7 C1451.24,2041.86 1452.03,2043.01 1455.29,2045.29 C1458.55,2047.58 1457.39,2047.72 1462.28,2049.49 C1467.17,2051.25 1469.73,2051.73 1476.25,2052.84 C1482.78,2053.95 1483.06,2053.72 1490.23,2054.24 C1497.4,2054.76 1500.32,2054.88 1507,2055.08 C1513.67,2055.27 1513.31,2055.08 1518.83,2055.08 C1524.35,2055.08 1525.14,2055.08 1530.66,2055.08 C1536.18,2055.08 1536.97,2055.08 1542.49,2055.08 C1548.01,2055.08 1548.8,2055.08 1554.32,2055.08 C1559.85,2055.08 1560.63,2055.08 1566.16,2055.08 C1571.68,2055.08 1572.47,2055.08 1577.99,2055.08 C1583.51,2055.08 1584.3,2055.08 1589.82,2055.08 C1595.34,2055.08 1596.13,2055.08 1601.65,2055.08 C1607.17,2055.08 1607.96,2055.08 1613.48,2055.08 C1619,2055.08 1619.79,2055.08 1625.31,2055.08 C1630.84,2055.08 1631.62,2055.08 1637.15,2055.08 C1642.67,2055.08 1643.46,2055.08 1648.98,2055.08 C1654.5,2055.08 1655.29,2055.08 1660.81,2055.08 C1666.33,2055.08 1667.12,2055.08 1672.64,2055.08 C1678.16,2055.08 1681.71,2055.08 1684.47,2055.08" fill="none" stroke="#5f98d6" stroke-width="2.4"/>
<rect x="1223.3" y="1791" width="461.2" height="266" fill="none" stroke="#000000" stroke-width="1.8"/>
<text transform="translate(1233.7 1891.6) scale(0.96 1)">EDV/AAV</text>
<text transform="translate(1242.9 2024.9) scale(0.96 1)">LVV<tspan dy="-13" font-size="16.88">high</tspan></text>
<line x1="1244.28" y1="2056.5" x2="1244.28" y2="2063.5" stroke="#000000" stroke-width="1.5"/>
<line x1="1313.59" y1="2056.5" x2="1313.59" y2="2063.5" stroke="#000000" stroke-width="1.5"/>
<line x1="1363.06" y1="2056.5" x2="1363.06" y2="2063.5" stroke="#000000" stroke-width="1.5"/>
<line x1="1413.37" y1="2056.5" x2="1413.37" y2="2063.5" stroke="#000000" stroke-width="1.5"/>
<line x1="1511.75" y1="2056.5" x2="1511.75" y2="2063.5" stroke="#000000" stroke-width="1.5"/>
<line x1="1601.46" y1="2056.5" x2="1601.46" y2="2063.5" stroke="#000000" stroke-width="1.5"/>
<line x1="1223.32" y1="2056.5" x2="1223.32" y2="2060.5" stroke="#000000" stroke-width="1.3"/>
<line x1="1230.31" y1="2056.5" x2="1230.31" y2="2060.5" stroke="#000000" stroke-width="1.3"/>
<line x1="1237.29" y1="2056.5" x2="1237.29" y2="2060.5" stroke="#000000" stroke-width="1.3"/>
<line x1="1253.23" y1="2056.5" x2="1253.23" y2="2060.5" stroke="#000000" stroke-width="1.3"/>
<line x1="1265.24" y1="2056.5" x2="1265.24" y2="2060.5" stroke="#000000" stroke-width="1.3"/>
<line x1="1284.81" y1="2056.5" x2="1284.81" y2="2060.5" stroke="#000000" stroke-width="1.3"/>
<line x1="1325.33" y1="2056.5" x2="1325.33" y2="2060.5" stroke="#000000" stroke-width="1.3"/>
<line x1="1332.32" y1="2056.5" x2="1332.32" y2="2060.5" stroke="#000000" stroke-width="1.3"/>
<line x1="1336.51" y1="2056.5" x2="1336.51" y2="2060.5" stroke="#000000" stroke-width="1.3"/>
<line x1="1342.1" y1="2056.5" x2="1342.1" y2="2060.5" stroke="#000000" stroke-width="1.3"/>
<line x1="1349.09" y1="2056.5" x2="1349.09" y2="2060.5" stroke="#000000" stroke-width="1.3"/>
<line x1="1357.47" y1="2056.5" x2="1357.47" y2="2060.5" stroke="#000000" stroke-width="1.3"/>
<line x1="1360.27" y1="2056.5" x2="1360.27" y2="2060.5" stroke="#000000" stroke-width="1.3"/>
<line x1="1365.86" y1="2056.5" x2="1365.86" y2="2060.5" stroke="#000000" stroke-width="1.3"/>
<line x1="1370.05" y1="2056.5" x2="1370.05" y2="2060.5" stroke="#000000" stroke-width="1.3"/>
<line x1="1377.04" y1="2056.5" x2="1377.04" y2="2060.5" stroke="#000000" stroke-width="1.3"/>
<line x1="1386.82" y1="2056.5" x2="1386.82" y2="2060.5" stroke="#000000" stroke-width="1.3"/>
<line x1="1392.41" y1="2056.5" x2="1392.41" y2="2060.5" stroke="#000000" stroke-width="1.3"/>
<line x1="1400.79" y1="2056.5" x2="1400.79" y2="2060.5" stroke="#000000" stroke-width="1.3"/>
<line x1="1406.38" y1="2056.5" x2="1406.38" y2="2060.5" stroke="#000000" stroke-width="1.3"/>
<line x1="1410.02" y1="2056.5" x2="1410.02" y2="2060.5" stroke="#000000" stroke-width="1.3"/>
<line x1="1462.28" y1="2056.5" x2="1462.28" y2="2060.5" stroke="#000000" stroke-width="1.3"/>
<line x1="1481.84" y1="2056.5" x2="1481.84" y2="2060.5" stroke="#000000" stroke-width="1.3"/>
<line x1="1493.02" y1="2056.5" x2="1493.02" y2="2060.5" stroke="#000000" stroke-width="1.3"/>
<line x1="1500.01" y1="2056.5" x2="1500.01" y2="2060.5" stroke="#000000" stroke-width="1.3"/>
<line x1="1505.6" y1="2056.5" x2="1505.6" y2="2060.5" stroke="#000000" stroke-width="1.3"/>
<line x1="1509.23" y1="2056.5" x2="1509.23" y2="2060.5" stroke="#000000" stroke-width="1.3"/>
<line x1="1560.1" y1="2056.5" x2="1560.1" y2="2060.5" stroke="#000000" stroke-width="1.3"/>
<line x1="1574.07" y1="2056.5" x2="1574.07" y2="2060.5" stroke="#000000" stroke-width="1.3"/>
<line x1="1583.86" y1="2056.5" x2="1583.86" y2="2060.5" stroke="#000000" stroke-width="1.3"/>
<line x1="1590.84" y1="2056.5" x2="1590.84" y2="2060.5" stroke="#000000" stroke-width="1.3"/>
<line x1="1596.43" y1="2056.5" x2="1596.43" y2="2060.5" stroke="#000000" stroke-width="1.3"/>
<line x1="1599.23" y1="2056.5" x2="1599.23" y2="2060.5" stroke="#000000" stroke-width="1.3"/>
<line x1="1628.57" y1="2056.5" x2="1628.57" y2="2060.5" stroke="#000000" stroke-width="1.3"/>
<line x1="1645.34" y1="2056.5" x2="1645.34" y2="2060.5" stroke="#000000" stroke-width="1.3"/>
<line x1="1655.13" y1="2056.5" x2="1655.13" y2="2060.5" stroke="#000000" stroke-width="1.3"/>
<line x1="1662.11" y1="2056.5" x2="1662.11" y2="2060.5" stroke="#000000" stroke-width="1.3"/>
<line x1="1667.7" y1="2056.5" x2="1667.7" y2="2060.5" stroke="#000000" stroke-width="1.3"/>
<line x1="1671.89" y1="2056.5" x2="1671.89" y2="2060.5" stroke="#000000" stroke-width="1.3"/>
<line x1="1676.09" y1="2056.5" x2="1676.09" y2="2060.5" stroke="#000000" stroke-width="1.3"/>
<line x1="1680.28" y1="2056.5" x2="1680.28" y2="2060.5" stroke="#000000" stroke-width="1.3"/>
<line x1="1683.07" y1="2056.5" x2="1683.07" y2="2060.5" stroke="#000000" stroke-width="1.3"/>
<line x1="1357.3" y1="2056.5" x2="1357.3" y2="2064.5" stroke="#000000" stroke-width="1.5"/>
<line x1="1370.3" y1="2056.5" x2="1370.3" y2="2064.5" stroke="#000000" stroke-width="1.5"/>
<line x1="1358.6" y1="2056.5" x2="1358.6" y2="2062.5" stroke="#000000" stroke-width="1.1"/>
<line x1="1359.8" y1="2056.5" x2="1359.8" y2="2062.5" stroke="#000000" stroke-width="1.1"/>
<line x1="1361" y1="2056.5" x2="1361" y2="2062.5" stroke="#000000" stroke-width="1.1"/>
<line x1="1362.2" y1="2056.5" x2="1362.2" y2="2062.5" stroke="#000000" stroke-width="1.1"/>
<line x1="1364.6" y1="2056.5" x2="1364.6" y2="2062.5" stroke="#000000" stroke-width="1.1"/>
<line x1="1365.8" y1="2056.5" x2="1365.8" y2="2062.5" stroke="#000000" stroke-width="1.1"/>
<line x1="1367" y1="2056.5" x2="1367" y2="2062.5" stroke="#000000" stroke-width="1.1"/>
<line x1="1368.2" y1="2056.5" x2="1368.2" y2="2062.5" stroke="#000000" stroke-width="1.1"/>
<text transform="translate(1367 2097.4) scale(0.96 1)" text-anchor="middle">0</text>
<text transform="translate(1498.6 2096.4) scale(0.96 1)">10<tspan dy="-13" font-size="16.88">4</tspan></text>
<text transform="translate(1591.4 2096.4) scale(0.96 1)">10<tspan dy="-13" font-size="16.88">5</tspan></text>
<text transform="translate(1222.5 2134.7) scale(0.96 1)" font-size="24.59">EGFR (BV510)</text>
<line x1="1399.4" y1="2127.2" x2="1656.7" y2="2127.2" stroke="#000000" stroke-width="1.9"/>
<path d="M1653.7,2121.7 L1667.7,2127.2 L1653.7,2132.7 L1657.7,2127.2 Z" fill="#000000"/>
</svg></body></html>
